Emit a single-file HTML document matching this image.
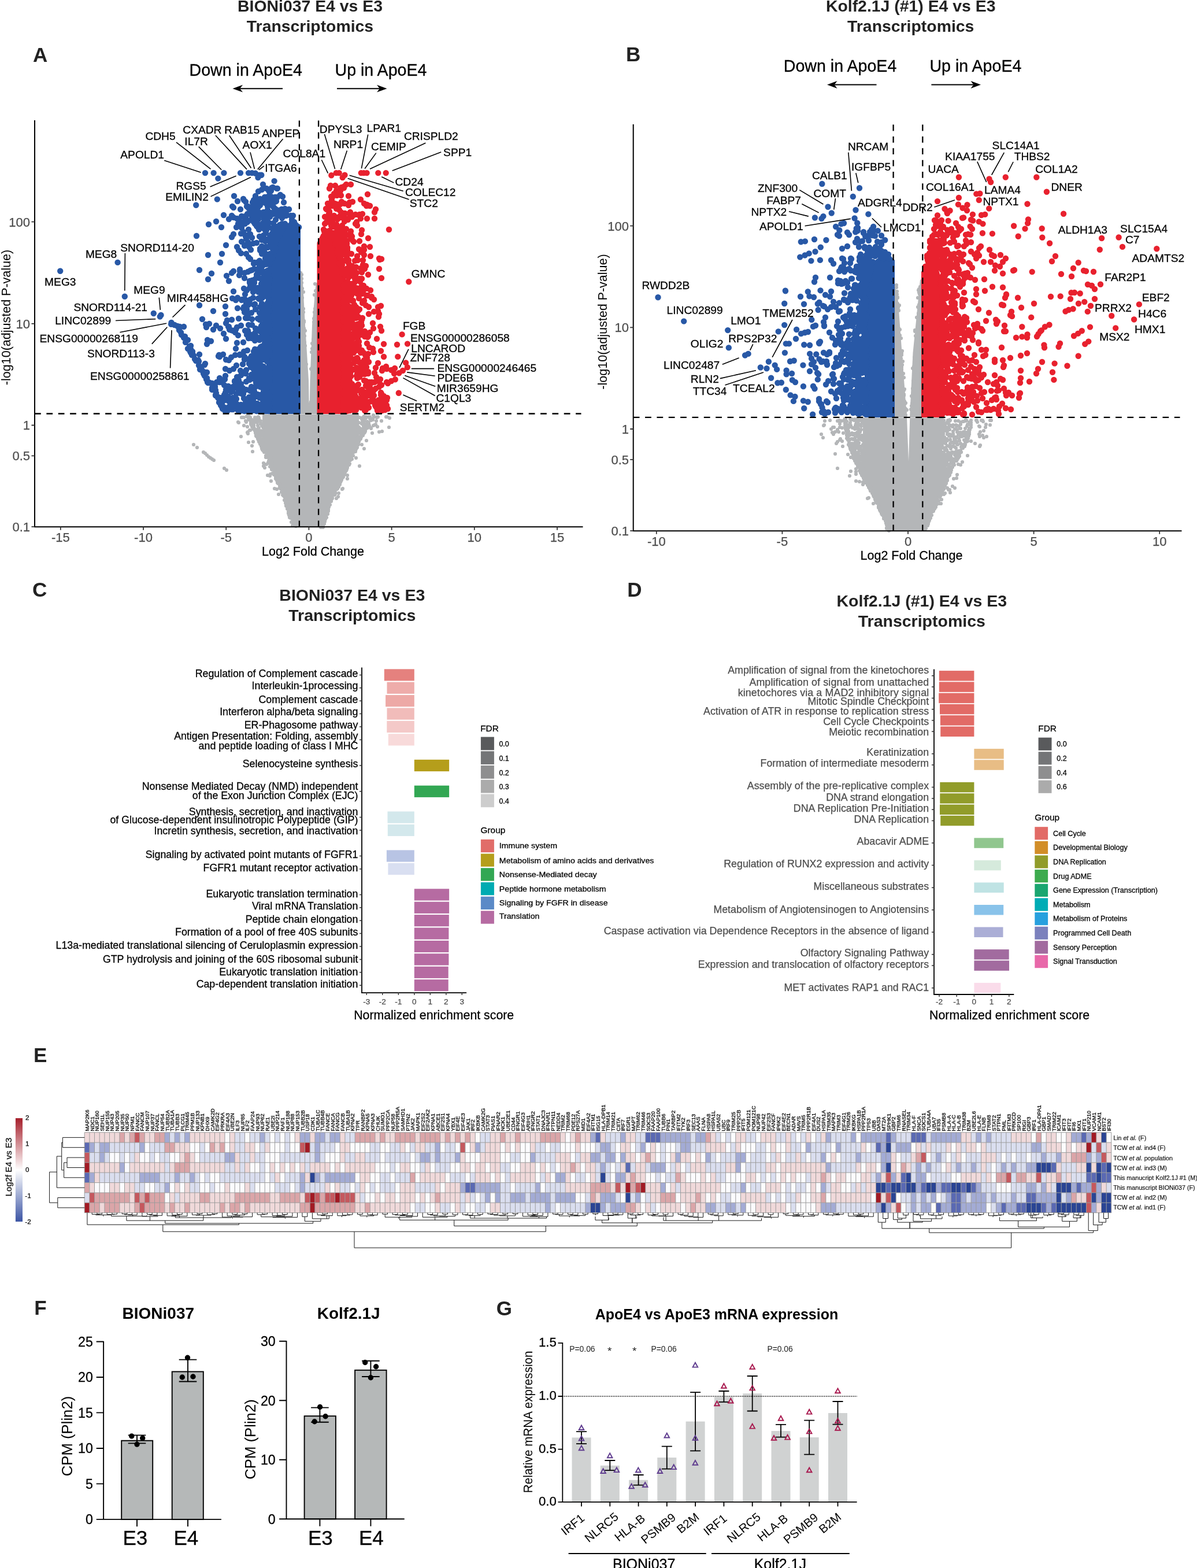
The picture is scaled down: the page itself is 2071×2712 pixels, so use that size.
<!DOCTYPE html>
<html lang="en"><head><meta charset="utf-8"><title>Figure</title>
<style>
html,body{margin:0;padding:0;background:#fff}
svg{display:block;font-family:"Liberation Sans",Arial,Helvetica,sans-serif}
.s{stroke:#000;stroke-width:.28px}
.g{fill:#4d4d4d;stroke:#4d4d4d;stroke-width:.25px}
</style></head><body>
<svg width="2071" height="2712" viewBox="0 0 2071 2712">
<rect width="2071" height="2712" fill="#fff"/>
<g id="pA">
<text x="536.5" y="19.6" font-size="28.4" text-anchor="middle" font-weight="bold" fill="#222">BIONi037 E4 vs E3</text>
<text x="536.5" y="54.5" font-size="28.4" text-anchor="middle" font-weight="bold" fill="#222">Transcriptomics</text>
<text x="57.1" y="106.7" font-size="35" font-weight="bold" fill="#222">A</text>
<text x="327.5" y="130.6" font-size="28.6" class="s">Down in ApoE4</text>
<text x="579.5" y="130.6" font-size="28.6" class="s">Up in ApoE4</text>
<path d="M489 153.2L415.1 153.2" stroke="#000" stroke-width="2"/><path d="M402.5 153.2L420 146.8L415.1 153.2L420 159.6Z" fill="#000"/>
<path d="M583 153.2L656.9 153.2" stroke="#000" stroke-width="2"/><path d="M669.5 153.2L652 159.6L656.9 153.2L652 146.8Z" fill="#000"/>
<path d="M454 716.5L454 724.6L454 732.7L454 740.8L454 748.9L454 757L454 765.1L454 773.2L457 781.3L460.6 789.4L464.2 797.5L467.8 805.6L471.5 813.8L475.1 821.9L478.8 830L482.5 838.1L486.1 846.2L489.8 854.3L492.6 862.4L495.1 870.5L497.5 878.6L500 886.7L502.4 894.8L504.9 902.9L507.8 911L558.2 911L561 902.9L563.8 894.8L566.7 886.7L569.5 878.6L572.4 870.5L575.2 862.4L578.4 854.3L582.4 846.2L586.4 838.1L590.4 830L594.4 821.9L598.4 813.8L602.2 805.6L605.9 797.5L609.6 789.4L613.3 781.3L617 773.2L620.7 765.1L621 757L621 748.9L621 740.8L621 732.7L621 724.6L621 716.5Z" fill="#b4b6b8"/>
<path d="M519 716V468L523 470L528 563L534 658L535 716ZM550 716V488L546.5 490L540 563L536.5 658L535.5 716Z" fill="#b4b6b8"/>
<path d="M600 806h0M597 817h0M625 754h0M439 736h0M639 736h0M559 909h0M584 845h0M474 821h0M447 755h0M604 804h0M593 819h0M467 807h0M557 912h0M459 779h0M453 774h0M501 883h0M560 904h0M501 895h0M509 909h0M495 869h0M439 735h0M438 741h0M436 738h0M478 827h0M625 755h0M440 741h0M451 759h0M616 777h0M448 759h0M635 738h0M446 759h0M456 776h0M639 736h0M464 790h0M510 905h0M446 754h0M565 895h0M575 862h0M624 756h0M467 800h0M645 726h0M616 768h0M481 834h0M437 731h0M592 827h0M503 896h0M428 721h0M443 752h0M481 829h0M555 909h0M580 852h0M647 721h0M576 854h0M600 812h0M612 780h0M575 861h0M575 861h0M606 786h0M561 893h0M566 886h0M485 840h0M638 734h0M559 911h0M574 861h0M600 804h0M643 724h0M470 812h0M585 838h0M451 768h0M449 757h0M559 894h0M612 782h0M447 757h0M506 889h0M480 831h0M567 881h0M579 856h0M468 806h0M448 760h0M613 779h0M506 909h0M499 888h0M577 856h0M433 722h0M468 806h0M441 745h0M485 840h0M569 875h0M489 851h0M427 720h0M490 857h0M577 854h0M584 838h0M504 894h0M561 899h0M585 840h0M606 791h0M507 902h0M485 845h0M580 843h0M617 759h0M595 822h0M613 780h0M436 734h0M594 825h0M495 875h0M498 874h0M444 745h0M595 818h0M507 902h0M504 903h0M614 774h0M584 842h0M458 779h0M568 882h0M555 906h0M481 829h0M481 836h0M557 907h0M479 827h0M491 852h0M561 904h0M453 770h0M569 877h0M470 811h0M506 898h0M494 870h0M489 852h0M608 787h0M632 742h0M452 767h0M461 791h0M475 821h0M582 842h0M568 884h0M575 862h0M504 894h0M618 760h0M500 891h0M455 768h0M497 880h0M606 796h0M430 721h0M511 906h0M594 816h0M444 755h0M439 739h0M478 829h0M448 754h0M510 898h0M637 730h0M457 782h0M472 818h0M580 854h0M443 753h0M447 756h0M476 818h0M576 855h0M485 840h0M558 909h0M620 768h0M501 876h0M564 892h0M498 867h0M492 859h0M430 720h0M585 842h0M493 848h0M581 846h0M558 912h0M579 854h0M588 838h0M452 768h0M461 791h0M618 767h0M560 906h0M559 912h0M589 834h0M642 727h0M445 751h0M483 837h0M595 820h0M461 789h0M615 773h0M453 776h0M631 748h0M609 794h0M559 910h0M638 732h0M507 907h0M596 820h0M557 908h0M482 835h0M447 758h0M477 821h0M468 807h0M479 831h0M555 912h0M496 861h0M569 871h0M460 788h0M587 833h0M492 865h0M556 896h0M430 726h0M485 839h0M478 823h0M592 825h0M460 791h0M574 863h0M434 732h0M497 868h0M465 801h0M582 845h0M615 781h0M471 801h0M637 737h0M477 828h0M487 851h0M624 759h0M434 734h0M456 773h0M611 788h0M578 856h0M562 897h0M497 874h0M461 780h0M451 766h0M461 789h0M625 756h0M571 873h0M626 752h0M503 889h0M594 824h0M561 906h0M594 824h0M434 734h0M633 734h0M632 746h0M622 761h0M595 819h0M559 906h0M599 814h0M506 896h0M567 879h0M566 880h0M557 904h0M496 874h0M464 800h0M469 791h0M447 758h0M439 730h0M636 740h0M434 730h0M590 832h0M443 754h0M621 764h0M444 754h0M628 752h0M499 877h0M618 769h0M593 824h0M476 812h0M497 874h0M595 821h0M494 846h0M431 720h0M575 857h0M442 749h0M566 887h0M586 842h0M629 747h0M646 718h0M438 734h0M493 857h0M561 904h0M499 885h0M505 896h0M500 879h0M630 749h0M457 779h0M601 809h0M609 788h0M601 808h0M568 879h0M489 856h0M486 828h0M495 873h0M484 838h0M456 776h0M609 794h0M493 860h0M562 902h0M499 879h0M441 745h0M447 753h0M568 881h0M442 749h0M465 797h0M596 817h0M573 867h0M465 798h0M603 796h0M583 846h0M430 722h0M439 739h0M596 817h0M628 749h0M563 894h0M630 746h0M559 910h0M621 756h0M484 840h0M591 830h0M612 782h0M633 742h0M630 744h0M477 827h0M563 895h0M632 742h0M618 774h0M501 880h0M477 825h0M559 910h0M487 846h0M605 792h0M496 874h0M442 746h0M479 829h0M477 828h0M484 843h0M560 905h0M471 809h0M572 865h0M597 812h0M468 798h0M589 828h0M605 802h0M456 780h0M571 860h0M493 864h0M438 742h0M475 816h0M475 820h0M454 778h0M564 895h0M578 847h0M622 761h0M588 828h0M632 742h0M504 903h0M458 781h0M564 892h0M480 832h0M645 724h0M560 900h0M470 810h0M507 892h0M499 881h0M567 889h0M624 757h0M436 728h0M495 859h0M493 857h0M579 853h0M447 761h0M490 856h0M581 847h0M608 790h0M450 763h0M563 898h0M635 736h0M604 804h0M480 835h0M619 767h0M494 865h0M616 772h0M512 910h0M597 808h0M475 815h0M454 752h0M452 751h0M453 764h0M453 764h0M453 762h0M448 725h0M447 754h0M445 722h0M455 770h0M454 733h0M450 765h0M455 779h0M456 780h0M454 770h0M453 736h0M448 752h0M453 750h0M445 730h0M456 761h0M446 727h0M449 747h0M440 726h0M448 746h0M455 776h0M436 733h0M451 763h0M453 766h0M444 726h0M443 730h0M451 760h0M452 754h0M446 750h0M452 760h0M455 779h0M451 758h0M451 733h0M452 772h0M448 754h0M454 771h0M455 748h0M441 722h0M454 735h0M444 729h0M449 765h0M451 748h0M441 725h0M452 745h0M455 769h0M445 747h0M455 773h0M451 762h0M448 760h0M448 723h0M455 776h0M454 761h0M454 764h0M446 736h0M444 730h0M453 773h0M453 751h0M450 765h0M451 748h0M443 723h0M445 731h0M446 729h0M450 768h0M455 769h0M451 755h0M455 772h0M436 726h0M455 779h0M445 748h0M454 763h0M448 764h0M453 765h0M456 779h0M452 750h0M455 774h0M451 765h0M451 753h0M441 743h0M437 732h0M448 740h0M455 750h0M441 729h0M455 767h0M447 743h0M450 763h0M447 721h0M452 745h0M451 728h0M439 742h0M455 774h0M446 742h0M447 724h0M456 779h0M454 774h0M445 747h0M455 739h0M620 767h0M628 742h0M628 722h0M623 746h0M621 763h0M620 769h0M621 731h0M634 734h0M620 758h0M627 730h0M628 753h0M627 751h0M630 733h0M638 721h0M629 721h0M620 738h0M619 767h0M628 723h0M621 763h0M629 737h0M620 760h0M627 753h0M626 746h0M630 720h0M620 758h0M619 740h0M621 761h0M625 753h0M624 754h0M623 747h0M621 760h0M621 741h0M620 763h0M626 725h0M624 748h0M619 743h0M619 764h0M621 731h0M619 767h0M623 757h0M626 733h0M619 766h0M625 748h0M636 738h0M631 741h0M619 732h0M621 759h0M621 757h0M634 721h0M626 754h0M631 744h0M619 757h0M623 747h0M620 764h0M629 731h0M620 766h0M620 744h0M620 767h0M620 738h0M629 736h0M626 723h0M628 731h0M619 761h0M622 759h0M626 746h0M634 735h0M619 768h0M626 742h0M622 722h0M633 723h0M622 740h0M624 743h0M631 744h0M620 766h0M635 729h0M621 739h0M619 749h0M640 721h0M623 749h0M640 724h0M630 727h0M632 734h0M620 740h0M620 769h0M429 747h0M429 750h0M463 822h0M432 744h0M418 722h0M660 728h0M417 755h0M670 721h0M482 855h0M650 734h0M436 771h0M461 803h0M421 722h0M656 747h0M433 744h0M582 862h0M422 736h0M437 781h0M456 806h0M592 846h0M652 721h0M668 721h0M661 746h0M654 721h0M644 749h0M428 748h0M648 735h0M601 822h0M438 764h0M586 853h0M475 845h0M467 823h0M469 832h0M642 741h0M479 846h0M458 809h0M456 801h0M428 738h0M653 738h0M626 769h0M673 739h0M646 736h0M425 728h0M412 730h0M468 820h0M630 776h0M585 859h0M651 728h0M422 722h0M616 792h0M430 765h0M622 806h0M652 722h0M634 762h0M674 723h0M593 845h0M642 740h0M601 828h0M413 731h0M426 730h0M523 532h0M525 540h0M544 595h0M541 679h0M540 603h0M538 695h0M525 534h0M530 663h0M526 581h0M540 594h0M526 555h0M537 700h0M550 495h0M547 546h0M519 487h0M539 638h0M541 662h0M547 515h0M526 557h0M528 572h0M519 489h0M527 608h0M524 544h0M535 709h0M538 697h0M543 590h0M538 638h0M545 491h0M534 705h0M534 705h0M539 639h0M530 668h0M536 709h0M526 555h0M529 659h0M544 552h0M527 581h0M522 507h0M542 587h0M530 630h0M528 598h0M523 527h0M543 551h0M526 602h0M530 657h0M534 713h0M545 557h0M546 503h0M531 662h0M544 540h0M530 652h0M527 592h0M525 505h0M530 698h0M532 698h0M520 517h0M540 636h0M524 581h0M523 499h0M523 515h0M522 482h0M543 599h0M539 609h0M521 490h0M522 489h0M524 593h0M544 551h0M535 708h0M541 618h0M538 701h0M526 568h0M530 650h0M522 475h0M527 630h0M523 515h0M545 534h0M525 560h0M543 557h0M527 612h0M544 551h0M547 527h0M544 510h0M534 711h0M547 528h0M335 769h0M341 774h0M352 782h0M355 784h0M358 787h0M361 790h0M364 792h0M367 794h0M370 796h0M388 810h0M392 813h0" stroke="#b4b6b8" stroke-width="6.2" stroke-linecap="round" fill="none"/>
<path d="M461 716V470L474 428L484 400L497 386L513 383L520 390V716Z" fill="#2858a6"/>
<path d="M463 668h0M453 534h0M442 584h0M462 427h0M467 643h0M455 606h0M432 578h0M463 617h0M442 605h0M350 552h0M442 669h0M394 705h0M390 679h0M459 486h0M458 437h0M435 628h0M468 416h0M454 610h0M446 466h0M458 653h0M388 683h0M360 483h0M450 430h0M432 486h0M423 481h0M392 691h0M455 663h0M477 429h0M451 600h0M440 489h0M413 433h0M465 551h0M463 542h0M448 397h0M458 661h0M422 531h0M472 396h0M409 699h0M422 499h0M449 451h0M459 417h0M449 607h0M466 650h0M396 694h0M421 681h0M433 496h0M453 599h0M458 671h0M429 550h0M473 417h0M423 425h0M356 561h0M455 497h0M435 669h0M466 609h0M448 456h0M415 613h0M457 676h0M457 576h0M464 657h0M447 708h0M358 595h0M449 553h0M456 634h0M345 613h0M441 700h0M421 534h0M430 585h0M429 419h0M433 676h0M484 389h0M403 688h0M460 708h0M456 586h0M427 520h0M406 659h0M427 550h0M445 619h0M438 702h0M436 411h0M464 708h0M416 671h0M462 625h0M433 629h0M452 510h0M429 549h0M465 562h0M463 524h0M438 708h0M464 711h0M442 639h0M449 461h0M454 573h0M489 396h0M456 663h0M450 455h0M447 633h0M465 444h0M432 489h0M449 621h0M443 625h0M426 660h0M453 633h0M450 497h0M386 613h0M449 619h0M384 439h0M452 491h0M423 540h0M413 665h0M460 414h0M449 541h0M459 548h0M445 498h0M481 398h0M466 524h0M409 632h0M426 674h0M445 682h0M492 391h0M475 432h0M407 575h0M451 468h0M424 572h0M427 502h0M457 576h0M441 526h0M399 698h0M413 658h0M476 413h0M440 581h0M460 606h0M391 559h0M456 544h0M452 482h0M425 696h0M438 618h0M478 393h0M474 412h0M465 503h0M417 664h0M411 533h0M454 642h0M435 648h0M445 710h0M462 546h0M380 661h0M474 422h0M461 691h0M395 705h0M458 512h0M422 608h0M389 710h0M461 457h0M430 527h0M380 654h0M439 683h0M443 660h0M444 479h0M318 565h0M456 682h0M461 561h0M477 406h0M445 624h0M401 472h0M461 538h0M417 649h0M373 683h0M463 451h0M456 647h0M466 521h0M465 530h0M444 466h0M463 575h0M447 709h0M473 396h0M466 456h0M466 703h0M461 530h0M420 671h0M455 530h0M454 615h0M451 583h0M455 648h0M454 666h0M450 711h0M456 571h0M382 701h0M440 615h0M375 661h0M438 505h0M429 545h0M447 604h0M439 639h0M438 615h0M410 593h0M467 442h0M451 710h0M394 710h0M456 561h0M377 688h0M433 468h0M424 532h0M447 619h0M391 586h0M445 392h0M461 469h0M441 589h0M384 661h0M460 711h0M426 640h0M430 701h0M468 419h0M441 502h0M460 575h0M378 616h0M459 539h0M437 622h0M431 654h0M466 556h0M420 682h0M464 684h0M455 502h0M467 410h0M421 703h0M395 673h0M424 518h0M465 708h0M463 486h0M466 686h0M438 693h0M476 409h0M391 674h0M422 689h0M374 563h0M429 709h0M397 641h0M413 675h0M437 689h0M481 404h0M465 539h0M455 689h0M388 666h0M345 528h0M435 541h0M416 641h0M465 607h0M449 607h0M465 594h0M451 645h0M427 696h0M472 431h0M441 604h0M443 500h0M458 678h0M465 518h0M467 455h0M439 688h0M440 465h0M424 509h0M465 519h0M463 473h0M465 693h0M463 642h0M381 568h0M462 709h0M458 667h0M457 701h0M461 553h0M433 692h0M460 644h0M442 580h0M441 640h0M423 709h0M449 688h0M450 573h0M365 590h0M445 698h0M453 525h0M452 709h0M408 666h0M433 492h0M474 426h0M390 638h0M464 500h0M461 398h0M457 454h0M357 566h0M453 439h0M436 467h0M482 408h0M434 635h0M399 698h0M422 707h0M450 669h0M460 566h0M391 622h0M487 395h0M419 646h0M383 688h0M431 687h0M467 654h0M467 711h0M454 657h0M475 392h0M410 707h0M438 680h0M408 519h0M468 421h0M446 659h0M410 661h0M423 617h0M399 695h0M481 405h0M461 562h0M442 709h0M409 690h0M427 579h0M485 404h0M465 703h0M400 618h0M442 535h0M455 459h0M421 701h0M455 710h0M459 710h0M432 707h0M425 699h0M456 474h0M417 700h0M402 516h0M436 585h0M439 456h0M481 401h0M438 496h0M467 615h0M455 612h0M442 568h0M465 601h0M425 698h0M457 488h0M440 619h0M453 483h0M463 428h0M441 637h0M444 709h0M415 705h0M460 695h0M431 629h0M450 501h0M448 665h0M467 444h0M462 610h0M465 508h0M459 539h0M431 622h0M461 655h0M464 494h0M419 709h0M379 614h0M460 489h0M425 709h0M453 614h0M472 430h0M464 552h0M410 427h0M454 561h0M466 487h0M461 603h0M359 588h0M461 455h0M453 586h0M406 692h0M455 503h0M420 630h0M448 517h0M462 700h0M389 692h0M428 606h0M448 647h0M462 566h0M439 527h0M417 563h0M395 565h0M476 404h0M452 550h0M449 633h0M453 550h0M390 650h0M436 485h0M452 465h0M457 552h0M463 660h0M396 486h0M447 663h0M460 701h0M393 554h0M454 705h0M460 503h0M460 449h0M458 613h0M444 666h0M411 669h0M420 710h0M456 484h0M461 688h0M395 706h0M466 567h0M432 620h0M466 659h0M450 630h0M478 402h0M431 427h0M462 578h0M464 481h0M463 584h0M443 704h0M387 577h0M453 410h0M446 551h0M435 495h0M433 694h0M438 632h0M431 523h0M412 580h0M464 473h0M465 696h0M443 662h0M435 616h0M403 669h0M389 656h0M467 483h0M463 588h0M470 446h0M404 672h0M429 572h0M438 633h0M440 686h0M419 674h0M460 702h0M433 687h0M467 575h0M456 395h0M460 642h0M366 473h0M404 691h0M392 477h0M461 685h0M455 693h0M417 438h0M462 613h0M456 650h0M425 550h0M451 496h0M443 619h0M442 645h0M427 535h0M432 657h0M465 696h0M449 640h0M463 710h0M355 629h0M463 468h0M448 660h0M461 661h0M403 572h0M459 642h0M466 702h0M459 500h0M419 518h0M457 705h0M406 660h0M456 513h0M450 620h0M407 614h0M396 673h0M457 428h0M425 409h0M395 686h0M451 700h0M396 623h0M460 536h0M426 439h0M465 601h0M452 667h0M354 631h0M408 570h0M454 706h0M454 515h0M464 681h0M443 708h0M449 588h0M455 581h0M415 711h0M439 655h0M454 643h0M451 708h0M462 664h0M437 710h0M443 648h0M466 596h0M397 703h0M443 585h0M410 652h0M408 603h0M404 469h0M433 518h0M438 617h0M441 576h0M414 476h0M403 708h0M436 562h0M475 434h0M449 613h0M479 414h0M461 582h0M447 505h0M456 513h0M471 446h0M409 681h0M433 448h0M463 670h0M426 525h0M466 595h0M451 611h0M477 421h0M455 622h0M463 540h0M445 655h0M445 614h0M369 570h0M426 423h0M460 472h0M440 677h0M436 552h0M466 661h0M456 704h0M411 515h0M455 709h0M400 678h0M467 439h0M460 403h0M415 614h0M446 500h0M435 671h0M454 544h0M462 553h0M482 403h0M426 413h0M415 466h0M444 475h0M407 706h0M415 469h0M464 709h0M447 516h0M360 441h0M423 622h0M429 543h0M425 646h0M418 519h0M458 617h0M423 621h0M463 588h0M444 711h0M456 677h0M444 682h0M390 530h0M466 538h0M445 454h0M438 515h0M450 650h0M417 706h0M415 708h0M450 433h0M410 566h0M449 409h0M482 393h0M423 711h0M401 553h0M452 564h0M400 571h0M380 617h0M467 637h0M449 657h0M486 392h0M417 670h0M450 703h0M462 638h0M448 569h0M455 484h0M484 400h0M458 594h0M450 711h0M465 440h0M439 608h0M434 672h0M447 707h0M395 668h0M432 498h0M397 570h0M465 511h0M405 699h0M345 467h0M462 496h0M432 581h0M462 567h0M471 404h0M464 641h0M457 541h0M451 683h0M454 566h0M390 543h0M450 393h0M471 428h0M464 474h0M464 575h0M410 699h0M467 595h0M465 488h0M430 445h0M445 606h0M412 710h0M433 709h0M453 426h0M409 701h0M455 528h0M442 498h0M437 632h0M453 670h0M462 443h0M454 498h0M467 688h0M456 407h0M472 397h0M459 707h0M424 708h0M362 560h0M456 665h0M460 682h0M436 710h0M449 630h0M475 413h0M447 473h0M466 703h0M396 565h0M412 708h0M416 680h0M429 470h0M460 677h0M433 405h0M460 427h0M446 708h0M474 433h0M465 665h0M460 448h0M447 705h0M442 686h0M430 562h0M432 703h0M440 708h0M459 481h0M459 475h0M404 638h0M430 711h0M421 592h0M457 414h0M457 682h0M454 611h0M464 586h0M450 531h0M461 708h0M438 421h0M459 447h0M488 396h0M467 685h0M463 699h0M441 483h0M462 612h0M462 552h0M426 698h0M413 551h0M463 473h0M460 663h0M466 607h0M440 454h0M449 481h0M434 432h0M423 472h0M448 683h0M401 708h0M443 667h0M381 454h0M404 504h0M471 427h0M465 562h0M369 538h0M461 602h0M428 370h0M433 364h0M493 361h0M505 380h0M463 363h0M479 326h0M459 371h0M466 338h0M453 328h0M465 330h0M485 337h0M503 373h0M437 370h0M491 350h0M482 371h0M424 374h0M464 343h0M445 372h0M470 325h0M450 344h0M455 319h0M509 384h0M442 339h0M444 371h0M507 373h0M445 381h0M448 373h0M442 382h0M488 387h0M450 389h0M478 392h0M478 348h0M441 353h0M472 324h0M443 347h0M430 382h0M444 381h0M505 385h0M480 393h0M482 391h0M452 371h0M473 358h0M477 347h0M493 387h0M439 346h0M463 357h0M473 386h0M477 367h0M484 369h0M473 370h0M444 346h0M500 362h0M444 391h0M470 371h0M441 363h0M423 383h0M454 346h0M450 344h0M469 330h0M476 341h0M480 372h0M478 365h0M466 351h0M439 378h0M477 380h0M482 393h0M492 369h0M459 351h0M487 362h0M435 379h0M457 374h0M447 331h0M489 372h0M495 373h0M488 362h0M481 373h0M483 369h0M430 370h0M488 377h0M440 365h0M456 367h0M489 340h0M480 341h0M469 340h0M418 394h0M412 387h0M517 393h0M479 363h0M440 363h0M464 356h0M424 387h0M465 369h0M495 369h0M451 372h0M480 392h0M471 349h0M417 387h0M467 375h0M445 351h0M464 346h0M476 361h0M476 349h0M493 364h0M439 384h0M474 393h0M450 355h0M461 379h0M443 377h0M441 387h0M461 387h0M474 359h0M472 368h0M425 381h0M409 393h0M480 326h0M437 350h0M468 341h0M414 386h0M442 340h0M461 326h0M383 393h0M361 388h0M458 396h0M441 369h0M460 378h0M396 379h0M430 360h0M458 343h0M438 352h0M458 397h0M430 397h0M438 376h0M466 351h0M465 393h0M466 338h0M460 384h0M404 359h0M463 375h0M444 391h0M415 383h0M401 410h0M402 357h0M464 344h0M461 381h0M455 386h0M444 420h0M340 408h0M404 376h0M447 379h0M422 346h0M418 418h0M436 364h0M448 367h0M470 405h0M438 378h0M411 348h0M447 358h0M429 357h0M418 374h0M401 373h0M465 385h0M457 379h0M410 378h0M425 349h0M459 346h0M469 346h0M469 368h0M421 401h0M405 339h0M458 341h0M404 405h0M438 356h0M428 407h0M461 382h0M461 341h0M429 382h0M425 376h0M423 386h0M387 372h0M374 383h0M391 424h0M417 404h0M457 385h0M421 344h0M427 357h0M428 384h0M458 374h0M416 362h0M453 415h0M333 608h0M357 656h0M367 674h0M372 670h0M389 707h0M359 659h0M330 608h0M353 645h0M346 639h0M325 603h0M344 632h0M379 696h0M385 707h0M307 564h0M380 693h0M383 702h0M363 662h0M325 588h0M348 637h0M346 635h0M373 684h0M320 582h0M329 599h0M354 649h0M372 668h0M369 669h0M352 646h0M328 605h0M358 644h0M367 663h0M310 568h0M321 592h0M373 675h0M355 644h0M328 599h0M332 614h0M353 648h0M314 579h0M311 565h0M337 621h0M384 696h0M330 604h0M384 696h0M330 598h0M384 704h0M367 671h0M318 584h0M333 611h0M335 615h0M313 575h0M374 680h0M344 625h0M390 707h0M378 687h0M384 698h0M354 650h0M310 571h0M358 654h0M302 562h0M339 624h0M346 634h0M320 583h0M359 661h0M343 623h0M387 704h0M329 608h0M385 705h0M350 641h0M360 662h0M330 610h0" stroke="#2858a6" stroke-width="10.4" stroke-linecap="round" fill="none"/>
<path d="M104.2 468.8h0M203.6 453.9h0M215.8 512.8h0M265.8 542h0M276.8 547.5h0M278.5 545h0M296.1 560.7h0M296.5 558h0M355 299.1h0M369.6 299.1h0M387.4 299.1h0M377.3 308.6h0M416 299.1h0M430 299.1h0M436 299.1h0M441.9 299.7h0M449.3 302.7h0M446.4 307.1h0M452.3 302.7h0M474.6 313.1h0M375.8 344.6h0M339.2 354.8h0" stroke="#2858a6" stroke-width="10.4" stroke-linecap="round" fill="none"/>
<path d="M548.5 716V420L556 404L580 408Q595 430 598 480V716Z" fill="#e8212e"/>
<path d="M610 505h0M621 516h0M595 695h0M604 675h0M603 674h0M594 690h0M631 573h0M596 680h0M595 503h0M613 685h0M637 643h0M613 579h0M594 621h0M602 470h0M592 467h0M614 603h0M595 681h0M640 427h0M590 402h0M615 501h0M598 588h0M608 533h0M594 521h0M596 644h0M609 491h0M637 646h0M602 574h0M593 615h0M594 702h0M622 417h0M623 568h0M610 693h0M606 544h0M604 530h0M599 529h0M608 584h0M595 573h0M630 658h0M612 678h0M594 404h0M629 501h0M587 414h0M632 614h0M613 708h0M617 650h0M641 502h0M624 579h0M626 698h0M601 429h0M612 584h0M598 609h0M640 670h0M594 576h0M638 543h0M598 530h0M582 420h0M609 578h0M602 678h0M598 673h0M625 705h0M600 525h0M590 421h0M664 595h0M609 531h0M625 496h0M595 640h0M626 502h0M596 548h0M598 497h0M615 478h0M595 535h0M630 623h0M594 691h0M646 609h0M600 538h0M648 697h0M616 462h0M634 668h0M599 710h0M683 637h0M598 706h0M628 501h0M595 651h0M601 437h0M634 697h0M638 531h0M610 492h0M589 411h0M621 598h0M614 482h0M586 425h0M630 441h0M594 629h0M618 547h0M595 417h0M628 505h0M626 678h0M600 601h0M606 650h0M612 501h0M595 636h0M626 482h0M624 464h0M603 701h0M603 593h0M595 468h0M612 709h0M594 704h0M617 546h0M595 567h0M612 561h0M600 641h0M613 681h0M618 623h0M601 522h0M601 545h0M598 497h0M627 550h0M610 477h0M603 480h0M622 652h0M599 687h0M625 695h0M664 617h0M609 475h0M604 631h0M597 703h0M594 451h0M635 619h0M687 596h0M613 698h0M594 532h0M590 434h0M595 521h0M596 698h0M660 481h0M598 434h0M639 695h0M634 579h0M614 536h0M598 677h0M610 698h0M682 646h0M637 704h0M596 689h0M586 432h0M616 550h0M605 613h0M629 684h0M619 621h0M592 470h0M605 605h0M601 428h0M611 670h0M615 709h0M598 700h0M614 578h0M619 666h0M628 639h0M650 703h0M598 597h0M622 645h0M667 695h0M609 664h0M612 699h0M582 417h0M617 675h0M597 534h0M620 665h0M594 659h0M643 515h0M637 475h0M604 666h0M618 548h0M613 539h0M601 661h0M595 697h0M595 554h0M657 449h0M593 540h0M606 618h0M595 640h0M594 658h0M611 598h0M669 661h0M600 445h0M602 477h0M629 494h0M631 627h0M598 627h0M596 607h0M600 507h0M637 582h0M655 548h0M622 504h0M621 499h0M601 433h0M613 527h0M599 642h0M603 581h0M618 508h0M600 711h0M606 541h0M609 520h0M629 691h0M578 412h0M617 542h0M611 544h0M599 451h0M617 472h0M600 700h0M643 661h0M586 431h0M652 586h0M615 505h0M641 443h0M621 645h0M601 494h0M661 641h0M623 695h0M601 504h0M599 693h0M618 654h0M598 636h0M628 696h0M594 472h0M615 625h0M592 473h0M619 450h0M603 500h0M596 702h0M599 682h0M635 594h0M621 560h0M600 703h0M626 553h0M596 695h0M608 638h0M598 633h0M625 699h0M600 420h0M584 433h0M605 542h0M609 460h0M656 543h0M581 419h0M595 601h0M600 561h0M604 514h0M661 710h0M602 688h0M595 575h0M623 487h0M622 690h0M616 687h0M603 695h0M614 597h0M659 529h0M605 632h0M633 667h0M600 623h0M609 672h0M602 464h0M606 472h0M601 554h0M629 610h0M611 697h0M603 656h0M599 631h0M594 556h0M602 660h0M647 675h0M647 518h0M599 686h0M613 639h0M631 465h0M587 455h0M606 708h0M593 604h0M597 628h0M591 450h0M598 637h0M591 459h0M600 600h0M626 508h0M598 415h0M594 663h0M611 566h0M597 471h0M595 408h0M600 706h0M612 418h0M619 499h0M636 643h0M611 568h0M660 572h0M601 464h0M592 458h0M604 628h0M609 704h0M606 471h0M602 702h0M601 487h0M610 695h0M597 555h0M616 620h0M606 497h0M581 405h0M595 495h0M599 434h0M643 676h0M588 446h0M656 447h0M637 626h0M613 506h0M603 617h0M626 471h0M580 423h0M625 558h0M594 665h0M618 443h0M603 509h0M639 601h0M632 695h0M608 511h0M600 420h0M589 446h0M603 610h0M631 582h0M625 405h0M625 501h0M609 696h0M596 585h0M593 440h0M596 658h0M604 569h0M600 422h0M598 603h0M629 704h0M610 544h0M607 579h0M584 438h0M639 661h0M605 638h0M603 603h0M595 492h0M626 563h0M630 630h0M621 626h0M605 693h0M618 561h0M594 593h0M646 568h0M600 650h0M600 541h0M595 693h0M647 539h0M614 488h0M628 450h0M607 651h0M637 412h0M618 534h0M596 630h0M600 634h0M620 537h0M654 538h0M600 711h0M607 694h0M596 435h0M597 477h0M638 626h0M631 644h0M620 548h0M607 707h0M585 408h0M624 551h0M619 586h0M602 616h0M600 645h0M595 515h0M614 690h0M607 406h0M627 524h0M614 668h0M616 709h0M597 707h0M606 689h0M600 589h0M597 698h0M585 435h0M656 669h0M598 709h0M621 431h0M631 637h0M630 426h0M607 413h0M622 482h0M616 606h0M599 429h0M611 708h0M614 451h0M599 493h0M643 513h0M645 603h0M605 710h0M600 641h0M633 528h0M654 531h0M603 691h0M637 612h0M603 450h0M634 499h0M623 574h0M628 458h0M594 680h0M634 511h0M650 672h0M597 493h0M625 681h0M597 540h0M588 437h0M656 465h0M630 689h0M658 565h0M608 599h0M648 661h0M662 637h0M661 706h0M633 709h0M587 421h0M607 551h0M649 701h0M636 583h0M598 706h0M643 662h0M594 708h0M607 619h0M633 460h0M633 659h0M634 626h0M595 527h0M608 591h0M615 594h0M606 516h0M640 575h0M598 520h0M603 685h0M589 421h0M660 448h0M604 514h0M610 497h0M593 420h0M622 535h0M598 538h0M608 559h0M630 520h0M607 668h0M609 584h0M610 416h0M603 455h0M607 688h0M609 697h0M611 597h0M592 410h0M599 678h0M611 520h0M612 610h0M624 610h0M594 550h0M601 582h0M609 554h0M616 498h0M596 579h0M598 502h0M618 619h0M651 652h0M612 708h0M617 636h0M616 531h0M592 425h0M632 622h0M601 563h0M587 432h0M617 699h0M625 436h0M613 471h0M602 577h0M611 679h0M608 465h0M609 409h0M617 567h0M659 607h0M594 465h0M608 439h0M632 625h0M626 606h0M620 580h0M630 432h0M606 587h0M620 508h0M615 695h0M623 648h0M604 678h0M603 656h0M645 559h0M619 534h0M605 491h0M622 604h0M634 668h0M628 432h0M669 701h0M597 663h0M604 542h0M621 675h0M613 569h0M619 577h0M623 485h0M636 511h0M621 591h0M596 691h0M597 369h0M585 355h0M575 341h0M575 383h0M568 360h0M576 403h0M570 379h0M562 404h0M562 387h0M574 375h0M576 405h0M560 397h0M565 362h0M578 352h0M576 375h0M584 356h0M569 370h0M588 374h0M602 378h0M570 369h0M562 404h0M580 356h0M570 366h0M570 399h0M590 376h0M583 338h0M590 338h0M618 390h0M562 404h0M596 369h0M650 362h0M623 372h0M582 330h0M615 387h0M621 372h0M576 392h0M582 388h0M636 336h0M626 398h0M610 349h0M589 325h0M585 356h0M587 363h0M606 367h0M571 385h0M574 346h0M581 358h0M606 373h0M567 407h0M586 355h0M599 319h0M595 325h0M576 379h0M569 407h0M572 321h0M605 350h0M573 390h0M564 400h0M591 349h0M609 375h0M634 356h0M596 383h0M569 378h0M648 378h0M580 321h0M573 356h0M591 393h0M603 339h0M561 400h0M596 322h0M583 400h0M578 373h0M635 378h0M602 380h0M627 370h0M581 393h0M575 356h0M589 407h0M589 330h0M590 367h0M635 354h0M615 371h0M630 352h0M585 376h0M648 367h0M585 378h0M582 361h0M582 353h0M567 352h0M564 361h0M564 385h0M570 402h0M589 353h0M603 355h0M640 356h0M570 326h0M594 400h0M596 352h0M585 361h0M588 353h0M617 384h0M590 351h0M624 378h0M622 371h0M574 403h0M584 379h0M588 393h0M594 374h0M579 352h0M607 319h0M599 396h0M600 406h0M578 335h0M562 403h0M607 400h0M573 340h0M592 390h0M591 324h0M624 345h0M562 375h0M606 690h0M669 638h0M605 659h0M624 634h0M660 666h0M613 675h0M658 701h0M632 707h0M634 635h0M652 706h0M662 693h0M665 692h0M618 647h0M637 677h0M671 707h0M649 694h0M654 628h0M653 707h0M639 684h0M616 702h0M648 645h0M658 656h0M645 689h0M652 697h0M661 687h0M632 698h0M608 709h0M606 703h0M632 688h0M608 641h0M612 628h0M631 647h0M649 701h0M606 693h0M654 707h0M677 659h0M660 700h0M642 694h0M635 699h0M623 637h0M670 688h0M664 685h0M630 678h0M652 659h0M666 709h0M656 659h0M659 683h0M653 710h0M634 643h0M655 657h0M660 681h0M614 682h0M659 679h0M638 705h0M606 646h0M630 643h0M655 692h0M626 674h0M635 706h0M677 640h0M655 659h0M671 663h0M615 706h0M606 645h0M634 679h0M650 636h0M610 702h0M645 683h0M647 684h0M631 710h0M626 647h0M618 704h0M668 634h0M629 689h0M669 692h0" stroke="#e8212e" stroke-width="10.4" stroke-linecap="round" fill="none"/>
<path d="M573.3 303.3h0M581.7 299.1h0M586.7 299.1h0M596.5 302.7h0M592.7 307.1h0M624.8 299.1h0M629.3 299.1h0M634.6 299.1h0M654.3 299.1h0M667.7 299.1h0M707.3 487.2h0M673 397h0M695.6 578.4h0M705 594.6h0M688.3 616.9h0M702.1 627.4h0M704.8 635.2h0M696.9 641h0M690.4 645.2h0M683.8 656.2h0M689.8 679.8h0" stroke="#e8212e" stroke-width="10.4" stroke-linecap="round" fill="none"/>
<path d="M60 208V911.2H1008.5" stroke="#000" stroke-width="2" fill="none"/>
<text x="52" y="391.5" font-size="22" text-anchor="end" class="g">100</text>
<text x="52" y="567.7" font-size="22" text-anchor="end" class="g">10</text>
<text x="52" y="743.4" font-size="22" text-anchor="end" class="g">1</text>
<text x="52" y="796.3" font-size="22" text-anchor="end" class="g">0.5</text>
<text x="52" y="919.1" font-size="22" text-anchor="end" class="g">0.1</text>
<text x="104.8" y="937" font-size="22" text-anchor="middle" class="g">-15</text>
<text x="248" y="937" font-size="22" text-anchor="middle" class="g">-10</text>
<text x="391.2" y="937" font-size="22" text-anchor="middle" class="g">-5</text>
<text x="534.4" y="937" font-size="22" text-anchor="middle" class="g">0</text>
<text x="677.6" y="937" font-size="22" text-anchor="middle" class="g">5</text>
<text x="820.8" y="937" font-size="22" text-anchor="middle" class="g">10</text>
<text x="964" y="937" font-size="22" text-anchor="middle" class="g">15</text>
<path d="M60 383.6h-5.5M60 559.8h-5.5M60 735.5h-5.5M60 788.4h-5.5M60 911.2h-5.5M104.8 911.2v5.5M248 911.2v5.5M391.2 911.2v5.5M534.4 911.2v5.5M677.6 911.2v5.5M820.8 911.2v5.5M964 911.2v5.5" stroke="#333" stroke-width="1.8" fill="none"/>
<path d="M60 715.5H1005.5" stroke="#000" stroke-width="2.3" stroke-dasharray="10.8 9.55" fill="none"/>
<path d="M517.9 911.2V208" stroke="#000" stroke-width="2.3" stroke-dasharray="10.8 9.55" fill="none"/>
<path d="M551.1 911.2V208" stroke="#000" stroke-width="2.3" stroke-dasharray="10.8 9.55" fill="none"/>
<text x="541.5" y="960.6" font-size="21.5" text-anchor="middle" class="s">Log2 Fold Change</text>
<text transform="translate(17.5 549) rotate(-90)" font-size="21.5" text-anchor="middle">-log10(adjusted P-value)</text>
<text x="251.4" y="241.7" font-size="19.2" class="s">CDH5</text>
<text x="316.3" y="230.7" font-size="19.2" class="s">CXADR</text>
<text x="388.3" y="230.7" font-size="19.2" class="s">RAB15</text>
<text x="453.2" y="237.2" font-size="19.2" class="s">ANPEP</text>
<text x="319.3" y="251.2" font-size="19.2" class="s">IL7R</text>
<text x="419.6" y="257.4" font-size="19.2" class="s">AOX1</text>
<text x="208.3" y="274.4" font-size="19.2" class="s">APOLD1</text>
<text x="489.5" y="272.3" font-size="19.2" class="s">COL8A1</text>
<text x="458.3" y="296.7" font-size="19.2" class="s">ITGA6</text>
<text x="304.4" y="328" font-size="19.2" class="s">RGS5</text>
<text x="286.2" y="346.7" font-size="19.2" class="s">EMILIN2</text>
<text x="552.8" y="229.5" font-size="19.2" class="s">DPYSL3</text>
<text x="634.6" y="228.3" font-size="19.2" class="s">LPAR1</text>
<text x="698.9" y="242.3" font-size="19.2" class="s">CRISPLD2</text>
<text x="576.9" y="256.2" font-size="19.2" class="s">NRP1</text>
<text x="642.1" y="260.4" font-size="19.2" class="s">CEMIP</text>
<text x="767.1" y="270.2" font-size="19.2" class="s">SPP1</text>
<text x="683.5" y="321.1" font-size="19.2" class="s">CD24</text>
<text x="701" y="339.3" font-size="19.2" class="s">COLEC12</text>
<text x="708.8" y="357.7" font-size="19.2" class="s">STC2</text>
<text x="711.7" y="480.4" font-size="19.2" class="s">GMNC</text>
<text x="208.3" y="434.8" font-size="19.2" class="s">SNORD114-20</text>
<text x="147.9" y="445.5" font-size="19.2" class="s">MEG8</text>
<text x="77.1" y="493.8" font-size="19.2" class="s">MEG3</text>
<text x="231.3" y="507.7" font-size="19.2" class="s">MEG9</text>
<text x="288.7" y="522" font-size="19.2" class="s">MIR4458HG</text>
<text x="127.4" y="538.4" font-size="19.2" class="s">SNORD114-21</text>
<text x="95.2" y="561" font-size="19.2" class="s">LINC02899</text>
<text x="68.5" y="592" font-size="19.2" class="s">ENSG00000268119</text>
<text x="150.9" y="617.9" font-size="19.2" class="s">SNORD113-3</text>
<text x="156" y="656.8" font-size="19.2" class="s">ENSG00000258861</text>
<text x="696.9" y="570.3" font-size="19.2" class="s">FGB</text>
<text x="710" y="591.2" font-size="19.2" class="s">ENSG00000286058</text>
<text x="711.3" y="608.5" font-size="19.2" class="s">LNCAROD</text>
<text x="709.5" y="625.3" font-size="19.2" class="s">ZNF728</text>
<text x="756.4" y="642.6" font-size="19.2" class="s">ENSG00000246465</text>
<text x="756.4" y="660.1" font-size="19.2" class="s">PDE6B</text>
<text x="755.8" y="677.7" font-size="19.2" class="s">MIR3659HG</text>
<text x="754.5" y="694.7" font-size="19.2" class="s">C1QL3</text>
<text x="691.7" y="711.2" font-size="19.2" class="s">SERTM2</text>
<path d="M305 246.1L364.5 292.3M343.7 253.6L383.3 293.8M372.9 234.2L427 292.9M396.7 234.2L434.5 290.8M433 263.4L440.4 292.3M489.5 240.2L445.8 292.9M456.8 287.2L447.9 293.8M284.2 277.4L347.6 298.2M363.6 322.9L408.6 304.2M364.5 339.9L433.9 306.5M556.4 276.5L567.4 299.7M561.4 232.1L579.6 292.3M600.4 260.4L589.7 292.9M636.7 232.7L625.4 291.4M650.7 264.6L631.1 291.7M736.4 247.3L640 292.3M763.2 263.1L678.7 295.2M681.4 316.1L660.2 305.7M697.7 330.4L604.6 303.3M707.6 344.9L601.6 308.6M216.4 438.1L215.8 502.7M275.3 514.6L277.4 536M320.5 527.4L298.5 548.8M200 554.5L269.3 551.8M207.4 574.7L288.1 559.2M262.8 594.9L289.3 565.8M294.6 636.6L297 571.1M706.9 603.8L691.1 635.8M711.8 637.6L751.1 637.6M704.2 643.9L752.7 650.2M700.3 649.4L753.2 668.2M697.4 653.6L752.7 684.5M697.4 682.9L721 693.4" stroke="#000" stroke-width="1.6" fill="none"/>
</g>
<g id="pB">
<text x="1575.7" y="19.6" font-size="28.4" text-anchor="middle" font-weight="bold" fill="#222">Kolf2.1J (#1) E4 vs E3</text>
<text x="1575.7" y="54.5" font-size="28.4" text-anchor="middle" font-weight="bold" fill="#222">Transcriptomics</text>
<text x="1083" y="106.4" font-size="35" font-weight="bold" fill="#222">B</text>
<text x="1355.8" y="124.2" font-size="28.6" class="s">Down in ApoE4</text>
<text x="1608.4" y="124.2" font-size="28.6" class="s">Up in ApoE4</text>
<path d="M1516.5 146.5L1443.6 146.5" stroke="#000" stroke-width="2"/><path d="M1431 146.5L1448.5 140.1L1443.6 146.5L1448.5 152.9Z" fill="#000"/>
<path d="M1611.4 146.5L1684.4 146.5" stroke="#000" stroke-width="2"/><path d="M1697 146.5L1679.5 152.9L1684.4 146.5L1679.5 140.1Z" fill="#000"/>
<path d="M1493 722.5L1493 730.6L1493 738.8L1493 746.9L1493 755L1493 763.1L1493 771.2L1493 779.4L1493 787.5L1493 795.6L1493 803.8L1493 811.9L1493 820L1495.9 828.1L1500.4 836.2L1504.9 844.4L1509.4 852.5L1513.6 860.6L1517.2 868.8L1520.9 876.9L1524.6 885L1528.3 893.1L1532 901.2L1534.3 909.4L1535.8 917.5L1600.7 917.5L1603.5 909.4L1606.6 901.2L1610.3 893.1L1614 885L1617.7 876.9L1621.4 868.8L1625 860.6L1628.6 852.5L1630 844.4L1630 836.2L1630 828.1L1630 820L1630 811.9L1630 803.8L1630 795.6L1630 787.5L1630 779.4L1630 771.2L1630 763.1L1630 755L1630 746.9L1630 738.8L1630 730.6L1630 722.5Z" fill="#b4b6b8"/>
<path d="M1547 722V498L1550 500L1553.5 515L1560.5 610L1569 722ZM1596 722V482L1592 484L1589 515L1579.5 610L1574 722Z" fill="#b4b6b8"/>
<path d="M1569 721L1572 798L1574.3 721Z" fill="#fff"/>
<path d="M1606 904h0M1501 839h0M1495 827h0M1470 767h0M1462 729h0M1639 824h0M1479 794h0M1626 852h0M1534 913h0M1634 836h0M1479 785h0M1501 839h0M1507 849h0M1525 883h0M1465 746h0M1636 836h0M1476 789h0M1617 876h0M1471 774h0M1528 886h0M1633 830h0M1672 757h0M1467 735h0M1627 858h0M1608 881h0M1519 870h0M1535 914h0M1488 815h0M1606 906h0M1495 827h0M1639 830h0M1533 900h0M1656 791h0M1517 858h0M1626 859h0M1474 782h0M1615 874h0M1677 745h0M1658 789h0M1535 910h0M1637 834h0M1491 816h0M1518 864h0M1673 752h0M1672 764h0M1486 806h0M1513 860h0M1635 832h0M1658 782h0M1530 892h0M1618 876h0M1476 786h0M1661 783h0M1648 806h0M1645 817h0M1465 741h0M1666 775h0M1487 814h0M1499 834h0M1527 890h0M1597 916h0M1472 778h0M1673 753h0M1650 801h0M1476 781h0M1673 757h0M1535 902h0M1677 751h0M1641 815h0M1614 884h0M1501 839h0M1527 891h0M1486 807h0M1529 892h0M1656 795h0M1655 785h0M1601 915h0M1618 875h0M1462 732h0M1499 828h0M1483 803h0M1613 884h0M1484 805h0M1489 811h0M1612 884h0M1505 845h0M1630 843h0M1484 808h0M1525 888h0M1462 731h0M1602 914h0M1475 777h0M1505 841h0M1497 830h0M1465 737h0M1659 784h0M1620 870h0M1658 792h0M1474 776h0M1520 878h0M1535 912h0M1534 900h0M1627 858h0M1606 904h0M1677 746h0M1617 879h0M1602 911h0M1637 836h0M1629 850h0M1520 867h0M1523 884h0M1509 853h0M1536 914h0M1632 835h0M1614 880h0M1653 793h0M1637 824h0M1465 740h0M1628 855h0M1615 881h0M1471 752h0M1507 844h0M1639 823h0M1635 840h0M1617 880h0M1612 885h0M1602 910h0M1480 794h0M1643 822h0M1470 772h0M1531 897h0M1472 772h0M1634 840h0M1672 754h0M1631 848h0M1533 905h0M1516 868h0M1465 742h0M1641 818h0M1652 797h0M1675 758h0M1612 891h0M1512 859h0M1627 846h0M1603 909h0M1663 782h0M1638 826h0M1630 845h0M1650 802h0M1478 790h0M1461 726h0M1490 819h0M1603 905h0M1476 778h0M1506 843h0M1529 897h0M1678 742h0M1604 905h0M1626 858h0M1624 866h0M1519 867h0M1526 890h0M1479 797h0M1463 736h0M1465 747h0M1677 744h0M1660 789h0M1620 867h0M1609 890h0M1662 779h0M1619 875h0M1610 885h0M1511 849h0M1607 902h0M1488 810h0M1467 761h0M1604 895h0M1630 839h0M1523 881h0M1503 843h0M1521 878h0M1463 724h0M1601 912h0M1472 768h0M1506 848h0M1465 758h0M1533 902h0M1514 864h0M1652 796h0M1476 788h0M1506 847h0M1520 875h0M1464 742h0M1465 751h0M1609 890h0M1522 882h0M1678 733h0M1633 846h0M1462 724h0M1678 730h0M1601 911h0M1609 889h0M1491 819h0M1518 861h0M1601 914h0M1472 768h0M1532 901h0M1635 836h0M1533 900h0M1469 768h0M1464 745h0M1471 776h0M1678 743h0M1522 881h0M1515 866h0M1477 775h0M1658 790h0M1607 900h0M1602 911h0M1465 729h0M1495 829h0M1643 814h0M1636 837h0M1615 881h0M1523 883h0M1646 813h0M1602 909h0M1608 891h0M1511 857h0M1498 835h0M1610 896h0M1680 731h0M1520 877h0M1671 762h0M1477 791h0M1658 789h0M1534 908h0M1476 785h0M1523 884h0M1634 836h0M1504 842h0M1617 877h0M1651 804h0M1677 748h0M1677 742h0M1505 845h0M1648 808h0M1605 901h0M1525 882h0M1618 872h0M1465 753h0M1676 747h0M1468 752h0M1505 846h0M1605 909h0M1518 861h0M1475 777h0M1501 839h0M1517 870h0M1669 770h0M1641 820h0M1653 794h0M1466 740h0M1654 793h0M1621 872h0M1626 852h0M1641 824h0M1501 837h0M1506 844h0M1618 878h0M1655 797h0M1645 810h0M1494 823h0M1496 826h0M1610 893h0M1484 802h0M1512 856h0M1463 734h0M1480 794h0M1468 769h0M1477 781h0M1462 736h0M1645 811h0M1601 914h0M1613 885h0M1521 878h0M1534 900h0M1649 804h0M1497 828h0M1468 753h0M1463 741h0M1488 815h0M1461 728h0M1497 830h0M1679 735h0M1629 853h0M1669 772h0M1488 812h0M1670 769h0M1538 918h0M1528 890h0M1529 894h0M1482 801h0M1469 750h0M1465 758h0M1474 783h0M1608 900h0M1477 787h0M1469 769h0M1674 734h0M1667 769h0M1515 865h0M1670 752h0M1615 884h0M1529 893h0M1502 838h0M1527 891h0M1680 735h0M1482 794h0M1676 754h0M1644 818h0M1603 908h0M1639 831h0M1521 877h0M1469 753h0M1608 900h0M1506 848h0M1653 794h0M1491 822h0M1473 779h0M1469 765h0M1629 851h0M1464 734h0M1645 813h0M1680 727h0M1609 889h0M1500 836h0M1626 856h0M1531 895h0M1670 764h0M1638 823h0M1478 781h0M1467 756h0M1464 728h0M1614 882h0M1613 882h0M1632 845h0M1472 774h0M1641 824h0M1462 729h0M1675 754h0M1510 850h0M1680 739h0M1660 785h0M1515 862h0M1637 830h0M1465 753h0M1674 758h0M1505 846h0M1506 849h0M1645 810h0M1477 793h0M1633 845h0M1481 801h0M1505 841h0M1534 914h0M1471 775h0M1668 771h0M1495 827h0M1662 782h0M1644 813h0M1468 759h0M1626 860h0M1674 763h0M1677 730h0M1522 881h0M1523 883h0M1609 890h0M1619 877h0M1675 757h0M1494 825h0M1489 817h0M1495 821h0M1493 817h0M1491 753h0M1481 789h0M1494 825h0M1491 725h0M1494 804h0M1479 771h0M1493 816h0M1467 744h0M1489 727h0M1495 816h0M1492 815h0M1472 775h0M1469 739h0M1494 770h0M1485 782h0M1493 823h0M1495 828h0M1483 738h0M1467 746h0M1493 823h0M1494 802h0M1485 795h0M1495 818h0M1493 817h0M1494 793h0M1479 778h0M1494 820h0M1490 725h0M1474 749h0M1474 767h0M1483 753h0M1492 815h0M1491 821h0M1480 782h0M1478 750h0M1492 807h0M1491 789h0M1494 805h0M1494 822h0M1489 801h0M1488 795h0M1494 824h0M1478 787h0M1471 737h0M1479 742h0M1494 803h0M1463 740h0M1490 791h0M1494 827h0M1490 743h0M1479 725h0M1491 813h0M1493 818h0M1481 767h0M1489 818h0M1484 737h0M1472 736h0M1494 814h0M1491 809h0M1487 727h0M1489 802h0M1477 770h0M1492 788h0M1482 728h0M1483 785h0M1494 725h0M1494 804h0M1488 775h0M1467 759h0M1493 730h0M1493 769h0M1491 784h0M1491 791h0M1476 760h0M1495 777h0M1495 800h0M1486 752h0M1480 766h0M1481 784h0M1480 767h0M1476 752h0M1495 780h0M1466 746h0M1485 773h0M1485 785h0M1493 772h0M1490 795h0M1492 795h0M1492 822h0M1475 740h0M1484 804h0M1494 763h0M1481 750h0M1482 739h0M1495 792h0M1495 823h0M1494 815h0M1471 731h0M1495 825h0M1477 774h0M1493 781h0M1494 823h0M1492 791h0M1494 824h0M1492 816h0M1486 766h0M1483 774h0M1486 797h0M1483 741h0M1486 793h0M1486 746h0M1491 795h0M1483 748h0M1492 811h0M1490 737h0M1494 827h0M1491 757h0M1485 727h0M1484 784h0M1473 751h0M1478 727h0M1466 739h0M1486 757h0M1473 759h0M1492 823h0M1484 747h0M1494 823h0M1486 760h0M1488 754h0M1463 742h0M1486 790h0M1494 825h0M1491 728h0M1483 784h0M1489 779h0M1495 827h0M1486 775h0M1495 828h0M1483 750h0M1480 756h0M1486 772h0M1485 776h0M1481 765h0M1486 795h0M1492 760h0M1481 733h0M1486 802h0M1495 796h0M1489 772h0M1481 750h0M1471 760h0M1493 798h0M1483 764h0M1480 761h0M1474 726h0M1480 794h0M1492 812h0M1495 824h0M1480 772h0M1480 771h0M1494 814h0M1492 819h0M1482 731h0M1488 793h0M1492 804h0M1483 725h0M1489 806h0M1491 761h0M1476 759h0M1494 788h0M1491 818h0M1479 766h0M1474 725h0M1485 741h0M1493 814h0M1492 804h0M1494 805h0M1488 789h0M1484 768h0M1476 740h0M1486 759h0M1485 808h0M1492 807h0M1481 737h0M1492 778h0M1489 789h0M1487 734h0M1494 788h0M1484 725h0M1480 736h0M1477 777h0M1495 829h0M1493 824h0M1479 773h0M1494 761h0M1487 793h0M1491 804h0M1471 725h0M1490 809h0M1484 774h0M1493 810h0M1468 746h0M1485 729h0M1492 732h0M1480 773h0M1488 790h0M1495 788h0M1487 774h0M1482 799h0M1491 793h0M1485 802h0M1483 734h0M1488 747h0M1633 791h0M1636 825h0M1630 767h0M1640 727h0M1644 813h0M1633 817h0M1667 729h0M1632 775h0M1634 801h0M1653 797h0M1628 855h0M1630 833h0M1635 832h0M1634 756h0M1637 790h0M1646 754h0M1629 852h0M1645 797h0M1646 785h0M1643 811h0M1629 850h0M1628 853h0M1639 812h0M1662 767h0M1629 848h0M1635 809h0M1640 732h0M1645 808h0M1640 825h0M1650 772h0M1643 821h0M1634 804h0M1629 854h0M1671 753h0M1666 729h0M1630 786h0M1629 851h0M1628 854h0M1636 741h0M1630 737h0M1628 856h0M1629 849h0M1634 822h0M1634 743h0M1659 758h0M1635 789h0M1641 804h0M1632 839h0M1635 760h0M1632 813h0M1629 730h0M1644 760h0M1654 758h0M1628 826h0M1632 747h0M1630 788h0M1636 778h0M1639 789h0M1628 847h0M1655 788h0M1635 779h0M1641 791h0M1629 852h0M1637 803h0M1654 735h0M1628 855h0M1636 810h0M1645 775h0M1671 726h0M1643 792h0M1649 752h0M1660 748h0M1637 794h0M1647 765h0M1629 842h0M1653 757h0M1676 733h0M1639 802h0M1628 844h0M1629 747h0M1639 751h0M1669 748h0M1629 853h0M1628 854h0M1628 854h0M1632 844h0M1635 795h0M1642 743h0M1629 771h0M1673 748h0M1632 845h0M1632 810h0M1636 738h0M1633 840h0M1634 826h0M1629 835h0M1638 822h0M1637 786h0M1669 761h0M1655 756h0M1630 845h0M1639 818h0M1641 805h0M1658 752h0M1664 749h0M1638 825h0M1638 759h0M1636 760h0M1658 728h0M1645 753h0M1631 819h0M1630 809h0M1644 736h0M1656 736h0M1664 770h0M1644 727h0M1642 754h0M1631 748h0M1662 748h0M1632 801h0M1632 761h0M1632 844h0M1635 829h0M1629 836h0M1669 747h0M1646 736h0M1636 777h0M1640 819h0M1671 727h0M1643 726h0M1629 782h0M1660 762h0M1660 781h0M1641 728h0M1631 758h0M1646 793h0M1639 771h0M1642 738h0M1654 788h0M1629 852h0M1629 741h0M1649 735h0M1645 801h0M1673 737h0M1638 787h0M1630 834h0M1631 837h0M1649 746h0M1628 788h0M1634 821h0M1629 855h0M1664 755h0M1675 734h0M1632 804h0M1654 775h0M1633 741h0M1649 736h0M1634 811h0M1632 843h0M1656 764h0M1662 734h0M1631 839h0M1644 794h0M1636 823h0M1635 794h0M1630 768h0M1628 855h0M1635 818h0M1628 851h0M1641 810h0M1652 742h0M1628 845h0M1656 784h0M1630 831h0M1645 789h0M1667 747h0M1631 836h0M1630 825h0M1662 741h0M1629 754h0M1631 821h0M1633 784h0M1628 802h0M1629 791h0M1633 835h0M1630 847h0M1656 747h0M1638 800h0M1629 829h0M1629 851h0M1630 819h0M1630 848h0M1633 798h0M1629 852h0M1662 753h0M1639 730h0M1636 836h0M1647 793h0M1643 743h0M1636 774h0M1647 782h0M1643 728h0M1641 786h0M1657 769h0M1639 815h0M1628 851h0M1633 821h0M1634 815h0M1663 754h0M1642 772h0M1662 767h0M1645 776h0M1630 772h0M1630 782h0M1628 853h0M1644 815h0M1668 754h0M1671 749h0M1644 772h0M1629 854h0M1632 805h0M1639 745h0M1677 741h0M1631 829h0M1654 781h0M1633 835h0M1651 759h0M1648 798h0M1633 818h0M1653 782h0M1662 730h0M1628 820h0M1652 773h0M1632 764h0M1631 726h0M1640 783h0M1639 746h0M1629 745h0M1634 805h0M1630 845h0M1630 828h0M1629 786h0M1628 845h0M1647 754h0M1636 824h0M1632 833h0M1645 795h0M1634 825h0M1663 773h0M1632 813h0M1632 750h0M1667 751h0M1635 734h0M1668 761h0M1649 771h0M1633 836h0M1634 807h0M1628 854h0M1653 783h0M1630 813h0M1635 817h0M1642 805h0M1628 853h0M1630 771h0M1636 765h0M1630 810h0M1631 844h0M1637 762h0M1629 848h0M1632 751h0M1629 840h0M1629 821h0M1633 821h0M1653 728h0M1676 748h0M1639 826h0M1629 744h0M1652 766h0M1633 731h0M1642 817h0M1656 743h0M1628 853h0M1657 784h0M1645 773h0M1635 806h0M1638 778h0M1628 856h0M1629 806h0M1629 818h0M1631 817h0M1656 768h0M1631 830h0M1630 823h0M1645 808h0M1647 797h0M1637 777h0M1629 814h0M1639 797h0M1639 762h0M1662 731h0M1629 820h0M1643 751h0M1658 780h0M1634 810h0M1644 792h0M1638 740h0M1648 782h0M1644 767h0M1631 739h0M1634 828h0M1662 755h0M1629 852h0M1638 795h0M1633 766h0M1632 844h0M1650 794h0M1634 821h0M1629 765h0M1636 798h0M1630 850h0M1632 825h0M1645 783h0M1629 851h0M1651 763h0M1670 741h0M1659 737h0M1652 756h0M1637 820h0M1630 838h0M1652 787h0M1645 809h0M1638 746h0M1629 809h0M1637 740h0M1628 847h0M1641 806h0M1672 727h0M1648 802h0M1649 750h0M1629 774h0M1644 761h0M1634 826h0M1655 737h0M1629 806h0M1634 797h0M1629 741h0M1676 744h0M1633 734h0M1631 785h0M1632 845h0M1630 756h0M1637 831h0M1661 741h0M1636 763h0M1648 765h0M1634 742h0M1656 791h0M1631 822h0M1632 788h0M1631 816h0M1640 782h0M1632 846h0M1629 841h0M1635 805h0M1629 744h0M1642 734h0M1631 812h0M1671 728h0M1632 818h0M1639 817h0M1636 767h0M1655 787h0M1628 856h0M1638 817h0M1633 823h0M1629 853h0M1653 759h0M1630 733h0M1631 842h0M1633 727h0M1631 794h0M1629 821h0M1648 738h0M1632 786h0M1644 753h0M1690 727h0M1427 728h0M1458 772h0M1695 772h0M1714 727h0M1690 727h0M1700 727h0M1449 728h0M1470 823h0M1705 739h0M1452 728h0M1691 730h0M1459 749h0M1694 751h0M1695 755h0M1702 757h0M1441 739h0M1628 871h0M1457 740h0M1472 815h0M1626 871h0M1698 727h0M1629 864h0M1487 833h0M1449 764h0M1652 844h0M1451 747h0M1453 739h0M1443 739h0M1501 862h0M1655 827h0M1656 821h0M1715 727h0M1445 785h0M1696 747h0M1650 828h0M1707 755h0M1453 761h0M1511 871h0M1449 810h0M1662 804h0M1694 737h0M1700 753h0M1438 742h0M1713 727h0M1445 747h0M1702 745h0M1457 763h0M1493 834h0M1493 838h0M1481 811h0M1449 743h0M1696 770h0M1674 788h0M1440 748h0M1481 820h0M1687 767h0M1635 853h0M1436 727h0M1472 791h0M1426 735h0M1447 767h0M1454 759h0M1648 841h0M1633 855h0M1639 844h0M1451 728h0M1425 736h0M1503 861h0M1421 751h0M1456 728h0M1701 729h0M1481 816h0M1442 751h0M1706 734h0M1643 847h0M1452 727h0M1690 728h0M1467 786h0M1680 763h0M1641 847h0M1481 832h0M1424 757h0M1644 852h0M1453 733h0M1689 727h0M1695 738h0M1658 803h0M1665 799h0M1713 735h0M1556 528h0M1555 568h0M1590 527h0M1583 573h0M1585 600h0M1589 544h0M1589 553h0M1577 702h0M1562 697h0M1554 532h0M1565 673h0M1577 685h0M1582 618h0M1551 512h0M1584 581h0M1560 611h0M1551 493h0M1561 607h0M1590 506h0M1562 670h0M1551 497h0M1559 620h0M1552 509h0M1578 703h0M1589 502h0M1556 586h0M1564 675h0M1555 537h0M1562 625h0M1555 587h0M1581 634h0M1560 635h0M1567 707h0M1564 684h0M1560 639h0M1557 570h0M1591 501h0M1561 653h0M1582 625h0M1553 525h0M1563 674h0M1553 514h0M1579 637h0M1559 585h0M1567 718h0M1562 652h0M1567 697h0M1552 504h0M1590 534h0M1582 642h0M1558 606h0M1566 713h0M1566 698h0M1565 715h0M1588 515h0M1582 651h0M1569 709h0M1581 659h0M1590 500h0M1565 705h0M1583 571h0M1589 542h0M1584 638h0M1588 531h0M1591 509h0M1578 698h0M1564 653h0M1561 654h0M1586 549h0M1564 682h0M1583 628h0M1592 496h0M1590 504h0M1580 659h0M1560 614h0M1583 616h0M1557 580h0M1582 631h0M1576 708h0M1553 525h0M1553 515h0M1579 672h0M1561 631h0M1556 579h0M1581 647h0M1578 702h0M1586 578h0M1583 610h0M1563 646h0M1565 694h0" stroke="#b4b6b8" stroke-width="6.2" stroke-linecap="round" fill="none"/>
<path d="M1496 722V500L1508 455L1522 444L1541 443L1548 450V722Z" fill="#2858a6"/>
<path d="M1493 537h0M1469 652h0M1469 621h0M1500 485h0M1490 634h0M1491 594h0M1498 493h0M1455 592h0M1486 565h0M1482 638h0M1454 585h0M1448 564h0M1481 498h0M1493 606h0M1497 467h0M1484 710h0M1401 642h0M1489 512h0M1488 461h0M1421 626h0M1494 557h0M1496 714h0M1429 665h0M1442 456h0M1440 584h0M1411 480h0M1481 682h0M1449 676h0M1445 714h0M1475 711h0M1458 701h0M1477 606h0M1498 709h0M1488 694h0M1488 663h0M1377 586h0M1478 588h0M1455 613h0M1451 539h0M1448 633h0M1490 714h0M1488 564h0M1449 709h0M1491 474h0M1471 514h0M1431 631h0M1460 647h0M1459 448h0M1491 511h0M1441 647h0M1497 615h0M1469 629h0M1490 690h0M1472 563h0M1496 517h0M1494 591h0M1471 455h0M1499 607h0M1428 714h0M1467 564h0M1473 552h0M1472 548h0M1496 673h0M1479 614h0M1433 713h0M1495 484h0M1471 702h0M1456 713h0M1480 591h0M1487 710h0M1452 663h0M1498 691h0M1463 547h0M1445 706h0M1503 451h0M1464 624h0M1485 707h0M1477 649h0M1428 549h0M1479 505h0M1482 702h0M1497 614h0M1478 700h0M1492 552h0M1500 442h0M1473 448h0M1446 705h0M1497 606h0M1461 626h0M1431 630h0M1490 531h0M1404 620h0M1495 568h0M1494 628h0M1472 668h0M1376 661h0M1477 586h0M1496 560h0M1478 545h0M1497 574h0M1458 598h0M1483 651h0M1503 478h0M1469 619h0M1479 698h0M1492 455h0M1490 642h0M1480 646h0M1477 644h0M1462 565h0M1493 504h0M1476 714h0M1494 619h0M1482 604h0M1488 572h0M1499 634h0M1475 694h0M1484 506h0M1480 614h0M1491 645h0M1485 639h0M1472 508h0M1474 660h0M1495 638h0M1498 504h0M1433 659h0M1498 453h0M1481 466h0M1487 480h0M1461 519h0M1479 677h0M1499 694h0M1458 607h0M1484 472h0M1453 570h0M1497 516h0M1486 689h0M1486 533h0M1497 554h0M1493 622h0M1493 540h0M1491 448h0M1493 489h0M1461 455h0M1482 461h0M1486 501h0M1494 554h0M1491 680h0M1460 464h0M1432 696h0M1485 589h0M1497 637h0M1442 522h0M1490 614h0M1496 682h0M1460 518h0M1498 547h0M1479 493h0M1461 507h0M1471 678h0M1455 596h0M1487 564h0M1506 460h0M1489 444h0M1494 694h0M1495 524h0M1491 663h0M1466 489h0M1491 661h0M1469 465h0M1499 694h0M1496 535h0M1479 554h0M1496 452h0M1450 490h0M1493 690h0M1398 574h0M1488 470h0M1494 570h0M1484 671h0M1498 529h0M1469 578h0M1483 665h0M1456 462h0M1486 676h0M1468 617h0M1496 497h0M1485 549h0M1464 680h0M1494 713h0M1476 689h0M1497 455h0M1492 658h0M1505 451h0M1482 576h0M1463 612h0M1493 517h0M1424 625h0M1463 467h0M1489 587h0M1472 692h0M1426 530h0M1470 679h0M1485 689h0M1460 656h0M1417 690h0M1484 620h0M1477 608h0M1495 658h0M1446 589h0M1461 707h0M1488 497h0M1477 635h0M1483 660h0M1489 711h0M1443 655h0M1453 673h0M1495 637h0M1491 660h0M1489 480h0M1490 687h0M1498 489h0M1492 484h0M1514 443h0M1495 574h0M1506 456h0M1487 534h0M1462 552h0M1499 617h0M1436 513h0M1496 470h0M1498 459h0M1440 648h0M1401 597h0M1470 612h0M1486 587h0M1494 657h0M1367 625h0M1490 494h0M1497 712h0M1499 521h0M1414 645h0M1407 668h0M1494 546h0M1438 677h0M1499 477h0M1480 634h0M1495 704h0M1472 703h0M1502 481h0M1492 463h0M1430 625h0M1459 490h0M1419 591h0M1497 573h0M1489 645h0M1475 564h0M1477 615h0M1482 618h0M1491 623h0M1481 471h0M1506 470h0M1479 618h0M1426 564h0M1485 566h0M1477 704h0M1494 575h0M1498 680h0M1484 659h0M1486 662h0M1477 512h0M1443 635h0M1470 542h0M1474 482h0M1487 451h0M1503 474h0M1411 563h0M1370 646h0M1467 523h0M1479 470h0M1496 461h0M1466 713h0M1485 545h0M1497 713h0M1489 533h0M1445 633h0M1404 630h0M1495 644h0M1408 626h0M1497 716h0M1485 697h0M1442 655h0M1417 593h0M1456 624h0M1471 535h0M1485 609h0M1447 689h0M1501 478h0M1452 524h0M1482 550h0M1500 460h0M1483 632h0M1488 645h0M1460 703h0M1459 549h0M1456 567h0M1497 482h0M1466 668h0M1464 645h0M1490 524h0M1478 558h0M1496 524h0M1492 673h0M1459 707h0M1446 628h0M1507 463h0M1482 601h0M1483 584h0M1455 663h0M1489 473h0M1467 497h0M1494 666h0M1465 557h0M1477 499h0M1453 581h0M1479 547h0M1479 622h0M1484 591h0M1500 467h0M1497 644h0M1491 713h0M1438 531h0M1450 556h0M1498 675h0M1507 453h0M1464 640h0M1499 676h0M1391 526h0M1502 465h0M1494 668h0M1425 557h0M1487 561h0M1456 491h0M1498 604h0M1489 511h0M1486 706h0M1497 582h0M1450 707h0M1484 652h0M1432 535h0M1500 502h0M1487 473h0M1496 579h0M1490 501h0M1482 676h0M1504 453h0M1465 593h0M1507 461h0M1435 575h0M1474 710h0M1480 665h0M1489 493h0M1472 468h0M1453 678h0M1486 631h0M1478 513h0M1484 707h0M1484 715h0M1494 554h0M1498 598h0M1494 562h0M1466 673h0M1480 628h0M1499 587h0M1482 707h0M1495 609h0M1478 577h0M1497 662h0M1463 486h0M1490 676h0M1502 476h0M1494 540h0M1452 570h0M1467 519h0M1472 603h0M1446 594h0M1457 577h0M1488 620h0M1469 639h0M1473 696h0M1491 498h0M1430 694h0M1496 548h0M1420 699h0M1491 633h0M1492 602h0M1510 453h0M1411 636h0M1465 685h0M1497 487h0M1445 596h0M1487 664h0M1483 576h0M1426 563h0M1496 644h0M1495 513h0M1454 486h0M1487 445h0M1431 613h0M1447 619h0M1464 684h0M1497 533h0M1484 623h0M1486 716h0M1438 450h0M1490 661h0M1468 588h0M1478 592h0M1424 529h0M1453 538h0M1484 554h0M1436 480h0M1486 481h0M1480 572h0M1479 694h0M1494 499h0M1495 615h0M1480 493h0M1473 662h0M1487 709h0M1493 631h0M1498 629h0M1465 684h0M1491 559h0M1491 544h0M1492 601h0M1463 674h0M1499 545h0M1494 507h0M1494 705h0M1484 550h0M1498 641h0M1446 531h0M1464 708h0M1467 691h0M1473 482h0M1459 625h0M1465 708h0M1487 668h0M1487 695h0M1500 626h0M1498 550h0M1480 516h0M1491 587h0M1466 602h0M1504 464h0M1488 682h0M1498 446h0M1485 574h0M1435 609h0M1485 640h0M1480 621h0M1480 661h0M1500 589h0M1500 580h0M1486 606h0M1467 657h0M1470 595h0M1492 707h0M1474 664h0M1476 597h0M1499 459h0M1421 699h0M1452 581h0M1470 645h0M1461 645h0M1490 571h0M1496 503h0M1495 571h0M1470 673h0M1459 688h0M1450 485h0M1475 688h0M1492 463h0M1477 618h0M1492 628h0M1442 664h0M1494 483h0M1499 597h0M1476 682h0M1482 511h0M1500 584h0M1492 485h0M1477 629h0M1494 627h0M1494 584h0M1446 633h0M1428 510h0M1481 580h0M1422 713h0M1408 514h0M1482 624h0M1497 475h0M1487 700h0M1456 668h0M1507 464h0M1504 483h0M1455 464h0M1484 664h0M1451 579h0M1491 491h0M1452 631h0M1499 598h0M1497 552h0M1486 597h0M1497 626h0M1498 712h0M1489 458h0M1488 539h0M1438 504h0M1417 694h0M1481 679h0M1461 470h0M1476 682h0M1478 700h0M1458 652h0M1487 467h0M1385 513h0M1496 690h0M1486 654h0M1452 469h0M1427 716h0M1435 611h0M1482 520h0M1488 679h0M1456 616h0M1472 554h0M1495 624h0M1481 640h0M1469 673h0M1472 562h0M1498 706h0M1484 495h0M1488 449h0M1498 529h0M1460 693h0M1456 680h0M1498 687h0M1483 664h0M1496 640h0M1444 708h0M1445 681h0M1425 610h0M1475 519h0M1481 684h0M1497 575h0M1494 713h0M1522 430h0M1484 399h0M1507 442h0M1501 434h0M1489 440h0M1510 404h0M1494 403h0M1496 427h0M1492 417h0M1528 446h0M1525 419h0M1510 396h0M1537 440h0M1505 401h0M1522 436h0M1514 408h0M1483 413h0M1525 434h0M1504 434h0M1510 436h0M1449 406h0M1486 427h0M1515 427h0M1466 402h0M1519 430h0M1503 407h0M1531 436h0M1460 386h0M1472 447h0M1484 394h0M1508 397h0M1514 442h0M1514 431h0M1525 423h0M1469 406h0M1531 439h0M1524 438h0M1521 440h0M1409 414h0M1509 432h0M1538 447h0M1499 441h0M1466 426h0M1457 447h0M1518 432h0M1509 407h0M1480 419h0M1504 428h0M1529 447h0M1452 408h0M1496 429h0M1503 416h0M1522 442h0M1523 434h0M1512 438h0M1518 418h0M1511 399h0M1457 430h0M1530 439h0M1527 446h0" stroke="#2858a6" stroke-width="10.4" stroke-linecap="round" fill="none"/>
<path d="M1422.3 318h0M1487 325.2h0M1475.8 340h0M1432.5 357.7h0M1438.7 368.5h0M1424.4 374.1h0M1421.4 378.1h0M1409.9 376.5h0M1480.5 363.2h0M1502.4 370.4h0M1478.6 377.5h0M1483.2 385.8h0M1455.4 387.4h0M1446.1 392h0M1452.3 398.2h0M1481.7 395.1h0M1480.2 401.3h0M1494.1 401.3h0M1511.1 392h0M1509.6 398.2h0M1518.8 399.1h0M1497.2 409h0M1525 407.5h0M1531.2 415.2h0M1487.9 417.7h0M1385.8 418.3h0M1392.9 417.4h0M1429.4 415.2h0M1384.2 444.6h0M1392.6 441.5h0M1399.7 438.4h0M1410.5 435.3h0M1419.8 427.6h0M1403.4 451.1h0M1418.9 449.9h0M1358.8 502.8h0M1138.5 514.2h0M1183.2 555.6h0M1259.2 571.1h0M1260.8 601.4h0M1289.1 614.5h0M1294.6 611.9h0M1329.9 625.5h0M1315.8 635.5h0M1326.5 637.3h0M1359 503.2h0M1357.2 525h0M1357.2 562.1h0M1346.7 573.4h0M1359.8 594.4h0M1365 594.4h0M1357.9 610.1h0M1373.7 623.7h0M1340.7 631.6h0M1344.1 638.9h0M1360.6 640.7h0M1360.6 647.3h0M1334.1 653.8h0M1345.4 662.2h0M1351.9 661.7h0M1370.8 657.2h0M1359.8 674h0M1367.6 683.4h0M1375.5 686h0M1372.9 693.9h0M1389.9 668.2h0M1389.4 631.6h0M1391.2 596.2h0M1378.1 570h0M1386 577.1h0M1392.5 575.2h0M1404.3 553h0M1406.9 564.8h0M1397.8 504.5h0M1400.4 512.4h0M1409 487.5h0M1419.5 502.4h0M1414.8 525.5h0M1417.4 522.9h0M1415.6 536h0M1417.4 594.1h0M1401.1 611.9h0M1412.2 612.7h0M1417.4 621.1h0M1416.1 647.3h0M1414.8 656.4h0M1409.5 672.2h0M1389.9 693.1h0M1397.8 695h0M1391.2 706.2h0M1406.1 716.7h0M1422.6 704.9h0M1425.3 711.4h0" stroke="#2858a6" stroke-width="10.4" stroke-linecap="round" fill="none"/>
<path d="M1594 722V470L1602 458L1622 462Q1630 480 1633 520V722Z" fill="#e8212e"/>
<path d="M1729 703h0M1705 614h0M1690 685h0M1642 666h0M1661 630h0M1637 460h0M1658 548h0M1721 622h0M1630 642h0M1641 596h0M1640 514h0M1639 637h0M1700 689h0M1646 523h0M1667 700h0M1637 672h0M1651 663h0M1640 641h0M1751 547h0M1632 644h0M1630 680h0M1649 716h0M1706 555h0M1656 659h0M1658 483h0M1700 572h0M1634 597h0M1676 571h0M1668 562h0M1643 566h0M1656 697h0M1658 555h0M1665 526h0M1677 580h0M1650 595h0M1666 529h0M1656 465h0M1700 572h0M1663 693h0M1640 680h0M1658 608h0M1657 633h0M1635 619h0M1635 699h0M1655 638h0M1645 653h0M1639 515h0M1647 687h0M1630 516h0M1715 676h0M1662 615h0M1647 688h0M1693 657h0M1650 514h0M1686 654h0M1677 624h0M1633 602h0M1636 513h0M1632 693h0M1638 614h0M1635 710h0M1654 713h0M1698 653h0M1637 496h0M1693 712h0M1644 713h0M1652 705h0M1649 622h0M1670 519h0M1641 630h0M1706 605h0M1643 667h0M1630 656h0M1656 602h0M1679 480h0M1698 569h0M1632 618h0M1636 516h0M1636 622h0M1636 531h0M1735 497h0M1648 709h0M1629 479h0M1643 471h0M1630 717h0M1777 584h0M1676 602h0M1631 545h0M1656 556h0M1649 623h0M1687 484h0M1673 676h0M1686 638h0M1675 689h0M1634 559h0M1633 709h0M1632 651h0M1758 584h0M1659 572h0M1638 629h0M1687 568h0M1653 535h0M1710 707h0M1657 678h0M1628 569h0M1671 557h0M1636 649h0M1647 627h0M1637 501h0M1736 528h0M1631 510h0M1704 503h0M1638 703h0M1644 691h0M1648 603h0M1640 605h0M1683 576h0M1657 690h0M1707 708h0M1640 608h0M1646 683h0M1637 685h0M1638 693h0M1647 656h0M1634 565h0M1635 486h0M1632 615h0M1651 641h0M1666 643h0M1668 586h0M1656 713h0M1667 680h0M1691 642h0M1702 648h0M1674 670h0M1658 713h0M1736 635h0M1634 534h0M1666 552h0M1628 611h0M1695 635h0M1647 669h0M1652 694h0M1664 576h0M1635 477h0M1630 708h0M1653 651h0M1672 550h0M1796 638h0M1662 568h0M1634 504h0M1698 713h0M1658 547h0M1641 677h0M1719 664h0M1632 704h0M1634 487h0M1703 678h0M1628 698h0M1650 710h0M1633 534h0M1643 711h0M1669 481h0M1647 705h0M1650 461h0M1628 487h0M1635 624h0M1630 467h0M1642 699h0M1665 523h0M1657 694h0M1632 500h0M1682 623h0M1737 672h0M1645 551h0M1635 582h0M1692 566h0M1633 468h0M1751 684h0M1668 565h0M1645 713h0M1643 628h0M1628 717h0M1735 623h0M1721 468h0M1630 559h0M1651 593h0M1649 566h0M1659 467h0M1647 582h0M1698 605h0M1693 641h0M1793 646h0M1665 530h0M1649 572h0M1645 581h0M1725 676h0M1636 700h0M1668 575h0M1721 649h0M1651 620h0M1681 670h0M1634 660h0M1631 539h0M1630 665h0M1664 490h0M1669 631h0M1634 566h0M1639 714h0M1676 695h0M1639 706h0M1632 700h0M1655 544h0M1660 562h0M1636 573h0M1701 616h0M1660 624h0M1632 690h0M1634 628h0M1693 592h0M1668 680h0M1645 625h0M1645 459h0M1638 575h0M1643 609h0M1689 626h0M1682 669h0M1652 527h0M1643 712h0M1666 553h0M1629 583h0M1667 659h0M1643 585h0M1667 474h0M1637 692h0M1721 688h0M1641 600h0M1679 679h0M1632 613h0M1640 693h0M1630 533h0M1666 475h0M1673 652h0M1642 628h0M1649 686h0M1645 601h0M1652 553h0M1636 621h0M1631 670h0M1641 608h0M1646 561h0M1634 695h0M1635 606h0M1638 473h0M1648 490h0M1660 644h0M1642 553h0M1630 716h0M1676 691h0M1633 629h0M1659 654h0M1665 518h0M1642 567h0M1641 701h0M1637 653h0M1640 696h0M1636 469h0M1695 671h0M1645 617h0M1640 641h0M1657 709h0M1635 632h0M1633 577h0M1666 717h0M1655 563h0M1685 562h0M1750 539h0M1637 507h0M1693 594h0M1632 519h0M1645 537h0M1709 661h0M1652 503h0M1649 507h0M1638 497h0M1665 644h0M1631 714h0M1651 477h0M1675 700h0M1629 644h0M1637 678h0M1766 641h0M1691 693h0M1632 624h0M1689 500h0M1656 606h0M1628 494h0M1633 526h0M1631 653h0M1635 621h0M1631 701h0M1659 594h0M1647 489h0M1631 657h0M1637 711h0M1681 582h0M1629 481h0M1661 553h0M1649 540h0M1635 505h0M1659 473h0M1669 680h0M1741 509h0M1764 681h0M1667 681h0M1648 662h0M1681 655h0M1653 581h0M1630 711h0M1721 626h0M1658 465h0M1675 681h0M1646 534h0M1703 483h0M1661 496h0M1633 540h0M1709 661h0M1656 465h0M1656 697h0M1633 597h0M1637 462h0M1636 559h0M1632 610h0M1633 502h0M1644 532h0M1637 620h0M1628 637h0M1629 607h0M1640 683h0M1676 654h0M1664 692h0M1682 651h0M1642 683h0M1645 534h0M1671 580h0M1656 671h0M1648 572h0M1650 551h0M1682 686h0M1635 545h0M1639 707h0M1637 541h0M1737 632h0M1666 491h0M1645 513h0M1641 614h0M1630 673h0M1658 594h0M1738 563h0M1687 523h0M1693 535h0M1647 655h0M1724 560h0M1664 557h0M1685 647h0M1651 663h0M1636 581h0M1688 668h0M1717 496h0M1706 709h0M1636 585h0M1666 487h0M1645 714h0M1638 539h0M1636 560h0M1663 571h0M1640 486h0M1634 501h0M1666 623h0M1668 715h0M1691 658h0M1630 553h0M1665 616h0M1642 699h0M1686 614h0M1632 590h0M1639 466h0M1672 680h0M1631 526h0M1631 513h0M1675 695h0M1707 697h0M1655 560h0M1628 653h0M1658 688h0M1659 566h0M1635 661h0M1632 579h0M1632 475h0M1658 486h0M1662 628h0M1668 506h0M1676 479h0M1669 589h0M1632 602h0M1632 690h0M1673 474h0M1635 464h0M1653 674h0M1663 644h0M1637 497h0M1649 688h0M1628 578h0M1708 709h0M1644 605h0M1632 466h0M1663 606h0M1636 708h0M1629 576h0M1646 499h0M1649 630h0M1638 540h0M1661 588h0M1631 535h0M1642 642h0M1652 524h0M1728 675h0M1634 499h0M1661 567h0M1629 607h0M1674 680h0M1684 678h0M1683 678h0M1745 679h0M1682 717h0M1658 450h0M1749 708h0M1733 527h0M1720 443h0M1667 698h0M1753 468h0M1685 695h0M1737 573h0M1670 473h0M1765 680h0M1781 660h0M1656 565h0M1724 691h0M1740 573h0M1857 464h0M1672 678h0M1688 658h0M1655 588h0M1658 491h0M1658 656h0M1755 467h0M1689 704h0M1691 560h0M1669 548h0M1800 573h0M1858 581h0M1892 470h0M1682 463h0M1668 703h0M1693 442h0M1724 661h0M1666 567h0M1777 611h0M1689 509h0M1748 619h0M1882 492h0M1765 662h0M1656 490h0M1723 687h0M1673 557h0M1682 647h0M1859 506h0M1761 515h0M1675 640h0M1684 521h0M1726 556h0M1875 468h0M1716 692h0M1763 688h0M1748 545h0M1698 680h0M1740 679h0M1820 452h0M1669 583h0M1719 707h0M1803 626h0M1852 517h0M1723 553h0M1668 716h0M1734 698h0M1726 667h0M1655 448h0M1726 709h0M1836 474h0M1894 517h0M1735 473h0M1818 513h0M1728 716h0M1683 588h0M1887 529h0M1834 594h0M1730 461h0M1694 647h0M1655 452h0M1714 709h0M1656 511h0M1655 581h0M1739 515h0M1740 706h0M1682 577h0M1672 620h0M1849 536h0M1664 678h0M1674 472h0M1889 494h0M1794 582h0M1733 601h0M1680 634h0M1766 615h0M1727 710h0M1767 532h0M1866 525h0M1657 577h0M1711 541h0M1659 489h0M1662 576h0M1656 567h0M1735 453h0M1741 684h0M1879 469h0M1789 525h0M1741 510h0M1665 706h0M1661 639h0M1735 657h0M1854 478h0M1656 692h0M1894 500h0M1766 654h0M1731 655h0M1656 484h0M1826 443h0M1674 681h0M1635 451h0M1622 438h0M1621 438h0M1619 435h0M1609 460h0M1712 432h0M1632 418h0M1621 384h0M1611 452h0M1680 380h0M1613 409h0M1608 438h0M1634 420h0M1620 382h0M1643 399h0M1625 416h0M1630 463h0M1638 432h0M1647 458h0M1606 448h0M1646 457h0M1605 450h0M1617 381h0M1629 405h0M1639 435h0M1652 403h0M1644 440h0M1691 437h0M1678 457h0M1609 428h0M1673 364h0M1627 459h0M1622 457h0M1689 447h0M1650 443h0M1740 447h0M1617 443h0M1609 416h0M1616 456h0M1660 438h0M1611 437h0M1665 377h0M1604 446h0M1631 451h0M1624 438h0M1644 449h0M1629 381h0M1619 461h0M1655 462h0M1636 438h0M1613 414h0M1615 418h0M1644 453h0M1601 461h0M1615 463h0M1619 436h0M1650 442h0M1659 437h0M1607 461h0M1613 443h0M1630 444h0M1619 389h0M1694 442h0M1623 406h0M1648 442h0M1644 453h0M1627 392h0M1638 407h0M1615 442h0M1627 422h0M1625 426h0M1620 443h0M1731 441h0M1654 386h0M1702 453h0M1613 442h0M1647 462h0M1613 426h0M1632 421h0M1608 440h0M1618 418h0M1632 411h0M1620 441h0M1644 420h0M1672 422h0M1651 439h0M1656 426h0M1614 460h0M1621 462h0M1714 453h0M1613 430h0M1609 419h0M1663 396h0M1608 453h0M1612 454h0M1634 459h0M1649 411h0M1614 446h0M1680 435h0M1622 391h0M1623 429h0M1620 405h0M1634 443h0M1610 442h0M1619 417h0M1613 454h0M1656 406h0M1609 429h0M1625 428h0M1616 443h0M1620 445h0M1612 424h0M1698 372h0M1621 436h0M1633 413h0M1624 463h0M1618 444h0M1671 416h0M1667 440h0M1616 406h0M1621 451h0M1651 418h0M1616 396h0M1626 385h0M1625 461h0M1676 455h0M1686 440h0M1642 455h0M1634 444h0M1632 392h0M1633 418h0M1622 463h0M1643 440h0M1620 424h0M1605 461h0M1694 429h0M1608 460h0M1627 401h0M1646 396h0M1668 426h0M1617 451h0M1697 426h0M1627 430h0M1645 449h0M1625 462h0M1627 436h0M1617 462h0M1620 429h0M1638 437h0M1623 420h0M1675 405h0M1624 427h0M1633 450h0M1639 369h0M1642 452h0M1621 442h0M1617 462h0M1658 425h0M1632 393h0M1627 451h0M1618 434h0M1643 453h0M1637 406h0M1605 449h0M1636 433h0M1656 458h0M1607 444h0M1722 459h0M1606 449h0M1634 433h0M1682 396h0M1606 453h0M1680 419h0M1663 444h0M1613 447h0M1605 462h0M1716 441h0M1666 452h0M1630 405h0M1604 442h0" stroke="#e8212e" stroke-width="10.4" stroke-linecap="round" fill="none"/>
<path d="M1657.9 353.6h0M1665.5 359.7h0M1673.5 354.2h0M1634.5 361.2h0M1643.6 364.2h0M1638.5 367.3h0M1622 372.5h0M1682.9 370.9h0M1704.2 370.9h0M1667.1 376.4h0M1640.6 381.9h0M1626.9 386.5h0M1683.2 381.6h0M1693.8 383.4h0M1700.5 387.1h0M1657.9 392.2h0M1678.6 391.6h0M1639.1 397.7h0M1645.2 402.3h0M1659.5 399.2h0M1671 405.9h0M1679.2 405.9h0M1699.9 403.2h0M1716.9 404.1h0M1754.1 390.7h0M1773.5 395.6h0M1802.7 395.3h0M1761.7 408.7h0M1803.3 410.8h0M1816.1 420.8h0M1658.9 306.5h0M1711.5 309.5h0M1714.2 315h0M1739.8 306.5h0M1793.3 306.5h0M1810.9 331.7h0M1658.9 342h0M1689.3 335.4h0M1695.4 334.7h0M1693.8 346h0M1711.2 360.6h0M1622 348.1h0M1777.5 352.7h0M1840.1 369.7h0M1779 379.5h0M1778.1 386.1h0M1754.1 390.7h0M1773.5 395.6h0M1802.7 395.3h0M1761.7 408.7h0M1803.3 410.8h0M1816.1 420.8h0M1906.1 412h0M1935.6 410.5h0M1902.8 431.8h0M1942 426.9h0M2001.3 430.2h0M1865.7 454.3h0M1785.7 470.1h0M1904 491.7h0M1970.9 526.4h0M1923.2 546.2h0M1962.1 552.5h0M1930.2 567.4h0M1834.7 512.4h0M1853.5 506.3h0M1868.7 507.5h0M1876.3 522.1h0M1843.5 538.5h0M1856.6 534.3h0M1881.8 538.9h0M1886 565.6h0M1871.8 572.3h0M1865.1 576.9h0M1883.3 590.6h0M1877.2 595.1h0M1865.7 615.8h0M1846.5 632.8h0M1824.6 628.6h0M1821 643.8h0M1823.4 656.9h0M1831.6 599.7h0M1806.4 596.6h0M1807 601.2h0M1815.5 561.7h0M1807.9 565.3h0M1801.8 571.4h0M1796.6 577.8h0M1784.2 548.9h0M1777.5 578.4h0M1768.3 565.3h0M1768.3 582.4h0" stroke="#e8212e" stroke-width="10.4" stroke-linecap="round" fill="none"/>
<path d="M1095.7 215V918.3H2044.5" stroke="#000" stroke-width="2" fill="none"/>
<text x="1088" y="398.5" font-size="22" text-anchor="end" class="g">100</text>
<text x="1088" y="574.2" font-size="22" text-anchor="end" class="g">10</text>
<text x="1088" y="749.9" font-size="22" text-anchor="end" class="g">1</text>
<text x="1088" y="802.8" font-size="22" text-anchor="end" class="g">0.5</text>
<text x="1088" y="926.1" font-size="22" text-anchor="end" class="g">0.1</text>
<text x="1135.8" y="944.3" font-size="22" text-anchor="middle" class="g">-10</text>
<text x="1353.4" y="944.3" font-size="22" text-anchor="middle" class="g">-5</text>
<text x="1571" y="944.3" font-size="22" text-anchor="middle" class="g">0</text>
<text x="1788.6" y="944.3" font-size="22" text-anchor="middle" class="g">5</text>
<text x="2006.2" y="944.3" font-size="22" text-anchor="middle" class="g">10</text>
<path d="M1095.7 390.6h-5.5M1095.7 566.3h-5.5M1095.7 742h-5.5M1095.7 794.9h-5.5M1095.7 918.2h-5.5M1135.8 918.3v5.5M1353.4 918.3v5.5M1571 918.3v5.5M1788.6 918.3v5.5M2006.2 918.3v5.5" stroke="#333" stroke-width="1.8" fill="none"/>
<path d="M1095.7 721.9H2041.5" stroke="#000" stroke-width="2.3" stroke-dasharray="10.8 9.55" fill="none"/>
<path d="M1545.6 918.3V215" stroke="#000" stroke-width="2.3" stroke-dasharray="10.8 9.55" fill="none"/>
<path d="M1596.3 918.3V215" stroke="#000" stroke-width="2.3" stroke-dasharray="10.8 9.55" fill="none"/>
<text x="1577" y="968" font-size="21.5" text-anchor="middle" class="s">Log2 Fold Change</text>
<text transform="translate(1049.8 556.5) rotate(-90)" font-size="21.5" text-anchor="middle">-log10(adjusted P-value)</text>
<text x="1466.9" y="259.5" font-size="19.2" class="s">NRCAM</text>
<text x="1473" y="295.1" font-size="19.2" class="s">IGFBP5</text>
<text x="1405" y="310" font-size="19.2" class="s">CALB1</text>
<text x="1310.9" y="332.3" font-size="19.2" class="s">ZNF300</text>
<text x="1407.4" y="341" font-size="19.2" class="s">COMT</text>
<text x="1326.3" y="353.3" font-size="19.2" class="s">FABP7</text>
<text x="1483.9" y="357.4" font-size="19.2" class="s">ADGRL4</text>
<text x="1299.4" y="372.5" font-size="19.2" class="s">NPTX2</text>
<text x="1314" y="398.2" font-size="19.2" class="s">APOLD1</text>
<text x="1528.1" y="400.4" font-size="19.2" class="s">LMCD1</text>
<text x="1110.4" y="500.1" font-size="19.2" class="s">RWDD2B</text>
<text x="1153.6" y="543.3" font-size="19.2" class="s">LINC02899</text>
<text x="1264.2" y="561.4" font-size="19.2" class="s">LMO1</text>
<text x="1319.2" y="547.7" font-size="19.2" class="s">TMEM252</text>
<text x="1194.8" y="600.6" font-size="19.2" class="s">OLIG2</text>
<text x="1260.2" y="592.3" font-size="19.2" class="s">RPS2P32</text>
<text x="1148.1" y="638.1" font-size="19.2" class="s">LINC02487</text>
<text x="1194.8" y="661.7" font-size="19.2" class="s">RLN2</text>
<text x="1198.7" y="683.4" font-size="19.2" class="s">TTC34</text>
<text x="1268.1" y="677.9" font-size="19.2" class="s">TCEAL2</text>
<text x="1716.6" y="257.8" font-size="19.2" class="s">SLC14A1</text>
<text x="1635.1" y="276.6" font-size="19.2" class="s">KIAA1755</text>
<text x="1754.7" y="276.6" font-size="19.2" class="s">THBS2</text>
<text x="1605.6" y="298.9" font-size="19.2" class="s">UACA</text>
<text x="1791.2" y="298.9" font-size="19.2" class="s">COL1A2</text>
<text x="1602" y="330.2" font-size="19.2" class="s">COL16A1</text>
<text x="1703" y="335.4" font-size="19.2" class="s">LAMA4</text>
<text x="1818.5" y="329.9" font-size="19.2" class="s">DNER</text>
<text x="1700.5" y="354.5" font-size="19.2" class="s">NPTX1</text>
<text x="1561.5" y="364.9" font-size="19.2" class="s">DDR2</text>
<text x="1830.7" y="403.8" font-size="19.2" class="s">ALDH1A3</text>
<text x="1938.1" y="402.3" font-size="19.2" class="s">SLC15A4</text>
<text x="1946.9" y="421.1" font-size="19.2" class="s">C7</text>
<text x="1958.5" y="452.5" font-size="19.2" class="s">ADAMTS2</text>
<text x="1911.3" y="486.2" font-size="19.2" class="s">FAR2P1</text>
<text x="1975.8" y="520.6" font-size="19.2" class="s">EBF2</text>
<text x="1894" y="538.9" font-size="19.2" class="s">PRRX2</text>
<text x="1969.1" y="548.9" font-size="19.2" class="s">H4C6</text>
<text x="1963" y="576" font-size="19.2" class="s">HMX1</text>
<text x="1902.2" y="589" font-size="19.2" class="s">MSX2</text>
<path d="M1467.8 263.6L1473.4 330.1M1480.8 299.2L1484.8 316.2M1383.3 328.6L1424.4 353.3M1445.5 343.1L1442.7 362.6M1387.3 352.7L1416.7 367.9M1365 365.7L1398.8 374.1M1392.6 390.8L1471.8 378.4M1508.9 377.5L1525 393M1302.7 595.4L1297.7 605.9M1371 553L1336.2 617.9M1249.8 630.2L1278.6 619M1245.8 654.6L1307.9 640.7M1254.5 666.1L1321 643.9M1737.3 263.9L1715.7 302.5M1690.8 279.7L1706.6 315M1753.1 280L1744.3 297.3M1616.3 358.2L1651.9 346" stroke="#000" stroke-width="1.6" fill="none"/>
</g>
<g id="pC">
<text x="56" y="1032.4" font-size="35" font-weight="bold" fill="#222">C</text>
<text x="609.3" y="1039.4" font-size="28.5" text-anchor="middle" font-weight="bold" fill="#222">BIONi037 E4 vs E3</text>
<text x="609.3" y="1074" font-size="28.5" text-anchor="middle" font-weight="bold" fill="#222">Transcriptomics</text>
<rect x="664.8" y="1157.3" width="52" height="20.2" fill="#e5817e"/>
<rect x="669.5" y="1179.7" width="47.3" height="20.2" fill="#eeacaa"/>
<rect x="667.1" y="1202.1" width="49.7" height="20.2" fill="#eda9a6"/>
<rect x="669.5" y="1224.5" width="47.3" height="20.2" fill="#f1bcba"/>
<rect x="669.3" y="1246.9" width="47.5" height="20.2" fill="#f4c9c8"/>
<rect x="671.8" y="1269.3" width="45" height="20.2" fill="#f8dada"/>
<rect x="716.8" y="1313.9" width="60.3" height="20.2" fill="#b59e1b"/>
<rect x="716.8" y="1358.7" width="60.3" height="20.2" fill="#32a753"/>
<rect x="670.5" y="1403.5" width="46.3" height="20.2" fill="#d3e8ec"/>
<rect x="670.8" y="1425.9" width="46" height="20.2" fill="#d3e8ec"/>
<rect x="668.9" y="1470.4" width="47.9" height="20.2" fill="#b8c4e4"/>
<rect x="671.4" y="1492.8" width="45.4" height="20.2" fill="#d9dff1"/>
<rect x="716.8" y="1537.3" width="60.3" height="20.2" fill="#b66ba2"/>
<rect x="716.8" y="1559.7" width="60.3" height="20.2" fill="#b66ba2"/>
<rect x="716.8" y="1582.1" width="60" height="20.2" fill="#b66ba2"/>
<rect x="716.8" y="1604.5" width="59.6" height="20.2" fill="#b66ba2"/>
<rect x="716.8" y="1626.9" width="59.6" height="20.2" fill="#b66ba2"/>
<rect x="716.8" y="1649.3" width="59.6" height="20.2" fill="#b66ba2"/>
<rect x="716.8" y="1671.7" width="58.9" height="20.2" fill="#b66ba2"/>
<rect x="716.8" y="1694.1" width="58.9" height="20.2" fill="#b66ba2"/>
<text x="634.3" y="1737.1" font-size="13.6" text-anchor="middle" class="g">-3</text>
<text x="661.8" y="1737.1" font-size="13.6" text-anchor="middle" class="g">-2</text>
<text x="689.3" y="1737.1" font-size="13.6" text-anchor="middle" class="g">-1</text>
<text x="716.8" y="1737.1" font-size="13.6" text-anchor="middle" class="g">0</text>
<text x="744.3" y="1737.1" font-size="13.6" text-anchor="middle" class="g">1</text>
<text x="771.8" y="1737.1" font-size="13.6" text-anchor="middle" class="g">2</text>
<text x="799.3" y="1737.1" font-size="13.6" text-anchor="middle" class="g">3</text>
<path d="M626 1154.4V1717.1H807.1" stroke="#000" stroke-width="1.8" fill="none"/>
<path d="M626 1167.4h-4M626 1189.8h-4M626 1212.2h-4M626 1234.6h-4M626 1257h-4M626 1279.4h-4M626 1324h-4M626 1368.8h-4M626 1413.6h-4M626 1436h-4M626 1480.5h-4M626 1502.9h-4M626 1547.4h-4M626 1569.8h-4M626 1592.2h-4M626 1614.6h-4M626 1637h-4M626 1659.4h-4M626 1681.8h-4M626 1704.2h-4M634.3 1717v4M661.8 1717v4M689.3 1717v4M716.8 1717v4M744.3 1717v4M771.8 1717v4M799.3 1717v4" stroke="#333" stroke-width="1.5" fill="none"/>
<text x="750.7" y="1762.5" font-size="21.3" text-anchor="middle" class="s">Normalized enrichment score</text>
<text x="619.4" y="1171" font-size="17.8" text-anchor="end" class="s">Regulation of Complement cascade</text>
<text x="619.4" y="1192.3" font-size="17.8" text-anchor="end" class="s">Interleukin-1processing</text>
<text x="619.4" y="1215.7" font-size="17.8" text-anchor="end" class="s">Complement cascade</text>
<text x="619.4" y="1237.3" font-size="17.8" text-anchor="end" class="s">Interferon alpha/beta signaling</text>
<text x="619.4" y="1260" font-size="17.8" text-anchor="end" class="s">ER-Phagosome pathway</text>
<text x="619.4" y="1279.3" font-size="17.8" text-anchor="end" class="s">Antigen Presentation: Folding, assembly</text>
<text x="619.4" y="1296.3" font-size="17.8" text-anchor="end" class="s">and peptide loading of class I MHC</text>
<text x="619.4" y="1327.3" font-size="17.8" text-anchor="end" class="s">Selenocysteine synthesis</text>
<text x="619.4" y="1365.7" font-size="17.8" text-anchor="end" class="s">Nonsense Mediated Decay (NMD) independent</text>
<text x="619.4" y="1382.3" font-size="17.8" text-anchor="end" class="s">of the Exon Junction Complex (EJC)</text>
<text x="619.4" y="1410.3" font-size="17.8" text-anchor="end" class="s">Synthesis, secretion, and inactivation</text>
<text x="619.4" y="1424" font-size="17.8" text-anchor="end" class="s">of Glucose-dependent insulinotropic Polypeptide (GIP)</text>
<text x="619.4" y="1442.7" font-size="17.8" text-anchor="end" class="s">Incretin synthesis, secretion, and inactivation</text>
<text x="619.4" y="1484" font-size="17.8" text-anchor="end" class="s">Signaling by activated point mutants of FGFR1</text>
<text x="619.4" y="1506.7" font-size="17.8" text-anchor="end" class="s">FGFR1 mutant receptor activation</text>
<text x="619.4" y="1552.3" font-size="17.8" text-anchor="end" class="s">Eukaryotic translation termination</text>
<text x="619.4" y="1573.3" font-size="17.8" text-anchor="end" class="s">Viral mRNA Translation</text>
<text x="619.4" y="1595.7" font-size="17.8" text-anchor="end" class="s">Peptide chain elongation</text>
<text x="619.4" y="1617.7" font-size="17.8" text-anchor="end" class="s">Formation of a pool of free 40S subunits</text>
<text x="619.4" y="1640.7" font-size="17.8" text-anchor="end" class="s">L13a-mediated translational silencing of Ceruloplasmin expression</text>
<text x="619.4" y="1665" font-size="17.8" text-anchor="end" class="s">GTP hydrolysis and joining of the 60S ribosomal subunit</text>
<text x="619.4" y="1686.7" font-size="17.8" text-anchor="end" class="s">Eukaryotic translation initiation</text>
<text x="619.4" y="1707.7" font-size="17.8" text-anchor="end" class="s">Cap-dependent translation initiation</text>
<text x="831.2" y="1264.5" font-size="15.4" class="s">FDR</text>
<rect x="831.9" y="1274.6" width="23" height="22.8" fill="#595a5c"/>
<rect x="831.9" y="1299.3" width="23" height="22.8" fill="#747577"/>
<rect x="831.9" y="1324" width="23" height="22.8" fill="#8e8e8f"/>
<rect x="831.9" y="1348.7" width="23" height="22.8" fill="#ababab"/>
<rect x="831.9" y="1373.4" width="23" height="22.8" fill="#cdcdcd"/>
<text x="863.4" y="1291.1" font-size="12.5" class="s">0.0</text>
<text x="863.4" y="1315.8" font-size="12.5" class="s">0.1</text>
<text x="863.4" y="1340.5" font-size="12.5" class="s">0.2</text>
<text x="863.4" y="1365.2" font-size="12.5" class="s">0.3</text>
<text x="863.4" y="1389.9" font-size="12.5" class="s">0.4</text>
<text x="831.5" y="1440.6" font-size="15.4" class="s">Group</text>
<rect x="831.9" y="1451.9" width="23" height="22.3" fill="#e16d69"/>
<rect x="831.9" y="1476.6" width="23" height="22.3" fill="#b59e1b"/>
<rect x="831.9" y="1501.3" width="23" height="22.3" fill="#32a753"/>
<rect x="831.9" y="1526" width="23" height="22.3" fill="#00abb2"/>
<rect x="831.9" y="1550.7" width="23" height="22.3" fill="#5b8ac7"/>
<rect x="831.9" y="1575.4" width="23" height="22.3" fill="#b66ba2"/>
<text x="863.8" y="1467.1" font-size="13.6" class="s" textLength="100.2" lengthAdjust="spacingAndGlyphs">Immune system</text>
<text x="863.8" y="1492.5" font-size="13.6" class="s" textLength="267.6" lengthAdjust="spacingAndGlyphs">Metabolism of amino acids and derivatives</text>
<text x="863.8" y="1517" font-size="13.6" class="s" textLength="168.9" lengthAdjust="spacingAndGlyphs">Nonsense-Mediated decay</text>
<text x="863.8" y="1541.8" font-size="13.6" class="s" textLength="184.7" lengthAdjust="spacingAndGlyphs">Peptide hormone metabolism</text>
<text x="863.8" y="1566.4" font-size="13.6" class="s" textLength="187.8" lengthAdjust="spacingAndGlyphs">Signaling by FGFR in disease</text>
<text x="863.8" y="1589.2" font-size="13.6" class="s" textLength="69.7" lengthAdjust="spacingAndGlyphs">Translation</text>
</g>
<g id="pD">
<text x="1085.3" y="1032.4" font-size="35" font-weight="bold" fill="#222">D</text>
<text x="1594.8" y="1048.6" font-size="28.5" text-anchor="middle" font-weight="bold" fill="#222">Kolf2.1J (#1) E4 vs E3</text>
<text x="1594.8" y="1083.6" font-size="28.5" text-anchor="middle" font-weight="bold" fill="#222">Transcriptomics</text>
<rect x="1624.8" y="1160.1" width="60.6" height="17.5" fill="#e26b66"/>
<rect x="1624.8" y="1179.4" width="60.6" height="17.5" fill="#e26b66"/>
<rect x="1624.2" y="1198.7" width="61.2" height="17.5" fill="#e26b66"/>
<rect x="1626" y="1217.9" width="59.4" height="17.5" fill="#e26b66"/>
<rect x="1626.9" y="1237.2" width="58.5" height="17.5" fill="#e26b66"/>
<rect x="1627.2" y="1256.5" width="58.2" height="17.5" fill="#e26b66"/>
<rect x="1685.4" y="1295.1" width="51.3" height="17.5" fill="#e8bd85"/>
<rect x="1685.4" y="1314.3" width="51.3" height="17.5" fill="#e8bd85"/>
<rect x="1626.3" y="1352.9" width="59.1" height="17.5" fill="#919c2a"/>
<rect x="1626.3" y="1372.2" width="59.1" height="17.5" fill="#919c2a"/>
<rect x="1626" y="1391.5" width="59.4" height="17.5" fill="#919c2a"/>
<rect x="1627.2" y="1410.7" width="58.2" height="17.5" fill="#919c2a"/>
<rect x="1685.4" y="1449.3" width="50.8" height="17.5" fill="#90c68e"/>
<rect x="1685.4" y="1487.9" width="46.4" height="17.5" fill="#d5eadc"/>
<rect x="1685.4" y="1526.4" width="51.3" height="17.5" fill="#bfe3e4"/>
<rect x="1685.4" y="1565" width="50.8" height="17.5" fill="#89c3ea"/>
<rect x="1685.4" y="1603.5" width="50.1" height="17.5" fill="#abaed6"/>
<rect x="1685.4" y="1642.1" width="60.3" height="17.5" fill="#a26b9f"/>
<rect x="1685.4" y="1661.4" width="60.6" height="17.5" fill="#a26b9f"/>
<rect x="1685.4" y="1699.9" width="45.9" height="17.5" fill="#fadcea"/>
<text x="1625" y="1736.5" font-size="13.6" text-anchor="middle" class="g">-2</text>
<text x="1655.2" y="1736.5" font-size="13.6" text-anchor="middle" class="g">-1</text>
<text x="1685.4" y="1736.5" font-size="13.6" text-anchor="middle" class="g">0</text>
<text x="1715.6" y="1736.5" font-size="13.6" text-anchor="middle" class="g">1</text>
<text x="1745.8" y="1736.5" font-size="13.6" text-anchor="middle" class="g">2</text>
<path d="M1616 1157.5V1720H1754.3" stroke="#000" stroke-width="1.8" fill="none"/>
<path d="M1616 1168.8h-4M1616 1188.1h-4M1616 1207.4h-4M1616 1226.7h-4M1616 1246h-4M1616 1265.2h-4M1616 1303.8h-4M1616 1323.1h-4M1616 1361.6h-4M1616 1380.9h-4M1616 1400.2h-4M1616 1419.5h-4M1616 1458h-4M1616 1496.6h-4M1616 1535.2h-4M1616 1573.7h-4M1616 1612.3h-4M1616 1650.8h-4M1616 1670.1h-4M1616 1708.7h-4M1625 1720v4M1655.2 1720v4M1685.4 1720v4M1715.6 1720v4M1745.8 1720v4" stroke="#333" stroke-width="1.5" fill="none"/>
<text x="1746.6" y="1762.6" font-size="21.3" text-anchor="middle" class="s">Normalized enrichment score</text>
<text x="1607.1" y="1165" font-size="17.8" text-anchor="end" class="g">Amplification of signal from the kinetochores</text>
<text x="1296.4" y="1186.4" font-size="17.8" class="g" textLength="310.7">Amplification of signal from unattached</text>
<text x="1276.7" y="1204.3" font-size="17.8" class="g" textLength="330.4">kinetochores via a MAD2 inhibitory signal</text>
<text x="1607.1" y="1218.6" font-size="17.8" text-anchor="end" class="g">Mitotic Spindle Checkpoint</text>
<text x="1607.1" y="1236.4" font-size="17.8" text-anchor="end" class="g">Activation of ATR in response to replication stress</text>
<text x="1607.1" y="1254.3" font-size="17.8" text-anchor="end" class="g">Cell Cycle Checkpoints</text>
<text x="1607.1" y="1272.1" font-size="17.8" text-anchor="end" class="g">Meiotic recombination</text>
<text x="1607.1" y="1307.1" font-size="17.8" text-anchor="end" class="g">Keratinization</text>
<text x="1607.1" y="1326.4" font-size="17.8" text-anchor="end" class="g">Formation of intermediate mesoderm</text>
<text x="1607.1" y="1365" font-size="17.8" text-anchor="end" class="g">Assembly of the pre-replicative complex</text>
<text x="1607.1" y="1385.4" font-size="17.8" text-anchor="end" class="g">DNA strand elongation</text>
<text x="1607.1" y="1403.6" font-size="17.8" text-anchor="end" class="g">DNA Replication Pre-Initiation</text>
<text x="1607.1" y="1422.9" font-size="17.8" text-anchor="end" class="g">DNA Replication</text>
<text x="1607.1" y="1461.4" font-size="17.8" text-anchor="end" class="g">Abacavir ADME</text>
<text x="1607.1" y="1500" font-size="17.8" text-anchor="end" class="g">Regulation of RUNX2 expression and activity</text>
<text x="1607.1" y="1538.6" font-size="17.8" text-anchor="end" class="g">Miscellaneous substrates</text>
<text x="1607.1" y="1579.3" font-size="17.8" text-anchor="end" class="g">Metabolism of Angiotensinogen to Angiotensins</text>
<text x="1607.1" y="1615.7" font-size="17.8" text-anchor="end" class="g">Caspase activation via Dependence Receptors in the absence of ligand</text>
<text x="1607.1" y="1654.3" font-size="17.8" text-anchor="end" class="g">Olfactory Signaling Pathway</text>
<text x="1607.1" y="1673.6" font-size="17.8" text-anchor="end" class="g">Expression and translocation of olfactory receptors</text>
<text x="1607.1" y="1714.3" font-size="17.8" text-anchor="end" class="g">MET activates RAP1 and RAC1</text>
<text x="1796.3" y="1264.7" font-size="15.4" class="s">FDR</text>
<rect x="1796.6" y="1275.7" width="22.9" height="22.2" fill="#595a5c"/>
<rect x="1796.6" y="1300.3" width="22.9" height="22.2" fill="#747577"/>
<rect x="1796.6" y="1325" width="22.9" height="22.2" fill="#8e8e8f"/>
<rect x="1796.6" y="1349.6" width="22.9" height="22.2" fill="#ababab"/>
<text x="1828.3" y="1291.2" font-size="12.5" class="s">0.0</text>
<text x="1828.3" y="1315.8" font-size="12.5" class="s">0.2</text>
<text x="1828.3" y="1340.5" font-size="12.5" class="s">0.4</text>
<text x="1828.3" y="1365.1" font-size="12.5" class="s">0.6</text>
<text x="1790.3" y="1419.2" font-size="15.4" class="s">Group</text>
<rect x="1790.3" y="1430.2" width="22.8" height="22.2" fill="#e26b66"/>
<rect x="1790.3" y="1454.8" width="22.8" height="22.2" fill="#d28e28"/>
<rect x="1790.3" y="1479.5" width="22.8" height="22.2" fill="#919c2a"/>
<rect x="1790.3" y="1504.1" width="22.8" height="22.2" fill="#3dab4e"/>
<rect x="1790.3" y="1528.8" width="22.8" height="22.2" fill="#1aa670"/>
<rect x="1790.3" y="1553.4" width="22.8" height="22.2" fill="#00acb5"/>
<rect x="1790.3" y="1578" width="22.8" height="22.2" fill="#27a0de"/>
<rect x="1790.3" y="1602.7" width="22.8" height="22.2" fill="#7b81bd"/>
<rect x="1790.3" y="1627.3" width="22.8" height="22.2" fill="#a26b9f"/>
<rect x="1790.3" y="1652" width="22.8" height="22.2" fill="#e868a9"/>
<text x="1822.1" y="1445.6" font-size="12.6" class="s">Cell Cycle</text>
<text x="1822.1" y="1470.2" font-size="12.6" class="s">Developmental Biology</text>
<text x="1822.1" y="1494.9" font-size="12.6" class="s">DNA Replication</text>
<text x="1822.1" y="1519.5" font-size="12.6" class="s">Drug ADME</text>
<text x="1822.1" y="1544.2" font-size="12.6" class="s">Gene Expression (Transcription)</text>
<text x="1822.1" y="1568.8" font-size="12.6" class="s">Metabolism</text>
<text x="1822.1" y="1593.4" font-size="12.6" class="s">Metabolism of Proteins</text>
<text x="1822.1" y="1618.1" font-size="12.6" class="s">Programmed Cell Death</text>
<text x="1822.1" y="1642.7" font-size="12.6" class="s">Sensory Perception</text>
<text x="1822.1" y="1667.4" font-size="12.6" class="s">Signal Transduction</text>
</g>
<g id="pE">
<text x="58" y="1837.3" font-size="35" font-weight="bold" fill="#222">E</text>
<defs><linearGradient id="cb" x1="0" y1="0" x2="0" y2="1"><stop offset="0" stop-color="#a61f2b"/><stop offset="0.5" stop-color="#fff"/><stop offset="1" stop-color="#3b54a4"/></linearGradient></defs>
<rect x="26.9" y="1934" width="12.1" height="178.9" fill="url(#cb)"/>
<text x="43.9" y="1937.4" font-size="11.6" fill="#000" stroke="#000" stroke-width="0.25">2</text>
<text x="43.9" y="1982.2" font-size="11.6" fill="#000" stroke="#000" stroke-width="0.25">1</text>
<text x="43.9" y="2027.1" font-size="11.6" fill="#000" stroke="#000" stroke-width="0.25">0</text>
<text x="43.3" y="2071.9" font-size="11.6" fill="#000" stroke="#000" stroke-width="0.25">-1</text>
<text x="43.3" y="2116.7" font-size="11.6" fill="#000" stroke="#000" stroke-width="0.25">-2</text>
<text transform="translate(19.8 2018.5) rotate(-90)" font-size="15.5" text-anchor="middle" textLength="101.5" lengthAdjust="spacingAndGlyphs" fill="#111" stroke="#111" stroke-width="0.3">Log2f E4 vs E3</text>
<path d="M1905.5 1958.7h8.7v17.4h-8.7zM1532.8 1976.1h8.7v17.4h-8.7zM1532.8 2010.8h8.7v17.4h-8.7zM1792.8 2010.8h26v17.4h-26zM1879.5 2010.8h8.7v17.4h-8.7zM1896.8 2010.8h8.7v17.4h-8.7zM1914.2 2010.8h8.7v17.4h-8.7zM536.2 2028.1h8.7v17.4h-8.7zM1038.8 2028.1h8.7v17.4h-8.7zM1567.5 2028.1h8.7v17.4h-8.7zM1896.8 2028.1h8.7v17.4h-8.7zM1515.5 2045.5h17.3v17.4h-17.3zM1541.5 2045.5h17.3v17.4h-17.3zM1567.5 2045.5h17.3v17.4h-17.3zM1602.2 2045.5h17.3v17.4h-17.3zM1645.5 2045.5h17.3v17.4h-17.3zM1671.5 2045.5h8.7v17.4h-8.7zM1827.5 2045.5h26v17.4h-26zM1082.2 2062.9h8.7v17.4h-8.7zM1541.5 2062.9h8.7v17.4h-8.7zM1827.5 2062.9h8.7v17.4h-8.7zM1888.2 2062.9h8.7v17.4h-8.7zM1905.5 2062.9h17.3v17.4h-17.3zM1021.5 2080.2h17.3v17.4h-17.3zM1524.2 2080.2h8.7v17.4h-8.7zM1775.5 2080.2h26v17.4h-26zM1827.5 2080.2h52v17.4h-52zM1905.5 2080.2h17.3v17.4h-17.3z" fill="#2a4494"/>
<path d="M1030.2 1958.7h8.7v17.4h-8.7zM1116.8 1958.7h26v17.4h-26zM1532.8 1958.7h8.7v17.4h-8.7zM1576.2 1958.7h26v17.4h-26zM1870.8 1958.7h8.7v17.4h-8.7zM146.2 1976.1h8.7v17.4h-8.7zM1515.5 1976.1h8.7v17.4h-8.7zM1082.2 2010.8h8.7v17.4h-8.7zM1818.8 2010.8h8.7v17.4h-8.7zM1905.5 2010.8h8.7v17.4h-8.7zM146.2 2028.1h8.7v17.4h-8.7zM1558.8 2028.1h8.7v17.4h-8.7zM1879.5 2028.1h17.3v17.4h-17.3zM1905.5 2028.1h17.3v17.4h-17.3zM804.9 2045.5h17.3v17.4h-17.3zM1532.8 2045.5h8.7v17.4h-8.7zM1558.8 2045.5h8.7v17.4h-8.7zM1593.5 2045.5h8.7v17.4h-8.7zM1628.2 2045.5h17.3v17.4h-17.3zM1662.8 2045.5h8.7v17.4h-8.7zM1680.2 2045.5h8.7v17.4h-8.7zM1862.2 2045.5h8.7v17.4h-8.7zM1645.5 2062.9h17.3v17.4h-17.3zM1775.5 2062.9h17.3v17.4h-17.3zM1619.5 2080.2h8.7v17.4h-8.7zM1645.5 2080.2h17.3v17.4h-17.3zM1732.2 2080.2h8.7v17.4h-8.7zM1758.2 2080.2h17.3v17.4h-17.3zM1801.5 2080.2h8.7v17.4h-8.7zM1818.8 2080.2h8.7v17.4h-8.7z" fill="#5a69b3"/>
<path d="M284.9 1958.7h8.7v17.4h-8.7zM302.2 1958.7h8.7v17.4h-8.7zM319.5 1958.7h8.7v17.4h-8.7zM449.5 1958.7h8.7v17.4h-8.7zM518.9 1958.7h17.3v17.4h-17.3zM544.9 1958.7h17.3v17.4h-17.3zM570.9 1958.7h17.3v17.4h-17.3zM1021.5 1958.7h8.7v17.4h-8.7zM1073.5 1958.7h8.7v17.4h-8.7zM1142.8 1958.7h52v17.4h-52zM1203.5 1958.7h17.3v17.4h-17.3zM1428.8 1958.7h8.7v17.4h-8.7zM1472.2 1958.7h8.7v17.4h-8.7zM1489.5 1958.7h43.3v17.4h-43.3zM1541.5 1958.7h8.7v17.4h-8.7zM1610.8 1958.7h52v17.4h-52zM1688.8 1958.7h8.7v17.4h-8.7zM1706.2 1958.7h8.7v17.4h-8.7zM1853.5 1958.7h17.3v17.4h-17.3zM1879.5 1958.7h8.7v17.4h-8.7zM154.9 1976.1h8.7v17.4h-8.7zM172.2 1976.1h17.3v17.4h-17.3zM241.5 1976.1h8.7v17.4h-8.7zM544.9 1976.1h8.7v17.4h-8.7zM752.9 1976.1h8.7v17.4h-8.7zM822.2 1976.1h8.7v17.4h-8.7zM1038.8 1976.1h17.3v17.4h-17.3zM1108.2 1976.1h8.7v17.4h-8.7zM1177.5 1976.1h17.3v17.4h-17.3zM1394.2 1976.1h8.7v17.4h-8.7zM1446.2 1976.1h8.7v17.4h-8.7zM1524.2 1976.1h8.7v17.4h-8.7zM1550.2 1976.1h26v17.4h-26zM1784.2 1976.1h17.3v17.4h-17.3zM172.2 1993.4h8.7v17.4h-8.7zM388.9 1993.4h17.3v17.4h-17.3zM544.9 1993.4h8.7v17.4h-8.7zM726.9 1993.4h17.3v17.4h-17.3zM752.9 1993.4h8.7v17.4h-8.7zM787.5 1993.4h8.7v17.4h-8.7zM917.5 1993.4h8.7v17.4h-8.7zM1021.5 1993.4h17.3v17.4h-17.3zM1047.5 1993.4h17.3v17.4h-17.3zM1073.5 1993.4h8.7v17.4h-8.7zM1168.8 1993.4h8.7v17.4h-8.7zM1220.8 1993.4h8.7v17.4h-8.7zM1272.8 1993.4h17.3v17.4h-17.3zM1420.2 1993.4h8.7v17.4h-8.7zM1480.8 1993.4h8.7v17.4h-8.7zM1524.2 1993.4h17.3v17.4h-17.3zM1619.5 1993.4h8.7v17.4h-8.7zM1801.5 1993.4h8.7v17.4h-8.7zM1827.5 1993.4h8.7v17.4h-8.7zM1879.5 1993.4h8.7v17.4h-8.7zM1896.8 1993.4h8.7v17.4h-8.7zM206.9 2010.8h8.7v17.4h-8.7zM1038.8 2010.8h8.7v17.4h-8.7zM1125.5 2010.8h26v17.4h-26zM1272.8 2010.8h8.7v17.4h-8.7zM1428.8 2010.8h8.7v17.4h-8.7zM1524.2 2010.8h8.7v17.4h-8.7zM1584.8 2010.8h8.7v17.4h-8.7zM1602.2 2010.8h8.7v17.4h-8.7zM1654.2 2010.8h8.7v17.4h-8.7zM1680.2 2010.8h8.7v17.4h-8.7zM1732.2 2010.8h8.7v17.4h-8.7zM1749.5 2010.8h8.7v17.4h-8.7zM1775.5 2010.8h17.3v17.4h-17.3zM154.9 2028.1h8.7v17.4h-8.7zM241.5 2028.1h34.7v17.4h-34.7zM302.2 2028.1h8.7v17.4h-8.7zM328.2 2028.1h8.7v17.4h-8.7zM518.9 2028.1h8.7v17.4h-8.7zM544.9 2028.1h8.7v17.4h-8.7zM562.2 2028.1h52v17.4h-52zM960.9 2028.1h17.3v17.4h-17.3zM1064.8 2028.1h17.3v17.4h-17.3zM1515.5 2028.1h8.7v17.4h-8.7zM1541.5 2028.1h8.7v17.4h-8.7zM1584.8 2028.1h17.3v17.4h-17.3zM284.9 2045.5h8.7v17.4h-8.7zM518.9 2045.5h8.7v17.4h-8.7zM796.2 2045.5h8.7v17.4h-8.7zM822.2 2045.5h43.3v17.4h-43.3zM926.2 2045.5h8.7v17.4h-8.7zM1142.8 2045.5h8.7v17.4h-8.7zM1281.5 2045.5h8.7v17.4h-8.7zM1420.2 2045.5h8.7v17.4h-8.7zM1584.8 2045.5h8.7v17.4h-8.7zM1619.5 2045.5h8.7v17.4h-8.7zM1688.8 2045.5h8.7v17.4h-8.7zM1775.5 2045.5h17.3v17.4h-17.3zM1801.5 2045.5h8.7v17.4h-8.7zM1853.5 2045.5h8.7v17.4h-8.7zM1870.8 2045.5h17.3v17.4h-17.3zM1896.8 2045.5h8.7v17.4h-8.7zM839.5 2062.9h8.7v17.4h-8.7zM856.9 2062.9h8.7v17.4h-8.7zM882.9 2062.9h26v17.4h-26zM917.5 2062.9h34.7v17.4h-34.7zM960.9 2062.9h34.7v17.4h-34.7zM1038.8 2062.9h26v17.4h-26zM1099.5 2062.9h8.7v17.4h-8.7zM1576.2 2062.9h8.7v17.4h-8.7zM1593.5 2062.9h8.7v17.4h-8.7zM1610.8 2062.9h8.7v17.4h-8.7zM1636.8 2062.9h8.7v17.4h-8.7zM1662.8 2062.9h8.7v17.4h-8.7zM1680.2 2062.9h26v17.4h-26zM1714.8 2062.9h8.7v17.4h-8.7zM1749.5 2062.9h8.7v17.4h-8.7zM1792.8 2062.9h34.7v17.4h-34.7zM1844.8 2062.9h8.7v17.4h-8.7zM1896.8 2062.9h8.7v17.4h-8.7zM943.5 2080.2h8.7v17.4h-8.7zM1012.8 2080.2h8.7v17.4h-8.7zM1038.8 2080.2h8.7v17.4h-8.7zM1056.2 2080.2h26v17.4h-26zM1220.8 2080.2h17.3v17.4h-17.3zM1255.5 2080.2h17.3v17.4h-17.3zM1281.5 2080.2h8.7v17.4h-8.7zM1420.2 2080.2h26v17.4h-26zM1515.5 2080.2h8.7v17.4h-8.7zM1532.8 2080.2h8.7v17.4h-8.7zM1576.2 2080.2h8.7v17.4h-8.7zM1593.5 2080.2h17.3v17.4h-17.3zM1628.2 2080.2h17.3v17.4h-17.3zM1662.8 2080.2h43.3v17.4h-43.3zM1723.5 2080.2h8.7v17.4h-8.7zM1740.8 2080.2h17.3v17.4h-17.3zM1810.2 2080.2h8.7v17.4h-8.7zM1888.2 2080.2h8.7v17.4h-8.7z" fill="#a3abd5"/>
<path d="M293.5 1958.7h8.7v17.4h-8.7zM310.9 1958.7h8.7v17.4h-8.7zM406.2 1958.7h17.3v17.4h-17.3zM432.2 1958.7h17.3v17.4h-17.3zM458.2 1958.7h8.7v17.4h-8.7zM475.5 1958.7h8.7v17.4h-8.7zM492.9 1958.7h8.7v17.4h-8.7zM562.2 1958.7h8.7v17.4h-8.7zM596.9 1958.7h17.3v17.4h-17.3zM830.9 1958.7h17.3v17.4h-17.3zM1047.5 1958.7h26v17.4h-26zM1099.5 1958.7h17.3v17.4h-17.3zM1194.8 1958.7h8.7v17.4h-8.7zM1238.2 1958.7h8.7v17.4h-8.7zM1255.5 1958.7h8.7v17.4h-8.7zM1290.2 1958.7h17.3v17.4h-17.3zM1342.2 1958.7h17.3v17.4h-17.3zM1368.2 1958.7h8.7v17.4h-8.7zM1385.5 1958.7h8.7v17.4h-8.7zM1411.5 1958.7h8.7v17.4h-8.7zM1437.5 1958.7h34.7v17.4h-34.7zM1550.2 1958.7h26v17.4h-26zM1602.2 1958.7h8.7v17.4h-8.7zM1680.2 1958.7h8.7v17.4h-8.7zM1697.5 1958.7h8.7v17.4h-8.7zM1714.8 1958.7h34.7v17.4h-34.7zM163.5 1976.1h8.7v17.4h-8.7zM189.5 1976.1h52v17.4h-52zM258.9 1976.1h26v17.4h-26zM345.5 1976.1h8.7v17.4h-8.7zM406.2 1976.1h17.3v17.4h-17.3zM449.5 1976.1h8.7v17.4h-8.7zM492.9 1976.1h8.7v17.4h-8.7zM536.2 1976.1h8.7v17.4h-8.7zM553.5 1976.1h26v17.4h-26zM640.2 1976.1h17.3v17.4h-17.3zM674.9 1976.1h17.3v17.4h-17.3zM709.5 1976.1h8.7v17.4h-8.7zM735.5 1976.1h17.3v17.4h-17.3zM770.2 1976.1h17.3v17.4h-17.3zM830.9 1976.1h8.7v17.4h-8.7zM926.2 1976.1h17.3v17.4h-17.3zM952.2 1976.1h17.3v17.4h-17.3zM1030.2 1976.1h8.7v17.4h-8.7zM1056.2 1976.1h8.7v17.4h-8.7zM1099.5 1976.1h8.7v17.4h-8.7zM1142.8 1976.1h8.7v17.4h-8.7zM1168.8 1976.1h8.7v17.4h-8.7zM1194.8 1976.1h26v17.4h-26zM1264.2 1976.1h8.7v17.4h-8.7zM1307.5 1976.1h17.3v17.4h-17.3zM1368.2 1976.1h17.3v17.4h-17.3zM1402.8 1976.1h34.7v17.4h-34.7zM1454.8 1976.1h34.7v17.4h-34.7zM1506.8 1976.1h8.7v17.4h-8.7zM1541.5 1976.1h8.7v17.4h-8.7zM1593.5 1976.1h8.7v17.4h-8.7zM1610.8 1976.1h26v17.4h-26zM1662.8 1976.1h8.7v17.4h-8.7zM1706.2 1976.1h78v17.4h-78zM1801.5 1976.1h8.7v17.4h-8.7zM1888.2 1976.1h8.7v17.4h-8.7zM1905.5 1976.1h8.7v17.4h-8.7zM154.9 1993.4h17.3v17.4h-17.3zM180.9 1993.4h8.7v17.4h-8.7zM206.9 1993.4h8.7v17.4h-8.7zM224.2 1993.4h8.7v17.4h-8.7zM258.9 1993.4h8.7v17.4h-8.7zM276.2 1993.4h17.3v17.4h-17.3zM345.5 1993.4h43.3v17.4h-43.3zM414.9 1993.4h17.3v17.4h-17.3zM440.9 1993.4h17.3v17.4h-17.3zM484.2 1993.4h60.7v17.4h-60.7zM553.5 1993.4h8.7v17.4h-8.7zM596.9 1993.4h17.3v17.4h-17.3zM631.5 1993.4h26v17.4h-26zM666.2 1993.4h43.3v17.4h-43.3zM718.2 1993.4h8.7v17.4h-8.7zM744.2 1993.4h8.7v17.4h-8.7zM761.5 1993.4h26v17.4h-26zM882.9 1993.4h17.3v17.4h-17.3zM926.2 1993.4h34.7v17.4h-34.7zM995.5 1993.4h8.7v17.4h-8.7zM1038.8 1993.4h8.7v17.4h-8.7zM1142.8 1993.4h8.7v17.4h-8.7zM1229.5 1993.4h8.7v17.4h-8.7zM1246.8 1993.4h26v17.4h-26zM1298.8 1993.4h26v17.4h-26zM1333.5 1993.4h8.7v17.4h-8.7zM1359.5 1993.4h17.3v17.4h-17.3zM1385.5 1993.4h8.7v17.4h-8.7zM1402.8 1993.4h17.3v17.4h-17.3zM1454.8 1993.4h26v17.4h-26zM1489.5 1993.4h34.7v17.4h-34.7zM1558.8 1993.4h17.3v17.4h-17.3zM1610.8 1993.4h8.7v17.4h-8.7zM1628.2 1993.4h8.7v17.4h-8.7zM1645.5 1993.4h8.7v17.4h-8.7zM1671.5 1993.4h26v17.4h-26zM1723.5 1993.4h8.7v17.4h-8.7zM1740.8 1993.4h8.7v17.4h-8.7zM1758.2 1993.4h17.3v17.4h-17.3zM1784.2 1993.4h17.3v17.4h-17.3zM1810.2 1993.4h17.3v17.4h-17.3zM1888.2 1993.4h8.7v17.4h-8.7zM284.9 2010.8h8.7v17.4h-8.7zM388.9 2010.8h17.3v17.4h-17.3zM414.9 2010.8h8.7v17.4h-8.7zM449.5 2010.8h8.7v17.4h-8.7zM527.5 2010.8h8.7v17.4h-8.7zM674.9 2010.8h8.7v17.4h-8.7zM726.9 2010.8h8.7v17.4h-8.7zM752.9 2010.8h26v17.4h-26zM865.5 2010.8h17.3v17.4h-17.3zM952.2 2010.8h8.7v17.4h-8.7zM1030.2 2010.8h8.7v17.4h-8.7zM1047.5 2010.8h8.7v17.4h-8.7zM1064.8 2010.8h8.7v17.4h-8.7zM1090.8 2010.8h8.7v17.4h-8.7zM1116.8 2010.8h8.7v17.4h-8.7zM1160.2 2010.8h8.7v17.4h-8.7zM1186.2 2010.8h8.7v17.4h-8.7zM1220.8 2010.8h34.7v17.4h-34.7zM1290.2 2010.8h34.7v17.4h-34.7zM1437.5 2010.8h43.3v17.4h-43.3zM1576.2 2010.8h8.7v17.4h-8.7zM1593.5 2010.8h8.7v17.4h-8.7zM1610.8 2010.8h17.3v17.4h-17.3zM1645.5 2010.8h8.7v17.4h-8.7zM1662.8 2010.8h17.3v17.4h-17.3zM1688.8 2010.8h8.7v17.4h-8.7zM1706.2 2010.8h8.7v17.4h-8.7zM1723.5 2010.8h8.7v17.4h-8.7zM1740.8 2010.8h8.7v17.4h-8.7zM1758.2 2010.8h17.3v17.4h-17.3zM1836.2 2010.8h26v17.4h-26zM172.2 2028.1h69.3v17.4h-69.3zM276.2 2028.1h26v17.4h-26zM310.9 2028.1h17.3v17.4h-17.3zM336.9 2028.1h8.7v17.4h-8.7zM354.2 2028.1h8.7v17.4h-8.7zM380.2 2028.1h78v17.4h-78zM466.9 2028.1h8.7v17.4h-8.7zM492.9 2028.1h26v17.4h-26zM553.5 2028.1h8.7v17.4h-8.7zM657.5 2028.1h17.3v17.4h-17.3zM683.5 2028.1h26v17.4h-26zM778.9 2028.1h26v17.4h-26zM813.5 2028.1h8.7v17.4h-8.7zM874.2 2028.1h8.7v17.4h-8.7zM934.9 2028.1h8.7v17.4h-8.7zM995.5 2028.1h17.3v17.4h-17.3zM1030.2 2028.1h8.7v17.4h-8.7zM1047.5 2028.1h8.7v17.4h-8.7zM1134.2 2028.1h8.7v17.4h-8.7zM1151.5 2028.1h17.3v17.4h-17.3zM1238.2 2028.1h17.3v17.4h-17.3zM1316.2 2028.1h8.7v17.4h-8.7zM1333.5 2028.1h8.7v17.4h-8.7zM1394.2 2028.1h8.7v17.4h-8.7zM1506.8 2028.1h8.7v17.4h-8.7zM1576.2 2028.1h8.7v17.4h-8.7zM1610.8 2028.1h34.7v17.4h-34.7zM1697.5 2028.1h8.7v17.4h-8.7zM1749.5 2028.1h8.7v17.4h-8.7zM1801.5 2028.1h8.7v17.4h-8.7zM1836.2 2028.1h8.7v17.4h-8.7zM1853.5 2028.1h26v17.4h-26zM232.9 2045.5h17.3v17.4h-17.3zM267.5 2045.5h17.3v17.4h-17.3zM328.2 2045.5h17.3v17.4h-17.3zM362.9 2045.5h8.7v17.4h-8.7zM432.2 2045.5h8.7v17.4h-8.7zM475.5 2045.5h26v17.4h-26zM510.2 2045.5h8.7v17.4h-8.7zM527.5 2045.5h34.7v17.4h-34.7zM588.2 2045.5h17.3v17.4h-17.3zM614.2 2045.5h8.7v17.4h-8.7zM640.2 2045.5h8.7v17.4h-8.7zM657.5 2045.5h26v17.4h-26zM718.2 2045.5h34.7v17.4h-34.7zM865.5 2045.5h17.3v17.4h-17.3zM891.5 2045.5h34.7v17.4h-34.7zM943.5 2045.5h34.7v17.4h-34.7zM1168.8 2045.5h8.7v17.4h-8.7zM1264.2 2045.5h17.3v17.4h-17.3zM1298.8 2045.5h17.3v17.4h-17.3zM1359.5 2045.5h8.7v17.4h-8.7zM1376.8 2045.5h17.3v17.4h-17.3zM1428.8 2045.5h8.7v17.4h-8.7zM1472.2 2045.5h8.7v17.4h-8.7zM1489.5 2045.5h8.7v17.4h-8.7zM1697.5 2045.5h26v17.4h-26zM1749.5 2045.5h26v17.4h-26zM1792.8 2045.5h8.7v17.4h-8.7zM1818.8 2045.5h8.7v17.4h-8.7zM1914.2 2045.5h8.7v17.4h-8.7zM146.2 2062.9h8.7v17.4h-8.7zM302.2 2062.9h8.7v17.4h-8.7zM622.9 2062.9h8.7v17.4h-8.7zM796.2 2062.9h8.7v17.4h-8.7zM813.5 2062.9h8.7v17.4h-8.7zM830.9 2062.9h8.7v17.4h-8.7zM865.5 2062.9h17.3v17.4h-17.3zM908.9 2062.9h8.7v17.4h-8.7zM952.2 2062.9h8.7v17.4h-8.7zM1012.8 2062.9h8.7v17.4h-8.7zM1064.8 2062.9h8.7v17.4h-8.7zM1090.8 2062.9h8.7v17.4h-8.7zM1116.8 2062.9h8.7v17.4h-8.7zM1246.8 2062.9h17.3v17.4h-17.3zM1324.8 2062.9h8.7v17.4h-8.7zM1342.2 2062.9h8.7v17.4h-8.7zM1359.5 2062.9h17.3v17.4h-17.3zM1558.8 2062.9h17.3v17.4h-17.3zM1584.8 2062.9h8.7v17.4h-8.7zM1602.2 2062.9h8.7v17.4h-8.7zM1628.2 2062.9h8.7v17.4h-8.7zM1671.5 2062.9h8.7v17.4h-8.7zM1706.2 2062.9h8.7v17.4h-8.7zM1723.5 2062.9h26v17.4h-26zM1758.2 2062.9h17.3v17.4h-17.3zM1836.2 2062.9h8.7v17.4h-8.7zM718.2 2080.2h17.3v17.4h-17.3zM761.5 2080.2h17.3v17.4h-17.3zM796.2 2080.2h8.7v17.4h-8.7zM822.2 2080.2h17.3v17.4h-17.3zM865.5 2080.2h78v17.4h-78zM952.2 2080.2h8.7v17.4h-8.7zM969.5 2080.2h43.3v17.4h-43.3zM1047.5 2080.2h8.7v17.4h-8.7zM1125.5 2080.2h8.7v17.4h-8.7zM1238.2 2080.2h17.3v17.4h-17.3zM1272.8 2080.2h8.7v17.4h-8.7zM1368.2 2080.2h8.7v17.4h-8.7zM1446.2 2080.2h69.3v17.4h-69.3zM1567.5 2080.2h8.7v17.4h-8.7zM1584.8 2080.2h8.7v17.4h-8.7zM1714.8 2080.2h8.7v17.4h-8.7z" fill="#dadeef"/>
<path d="M388.9 1958.7h8.7v17.4h-8.7zM423.5 1958.7h8.7v17.4h-8.7zM466.9 1958.7h8.7v17.4h-8.7zM484.2 1958.7h8.7v17.4h-8.7zM501.5 1958.7h8.7v17.4h-8.7zM822.2 1958.7h8.7v17.4h-8.7zM978.2 1958.7h8.7v17.4h-8.7zM1246.8 1958.7h8.7v17.4h-8.7zM1264.2 1958.7h8.7v17.4h-8.7zM1307.5 1958.7h8.7v17.4h-8.7zM1376.8 1958.7h8.7v17.4h-8.7zM1402.8 1958.7h8.7v17.4h-8.7zM1480.8 1958.7h8.7v17.4h-8.7zM1784.2 1958.7h8.7v17.4h-8.7zM1801.5 1958.7h8.7v17.4h-8.7zM1827.5 1958.7h17.3v17.4h-17.3zM1914.2 1958.7h8.7v17.4h-8.7zM250.2 1976.1h8.7v17.4h-8.7zM328.2 1976.1h17.3v17.4h-17.3zM354.2 1976.1h8.7v17.4h-8.7zM388.9 1976.1h8.7v17.4h-8.7zM440.9 1976.1h8.7v17.4h-8.7zM466.9 1976.1h26v17.4h-26zM501.5 1976.1h17.3v17.4h-17.3zM579.5 1976.1h8.7v17.4h-8.7zM605.5 1976.1h34.7v17.4h-34.7zM657.5 1976.1h17.3v17.4h-17.3zM700.9 1976.1h8.7v17.4h-8.7zM761.5 1976.1h8.7v17.4h-8.7zM787.5 1976.1h8.7v17.4h-8.7zM804.9 1976.1h8.7v17.4h-8.7zM865.5 1976.1h8.7v17.4h-8.7zM882.9 1976.1h8.7v17.4h-8.7zM900.2 1976.1h17.3v17.4h-17.3zM943.5 1976.1h8.7v17.4h-8.7zM969.5 1976.1h26v17.4h-26zM1004.2 1976.1h26v17.4h-26zM1064.8 1976.1h8.7v17.4h-8.7zM1090.8 1976.1h8.7v17.4h-8.7zM1116.8 1976.1h8.7v17.4h-8.7zM1134.2 1976.1h8.7v17.4h-8.7zM1151.5 1976.1h17.3v17.4h-17.3zM1255.5 1976.1h8.7v17.4h-8.7zM1281.5 1976.1h26v17.4h-26zM1324.8 1976.1h8.7v17.4h-8.7zM1342.2 1976.1h17.3v17.4h-17.3zM1385.5 1976.1h8.7v17.4h-8.7zM1437.5 1976.1h8.7v17.4h-8.7zM1498.2 1976.1h8.7v17.4h-8.7zM1576.2 1976.1h8.7v17.4h-8.7zM1645.5 1976.1h8.7v17.4h-8.7zM1688.8 1976.1h8.7v17.4h-8.7zM1836.2 1976.1h8.7v17.4h-8.7zM1853.5 1976.1h8.7v17.4h-8.7zM189.5 1993.4h17.3v17.4h-17.3zM215.5 1993.4h8.7v17.4h-8.7zM241.5 1993.4h17.3v17.4h-17.3zM267.5 1993.4h8.7v17.4h-8.7zM293.5 1993.4h17.3v17.4h-17.3zM336.9 1993.4h8.7v17.4h-8.7zM458.2 1993.4h26v17.4h-26zM562.2 1993.4h26v17.4h-26zM657.5 1993.4h8.7v17.4h-8.7zM709.5 1993.4h8.7v17.4h-8.7zM804.9 1993.4h26v17.4h-26zM865.5 1993.4h17.3v17.4h-17.3zM900.2 1993.4h17.3v17.4h-17.3zM986.9 1993.4h8.7v17.4h-8.7zM1064.8 1993.4h8.7v17.4h-8.7zM1099.5 1993.4h8.7v17.4h-8.7zM1134.2 1993.4h8.7v17.4h-8.7zM1151.5 1993.4h8.7v17.4h-8.7zM1194.8 1993.4h8.7v17.4h-8.7zM1212.2 1993.4h8.7v17.4h-8.7zM1238.2 1993.4h8.7v17.4h-8.7zM1290.2 1993.4h8.7v17.4h-8.7zM1324.8 1993.4h8.7v17.4h-8.7zM1350.8 1993.4h8.7v17.4h-8.7zM1394.2 1993.4h8.7v17.4h-8.7zM1428.8 1993.4h8.7v17.4h-8.7zM1446.2 1993.4h8.7v17.4h-8.7zM1550.2 1993.4h8.7v17.4h-8.7zM1602.2 1993.4h8.7v17.4h-8.7zM1636.8 1993.4h8.7v17.4h-8.7zM1662.8 1993.4h8.7v17.4h-8.7zM1732.2 1993.4h8.7v17.4h-8.7zM1749.5 1993.4h8.7v17.4h-8.7zM1775.5 1993.4h8.7v17.4h-8.7zM215.5 2010.8h8.7v17.4h-8.7zM432.2 2010.8h17.3v17.4h-17.3zM458.2 2010.8h8.7v17.4h-8.7zM475.5 2010.8h8.7v17.4h-8.7zM492.9 2010.8h8.7v17.4h-8.7zM510.2 2010.8h8.7v17.4h-8.7zM570.9 2010.8h8.7v17.4h-8.7zM588.2 2010.8h8.7v17.4h-8.7zM648.9 2010.8h26v17.4h-26zM683.5 2010.8h8.7v17.4h-8.7zM709.5 2010.8h17.3v17.4h-17.3zM744.2 2010.8h8.7v17.4h-8.7zM778.9 2010.8h17.3v17.4h-17.3zM813.5 2010.8h8.7v17.4h-8.7zM839.5 2010.8h8.7v17.4h-8.7zM882.9 2010.8h17.3v17.4h-17.3zM926.2 2010.8h8.7v17.4h-8.7zM943.5 2010.8h8.7v17.4h-8.7zM960.9 2010.8h8.7v17.4h-8.7zM1004.2 2010.8h8.7v17.4h-8.7zM1056.2 2010.8h8.7v17.4h-8.7zM1151.5 2010.8h8.7v17.4h-8.7zM1177.5 2010.8h8.7v17.4h-8.7zM1281.5 2010.8h8.7v17.4h-8.7zM1342.2 2010.8h8.7v17.4h-8.7zM1489.5 2010.8h8.7v17.4h-8.7zM1515.5 2010.8h8.7v17.4h-8.7zM1550.2 2010.8h8.7v17.4h-8.7zM1628.2 2010.8h8.7v17.4h-8.7zM1714.8 2010.8h8.7v17.4h-8.7zM345.5 2028.1h8.7v17.4h-8.7zM362.9 2028.1h17.3v17.4h-17.3zM458.2 2028.1h8.7v17.4h-8.7zM484.2 2028.1h8.7v17.4h-8.7zM614.2 2028.1h8.7v17.4h-8.7zM640.2 2028.1h17.3v17.4h-17.3zM674.9 2028.1h8.7v17.4h-8.7zM718.2 2028.1h8.7v17.4h-8.7zM770.2 2028.1h8.7v17.4h-8.7zM804.9 2028.1h8.7v17.4h-8.7zM848.2 2028.1h8.7v17.4h-8.7zM865.5 2028.1h8.7v17.4h-8.7zM926.2 2028.1h8.7v17.4h-8.7zM952.2 2028.1h8.7v17.4h-8.7zM986.9 2028.1h8.7v17.4h-8.7zM1012.8 2028.1h8.7v17.4h-8.7zM1056.2 2028.1h8.7v17.4h-8.7zM1116.8 2028.1h17.3v17.4h-17.3zM1142.8 2028.1h8.7v17.4h-8.7zM1186.2 2028.1h26v17.4h-26zM1220.8 2028.1h8.7v17.4h-8.7zM1255.5 2028.1h34.7v17.4h-34.7zM1307.5 2028.1h8.7v17.4h-8.7zM1324.8 2028.1h8.7v17.4h-8.7zM1342.2 2028.1h8.7v17.4h-8.7zM1359.5 2028.1h8.7v17.4h-8.7zM1376.8 2028.1h17.3v17.4h-17.3zM1437.5 2028.1h8.7v17.4h-8.7zM1463.5 2028.1h26v17.4h-26zM1602.2 2028.1h8.7v17.4h-8.7zM1645.5 2028.1h17.3v17.4h-17.3zM1714.8 2028.1h8.7v17.4h-8.7zM163.5 2045.5h26v17.4h-26zM206.9 2045.5h8.7v17.4h-8.7zM250.2 2045.5h17.3v17.4h-17.3zM293.5 2045.5h8.7v17.4h-8.7zM310.9 2045.5h8.7v17.4h-8.7zM345.5 2045.5h17.3v17.4h-17.3zM371.5 2045.5h17.3v17.4h-17.3zM397.5 2045.5h26v17.4h-26zM440.9 2045.5h34.7v17.4h-34.7zM501.5 2045.5h8.7v17.4h-8.7zM570.9 2045.5h8.7v17.4h-8.7zM605.5 2045.5h8.7v17.4h-8.7zM631.5 2045.5h8.7v17.4h-8.7zM648.9 2045.5h8.7v17.4h-8.7zM683.5 2045.5h8.7v17.4h-8.7zM761.5 2045.5h8.7v17.4h-8.7zM882.9 2045.5h8.7v17.4h-8.7zM934.9 2045.5h8.7v17.4h-8.7zM1151.5 2045.5h8.7v17.4h-8.7zM1246.8 2045.5h17.3v17.4h-17.3zM1290.2 2045.5h8.7v17.4h-8.7zM1316.2 2045.5h8.7v17.4h-8.7zM1350.8 2045.5h8.7v17.4h-8.7zM1368.2 2045.5h8.7v17.4h-8.7zM1394.2 2045.5h8.7v17.4h-8.7zM1411.5 2045.5h8.7v17.4h-8.7zM1454.8 2045.5h17.3v17.4h-17.3zM1723.5 2045.5h26v17.4h-26zM284.9 2062.9h8.7v17.4h-8.7zM631.5 2062.9h17.3v17.4h-17.3zM657.5 2062.9h8.7v17.4h-8.7zM683.5 2062.9h8.7v17.4h-8.7zM718.2 2062.9h8.7v17.4h-8.7zM735.5 2062.9h8.7v17.4h-8.7zM822.2 2062.9h8.7v17.4h-8.7zM848.2 2062.9h8.7v17.4h-8.7zM995.5 2062.9h17.3v17.4h-17.3zM1073.5 2062.9h8.7v17.4h-8.7zM1108.2 2062.9h8.7v17.4h-8.7zM1168.8 2062.9h8.7v17.4h-8.7zM1220.8 2062.9h8.7v17.4h-8.7zM1238.2 2062.9h8.7v17.4h-8.7zM1264.2 2062.9h17.3v17.4h-17.3zM1333.5 2062.9h8.7v17.4h-8.7zM1350.8 2062.9h8.7v17.4h-8.7zM1385.5 2062.9h17.3v17.4h-17.3zM1428.8 2062.9h8.7v17.4h-8.7zM1506.8 2062.9h8.7v17.4h-8.7zM1550.2 2062.9h8.7v17.4h-8.7zM1619.5 2062.9h8.7v17.4h-8.7zM709.5 2080.2h8.7v17.4h-8.7zM735.5 2080.2h17.3v17.4h-17.3zM778.9 2080.2h8.7v17.4h-8.7zM804.9 2080.2h17.3v17.4h-17.3zM839.5 2080.2h8.7v17.4h-8.7zM960.9 2080.2h8.7v17.4h-8.7zM1108.2 2080.2h8.7v17.4h-8.7zM1134.2 2080.2h8.7v17.4h-8.7zM1177.5 2080.2h8.7v17.4h-8.7zM1290.2 2080.2h17.3v17.4h-17.3zM1359.5 2080.2h8.7v17.4h-8.7zM1376.8 2080.2h34.7v17.4h-34.7zM1558.8 2080.2h8.7v17.4h-8.7zM1610.8 2080.2h8.7v17.4h-8.7zM1706.2 2080.2h8.7v17.4h-8.7z" fill="#fbfbfd"/>
<path d="M146.2 1958.7h60.7v17.4h-60.7zM215.5 1958.7h8.7v17.4h-8.7zM250.2 1958.7h17.3v17.4h-17.3zM328.2 1958.7h60.7v17.4h-60.7zM397.5 1958.7h8.7v17.4h-8.7zM510.2 1958.7h8.7v17.4h-8.7zM536.2 1958.7h8.7v17.4h-8.7zM588.2 1958.7h8.7v17.4h-8.7zM648.9 1958.7h8.7v17.4h-8.7zM666.2 1958.7h17.3v17.4h-17.3zM718.2 1958.7h8.7v17.4h-8.7zM761.5 1958.7h8.7v17.4h-8.7zM778.9 1958.7h8.7v17.4h-8.7zM796.2 1958.7h8.7v17.4h-8.7zM813.5 1958.7h8.7v17.4h-8.7zM848.2 1958.7h17.3v17.4h-17.3zM874.2 1958.7h17.3v17.4h-17.3zM900.2 1958.7h34.7v17.4h-34.7zM969.5 1958.7h8.7v17.4h-8.7zM986.9 1958.7h8.7v17.4h-8.7zM1004.2 1958.7h17.3v17.4h-17.3zM1038.8 1958.7h8.7v17.4h-8.7zM1082.2 1958.7h17.3v17.4h-17.3zM1229.5 1958.7h8.7v17.4h-8.7zM1272.8 1958.7h17.3v17.4h-17.3zM1316.2 1958.7h26v17.4h-26zM1359.5 1958.7h8.7v17.4h-8.7zM1394.2 1958.7h8.7v17.4h-8.7zM1420.2 1958.7h8.7v17.4h-8.7zM1662.8 1958.7h17.3v17.4h-17.3zM1749.5 1958.7h34.7v17.4h-34.7zM1810.2 1958.7h17.3v17.4h-17.3zM1844.8 1958.7h8.7v17.4h-8.7zM1896.8 1958.7h8.7v17.4h-8.7zM302.2 1976.1h26v17.4h-26zM371.5 1976.1h8.7v17.4h-8.7zM397.5 1976.1h8.7v17.4h-8.7zM423.5 1976.1h17.3v17.4h-17.3zM458.2 1976.1h8.7v17.4h-8.7zM588.2 1976.1h17.3v17.4h-17.3zM692.2 1976.1h8.7v17.4h-8.7zM718.2 1976.1h17.3v17.4h-17.3zM813.5 1976.1h8.7v17.4h-8.7zM839.5 1976.1h26v17.4h-26zM874.2 1976.1h8.7v17.4h-8.7zM891.5 1976.1h8.7v17.4h-8.7zM917.5 1976.1h8.7v17.4h-8.7zM995.5 1976.1h8.7v17.4h-8.7zM1073.5 1976.1h17.3v17.4h-17.3zM1125.5 1976.1h8.7v17.4h-8.7zM1220.8 1976.1h34.7v17.4h-34.7zM1272.8 1976.1h8.7v17.4h-8.7zM1333.5 1976.1h8.7v17.4h-8.7zM1359.5 1976.1h8.7v17.4h-8.7zM1489.5 1976.1h8.7v17.4h-8.7zM1584.8 1976.1h8.7v17.4h-8.7zM1602.2 1976.1h8.7v17.4h-8.7zM1636.8 1976.1h8.7v17.4h-8.7zM1654.2 1976.1h8.7v17.4h-8.7zM1671.5 1976.1h17.3v17.4h-17.3zM1697.5 1976.1h8.7v17.4h-8.7zM1810.2 1976.1h26v17.4h-26zM1844.8 1976.1h8.7v17.4h-8.7zM1862.2 1976.1h17.3v17.4h-17.3zM1914.2 1976.1h8.7v17.4h-8.7zM232.9 1993.4h8.7v17.4h-8.7zM310.9 1993.4h8.7v17.4h-8.7zM328.2 1993.4h8.7v17.4h-8.7zM406.2 1993.4h8.7v17.4h-8.7zM432.2 1993.4h8.7v17.4h-8.7zM588.2 1993.4h8.7v17.4h-8.7zM614.2 1993.4h17.3v17.4h-17.3zM796.2 1993.4h8.7v17.4h-8.7zM830.9 1993.4h34.7v17.4h-34.7zM960.9 1993.4h26v17.4h-26zM1004.2 1993.4h17.3v17.4h-17.3zM1082.2 1993.4h17.3v17.4h-17.3zM1108.2 1993.4h8.7v17.4h-8.7zM1125.5 1993.4h8.7v17.4h-8.7zM1160.2 1993.4h8.7v17.4h-8.7zM1177.5 1993.4h17.3v17.4h-17.3zM1203.5 1993.4h8.7v17.4h-8.7zM1342.2 1993.4h8.7v17.4h-8.7zM1376.8 1993.4h8.7v17.4h-8.7zM1437.5 1993.4h8.7v17.4h-8.7zM1541.5 1993.4h8.7v17.4h-8.7zM1576.2 1993.4h8.7v17.4h-8.7zM1654.2 1993.4h8.7v17.4h-8.7zM1697.5 1993.4h26v17.4h-26zM1836.2 1993.4h17.3v17.4h-17.3zM1914.2 1993.4h8.7v17.4h-8.7zM154.9 2010.8h52v17.4h-52zM224.2 2010.8h60.7v17.4h-60.7zM293.5 2010.8h8.7v17.4h-8.7zM328.2 2010.8h60.7v17.4h-60.7zM406.2 2010.8h8.7v17.4h-8.7zM423.5 2010.8h8.7v17.4h-8.7zM466.9 2010.8h8.7v17.4h-8.7zM484.2 2010.8h8.7v17.4h-8.7zM501.5 2010.8h8.7v17.4h-8.7zM518.9 2010.8h8.7v17.4h-8.7zM536.2 2010.8h34.7v17.4h-34.7zM579.5 2010.8h8.7v17.4h-8.7zM596.9 2010.8h52v17.4h-52zM692.2 2010.8h17.3v17.4h-17.3zM735.5 2010.8h8.7v17.4h-8.7zM796.2 2010.8h17.3v17.4h-17.3zM822.2 2010.8h17.3v17.4h-17.3zM848.2 2010.8h17.3v17.4h-17.3zM900.2 2010.8h26v17.4h-26zM934.9 2010.8h8.7v17.4h-8.7zM969.5 2010.8h17.3v17.4h-17.3zM995.5 2010.8h8.7v17.4h-8.7zM1012.8 2010.8h17.3v17.4h-17.3zM1073.5 2010.8h8.7v17.4h-8.7zM1099.5 2010.8h17.3v17.4h-17.3zM1168.8 2010.8h8.7v17.4h-8.7zM1194.8 2010.8h26v17.4h-26zM1255.5 2010.8h17.3v17.4h-17.3zM1324.8 2010.8h17.3v17.4h-17.3zM1350.8 2010.8h78v17.4h-78zM1480.8 2010.8h8.7v17.4h-8.7zM1498.2 2010.8h17.3v17.4h-17.3zM1541.5 2010.8h8.7v17.4h-8.7zM1567.5 2010.8h8.7v17.4h-8.7zM1636.8 2010.8h8.7v17.4h-8.7zM1697.5 2010.8h8.7v17.4h-8.7zM1827.5 2010.8h8.7v17.4h-8.7zM1862.2 2010.8h17.3v17.4h-17.3zM1888.2 2010.8h8.7v17.4h-8.7zM163.5 2028.1h8.7v17.4h-8.7zM475.5 2028.1h8.7v17.4h-8.7zM527.5 2028.1h8.7v17.4h-8.7zM622.9 2028.1h17.3v17.4h-17.3zM726.9 2028.1h43.3v17.4h-43.3zM822.2 2028.1h26v17.4h-26zM856.9 2028.1h8.7v17.4h-8.7zM882.9 2028.1h43.3v17.4h-43.3zM943.5 2028.1h8.7v17.4h-8.7zM978.2 2028.1h8.7v17.4h-8.7zM1021.5 2028.1h8.7v17.4h-8.7zM1082.2 2028.1h8.7v17.4h-8.7zM1099.5 2028.1h17.3v17.4h-17.3zM1177.5 2028.1h8.7v17.4h-8.7zM1212.2 2028.1h8.7v17.4h-8.7zM1229.5 2028.1h8.7v17.4h-8.7zM1290.2 2028.1h17.3v17.4h-17.3zM1350.8 2028.1h8.7v17.4h-8.7zM1368.2 2028.1h8.7v17.4h-8.7zM1402.8 2028.1h17.3v17.4h-17.3zM1428.8 2028.1h8.7v17.4h-8.7zM1446.2 2028.1h17.3v17.4h-17.3zM1489.5 2028.1h17.3v17.4h-17.3zM1524.2 2028.1h8.7v17.4h-8.7zM1550.2 2028.1h8.7v17.4h-8.7zM1662.8 2028.1h34.7v17.4h-34.7zM1706.2 2028.1h8.7v17.4h-8.7zM1775.5 2028.1h17.3v17.4h-17.3zM1810.2 2028.1h17.3v17.4h-17.3zM1844.8 2028.1h8.7v17.4h-8.7zM154.9 2045.5h8.7v17.4h-8.7zM189.5 2045.5h17.3v17.4h-17.3zM215.5 2045.5h17.3v17.4h-17.3zM302.2 2045.5h8.7v17.4h-8.7zM319.5 2045.5h8.7v17.4h-8.7zM388.9 2045.5h8.7v17.4h-8.7zM423.5 2045.5h8.7v17.4h-8.7zM562.2 2045.5h8.7v17.4h-8.7zM579.5 2045.5h8.7v17.4h-8.7zM622.9 2045.5h8.7v17.4h-8.7zM692.2 2045.5h26v17.4h-26zM752.9 2045.5h8.7v17.4h-8.7zM770.2 2045.5h26v17.4h-26zM978.2 2045.5h43.3v17.4h-43.3zM1056.2 2045.5h8.7v17.4h-8.7zM1073.5 2045.5h8.7v17.4h-8.7zM1116.8 2045.5h26v17.4h-26zM1160.2 2045.5h8.7v17.4h-8.7zM1177.5 2045.5h69.3v17.4h-69.3zM1324.8 2045.5h26v17.4h-26zM1402.8 2045.5h8.7v17.4h-8.7zM1437.5 2045.5h17.3v17.4h-17.3zM1480.8 2045.5h8.7v17.4h-8.7zM1498.2 2045.5h17.3v17.4h-17.3zM1810.2 2045.5h8.7v17.4h-8.7zM1905.5 2045.5h8.7v17.4h-8.7zM224.2 2062.9h8.7v17.4h-8.7zM293.5 2062.9h8.7v17.4h-8.7zM310.9 2062.9h34.7v17.4h-34.7zM362.9 2062.9h43.3v17.4h-43.3zM466.9 2062.9h17.3v17.4h-17.3zM518.9 2062.9h8.7v17.4h-8.7zM614.2 2062.9h8.7v17.4h-8.7zM648.9 2062.9h8.7v17.4h-8.7zM666.2 2062.9h17.3v17.4h-17.3zM692.2 2062.9h26v17.4h-26zM726.9 2062.9h8.7v17.4h-8.7zM744.2 2062.9h8.7v17.4h-8.7zM761.5 2062.9h34.7v17.4h-34.7zM804.9 2062.9h8.7v17.4h-8.7zM1030.2 2062.9h8.7v17.4h-8.7zM1125.5 2062.9h17.3v17.4h-17.3zM1177.5 2062.9h26v17.4h-26zM1212.2 2062.9h8.7v17.4h-8.7zM1229.5 2062.9h8.7v17.4h-8.7zM1281.5 2062.9h43.3v17.4h-43.3zM1376.8 2062.9h8.7v17.4h-8.7zM1402.8 2062.9h17.3v17.4h-17.3zM1437.5 2062.9h69.3v17.4h-69.3zM1524.2 2062.9h8.7v17.4h-8.7zM1862.2 2062.9h17.3v17.4h-17.3zM172.2 2080.2h8.7v17.4h-8.7zM206.9 2080.2h26v17.4h-26zM284.9 2080.2h8.7v17.4h-8.7zM302.2 2080.2h17.3v17.4h-17.3zM328.2 2080.2h52v17.4h-52zM388.9 2080.2h8.7v17.4h-8.7zM414.9 2080.2h8.7v17.4h-8.7zM432.2 2080.2h86.7v17.4h-86.7zM614.2 2080.2h17.3v17.4h-17.3zM640.2 2080.2h69.3v17.4h-69.3zM752.9 2080.2h8.7v17.4h-8.7zM787.5 2080.2h8.7v17.4h-8.7zM848.2 2080.2h17.3v17.4h-17.3zM1099.5 2080.2h8.7v17.4h-8.7zM1116.8 2080.2h8.7v17.4h-8.7zM1142.8 2080.2h34.7v17.4h-34.7zM1186.2 2080.2h8.7v17.4h-8.7zM1203.5 2080.2h17.3v17.4h-17.3zM1307.5 2080.2h52v17.4h-52zM1411.5 2080.2h8.7v17.4h-8.7zM1541.5 2080.2h8.7v17.4h-8.7zM1896.8 2080.2h8.7v17.4h-8.7z" fill="#f0d9da"/>
<path d="M206.9 1958.7h8.7v17.4h-8.7zM224.2 1958.7h8.7v17.4h-8.7zM241.5 1958.7h8.7v17.4h-8.7zM267.5 1958.7h17.3v17.4h-17.3zM614.2 1958.7h34.7v17.4h-34.7zM657.5 1958.7h8.7v17.4h-8.7zM683.5 1958.7h34.7v17.4h-34.7zM726.9 1958.7h34.7v17.4h-34.7zM770.2 1958.7h8.7v17.4h-8.7zM787.5 1958.7h8.7v17.4h-8.7zM804.9 1958.7h8.7v17.4h-8.7zM865.5 1958.7h8.7v17.4h-8.7zM891.5 1958.7h8.7v17.4h-8.7zM934.9 1958.7h34.7v17.4h-34.7zM995.5 1958.7h8.7v17.4h-8.7zM1220.8 1958.7h8.7v17.4h-8.7zM1792.8 1958.7h8.7v17.4h-8.7zM284.9 1976.1h17.3v17.4h-17.3zM362.9 1976.1h8.7v17.4h-8.7zM380.2 1976.1h8.7v17.4h-8.7zM319.5 1993.4h8.7v17.4h-8.7zM1116.8 1993.4h8.7v17.4h-8.7zM1584.8 1993.4h8.7v17.4h-8.7zM1853.5 1993.4h26v17.4h-26zM302.2 2010.8h26v17.4h-26zM986.9 2010.8h8.7v17.4h-8.7zM1558.8 2010.8h8.7v17.4h-8.7zM709.5 2028.1h8.7v17.4h-8.7zM1090.8 2028.1h8.7v17.4h-8.7zM1168.8 2028.1h8.7v17.4h-8.7zM1420.2 2028.1h8.7v17.4h-8.7zM1723.5 2028.1h17.3v17.4h-17.3zM1758.2 2028.1h17.3v17.4h-17.3zM1827.5 2028.1h8.7v17.4h-8.7zM146.2 2045.5h8.7v17.4h-8.7zM1021.5 2045.5h34.7v17.4h-34.7zM1090.8 2045.5h8.7v17.4h-8.7zM163.5 2062.9h60.7v17.4h-60.7zM241.5 2062.9h8.7v17.4h-8.7zM258.9 2062.9h26v17.4h-26zM345.5 2062.9h17.3v17.4h-17.3zM406.2 2062.9h60.7v17.4h-60.7zM484.2 2062.9h34.7v17.4h-34.7zM553.5 2062.9h8.7v17.4h-8.7zM752.9 2062.9h8.7v17.4h-8.7zM1021.5 2062.9h8.7v17.4h-8.7zM1142.8 2062.9h26v17.4h-26zM1203.5 2062.9h8.7v17.4h-8.7zM1420.2 2062.9h8.7v17.4h-8.7zM1853.5 2062.9h8.7v17.4h-8.7zM154.9 2080.2h17.3v17.4h-17.3zM180.9 2080.2h26v17.4h-26zM232.9 2080.2h8.7v17.4h-8.7zM250.2 2080.2h34.7v17.4h-34.7zM293.5 2080.2h8.7v17.4h-8.7zM319.5 2080.2h8.7v17.4h-8.7zM380.2 2080.2h8.7v17.4h-8.7zM397.5 2080.2h17.3v17.4h-17.3zM423.5 2080.2h8.7v17.4h-8.7zM518.9 2080.2h17.3v17.4h-17.3zM544.9 2080.2h69.3v17.4h-69.3zM631.5 2080.2h8.7v17.4h-8.7zM1082.2 2080.2h17.3v17.4h-17.3zM1194.8 2080.2h8.7v17.4h-8.7z" fill="#dba5a8"/>
<path d="M232.9 1958.7h8.7v17.4h-8.7zM518.9 1976.1h8.7v17.4h-8.7zM796.2 1976.1h8.7v17.4h-8.7zM1896.8 1976.1h8.7v17.4h-8.7zM146.2 1993.4h8.7v17.4h-8.7zM1593.5 1993.4h8.7v17.4h-8.7zM1905.5 1993.4h8.7v17.4h-8.7zM1532.8 2028.1h8.7v17.4h-8.7zM1740.8 2028.1h8.7v17.4h-8.7zM1792.8 2028.1h8.7v17.4h-8.7zM1064.8 2045.5h8.7v17.4h-8.7zM1099.5 2045.5h8.7v17.4h-8.7zM1888.2 2045.5h8.7v17.4h-8.7zM154.9 2062.9h8.7v17.4h-8.7zM232.9 2062.9h8.7v17.4h-8.7zM250.2 2062.9h8.7v17.4h-8.7zM527.5 2062.9h8.7v17.4h-8.7zM544.9 2062.9h8.7v17.4h-8.7zM562.2 2062.9h17.3v17.4h-17.3zM588.2 2062.9h26v17.4h-26zM1532.8 2062.9h8.7v17.4h-8.7zM1879.5 2062.9h8.7v17.4h-8.7zM241.5 2080.2h8.7v17.4h-8.7zM1550.2 2080.2h8.7v17.4h-8.7zM1879.5 2080.2h8.7v17.4h-8.7z" fill="#c5585e"/>
<path d="M1888.2 1958.7h8.7v17.4h-8.7zM527.5 1976.1h8.7v17.4h-8.7zM1879.5 1976.1h8.7v17.4h-8.7zM146.2 2010.8h8.7v17.4h-8.7zM1082.2 2045.5h8.7v17.4h-8.7zM1108.2 2045.5h8.7v17.4h-8.7zM536.2 2062.9h8.7v17.4h-8.7zM579.5 2062.9h8.7v17.4h-8.7zM1515.5 2062.9h8.7v17.4h-8.7zM146.2 2080.2h8.7v17.4h-8.7zM536.2 2080.2h8.7v17.4h-8.7z" fill="#a21a24"/>
<path d="M146.2 1958.7v138.9M154.9 1958.7v138.9M163.5 1958.7v138.9M172.2 1958.7v138.9M180.9 1958.7v138.9M189.5 1958.7v138.9M198.2 1958.7v138.9M206.9 1958.7v138.9M215.5 1958.7v138.9M224.2 1958.7v138.9M232.9 1958.7v138.9M241.5 1958.7v138.9M250.2 1958.7v138.9M258.9 1958.7v138.9M267.5 1958.7v138.9M276.2 1958.7v138.9M284.9 1958.7v138.9M293.5 1958.7v138.9M302.2 1958.7v138.9M310.9 1958.7v138.9M319.5 1958.7v138.9M328.2 1958.7v138.9M336.9 1958.7v138.9M345.5 1958.7v138.9M354.2 1958.7v138.9M362.9 1958.7v138.9M371.5 1958.7v138.9M380.2 1958.7v138.9M388.9 1958.7v138.9M397.5 1958.7v138.9M406.2 1958.7v138.9M414.9 1958.7v138.9M423.5 1958.7v138.9M432.2 1958.7v138.9M440.9 1958.7v138.9M449.5 1958.7v138.9M458.2 1958.7v138.9M466.9 1958.7v138.9M475.5 1958.7v138.9M484.2 1958.7v138.9M492.9 1958.7v138.9M501.5 1958.7v138.9M510.2 1958.7v138.9M518.9 1958.7v138.9M527.5 1958.7v138.9M536.2 1958.7v138.9M544.9 1958.7v138.9M553.5 1958.7v138.9M562.2 1958.7v138.9M570.9 1958.7v138.9M579.5 1958.7v138.9M588.2 1958.7v138.9M596.9 1958.7v138.9M605.5 1958.7v138.9M614.2 1958.7v138.9M622.9 1958.7v138.9M631.5 1958.7v138.9M640.2 1958.7v138.9M648.9 1958.7v138.9M657.5 1958.7v138.9M666.2 1958.7v138.9M674.9 1958.7v138.9M683.5 1958.7v138.9M692.2 1958.7v138.9M700.9 1958.7v138.9M709.5 1958.7v138.9M718.2 1958.7v138.9M726.9 1958.7v138.9M735.5 1958.7v138.9M744.2 1958.7v138.9M752.9 1958.7v138.9M761.5 1958.7v138.9M770.2 1958.7v138.9M778.9 1958.7v138.9M787.5 1958.7v138.9M796.2 1958.7v138.9M804.9 1958.7v138.9M813.5 1958.7v138.9M822.2 1958.7v138.9M830.9 1958.7v138.9M839.5 1958.7v138.9M848.2 1958.7v138.9M856.9 1958.7v138.9M865.5 1958.7v138.9M874.2 1958.7v138.9M882.9 1958.7v138.9M891.5 1958.7v138.9M900.2 1958.7v138.9M908.9 1958.7v138.9M917.5 1958.7v138.9M926.2 1958.7v138.9M934.9 1958.7v138.9M943.5 1958.7v138.9M952.2 1958.7v138.9M960.9 1958.7v138.9M969.5 1958.7v138.9M978.2 1958.7v138.9M986.9 1958.7v138.9M995.5 1958.7v138.9M1004.2 1958.7v138.9M1012.8 1958.7v138.9M1021.5 1958.7v138.9M1030.2 1958.7v138.9M1038.8 1958.7v138.9M1047.5 1958.7v138.9M1056.2 1958.7v138.9M1064.8 1958.7v138.9M1073.5 1958.7v138.9M1082.2 1958.7v138.9M1090.8 1958.7v138.9M1099.5 1958.7v138.9M1108.2 1958.7v138.9M1116.8 1958.7v138.9M1125.5 1958.7v138.9M1134.2 1958.7v138.9M1142.8 1958.7v138.9M1151.5 1958.7v138.9M1160.2 1958.7v138.9M1168.8 1958.7v138.9M1177.5 1958.7v138.9M1186.2 1958.7v138.9M1194.8 1958.7v138.9M1203.5 1958.7v138.9M1212.2 1958.7v138.9M1220.8 1958.7v138.9M1229.5 1958.7v138.9M1238.2 1958.7v138.9M1246.8 1958.7v138.9M1255.5 1958.7v138.9M1264.2 1958.7v138.9M1272.8 1958.7v138.9M1281.5 1958.7v138.9M1290.2 1958.7v138.9M1298.8 1958.7v138.9M1307.5 1958.7v138.9M1316.2 1958.7v138.9M1324.8 1958.7v138.9M1333.5 1958.7v138.9M1342.2 1958.7v138.9M1350.8 1958.7v138.9M1359.5 1958.7v138.9M1368.2 1958.7v138.9M1376.8 1958.7v138.9M1385.5 1958.7v138.9M1394.2 1958.7v138.9M1402.8 1958.7v138.9M1411.5 1958.7v138.9M1420.2 1958.7v138.9M1428.8 1958.7v138.9M1437.5 1958.7v138.9M1446.2 1958.7v138.9M1454.8 1958.7v138.9M1463.5 1958.7v138.9M1472.2 1958.7v138.9M1480.8 1958.7v138.9M1489.5 1958.7v138.9M1498.2 1958.7v138.9M1506.8 1958.7v138.9M1515.5 1958.7v138.9M1524.2 1958.7v138.9M1532.8 1958.7v138.9M1541.5 1958.7v138.9M1550.2 1958.7v138.9M1558.8 1958.7v138.9M1567.5 1958.7v138.9M1576.2 1958.7v138.9M1584.8 1958.7v138.9M1593.5 1958.7v138.9M1602.2 1958.7v138.9M1610.8 1958.7v138.9M1619.5 1958.7v138.9M1628.2 1958.7v138.9M1636.8 1958.7v138.9M1645.5 1958.7v138.9M1654.2 1958.7v138.9M1662.8 1958.7v138.9M1671.5 1958.7v138.9M1680.2 1958.7v138.9M1688.8 1958.7v138.9M1697.5 1958.7v138.9M1706.2 1958.7v138.9M1714.8 1958.7v138.9M1723.5 1958.7v138.9M1732.2 1958.7v138.9M1740.8 1958.7v138.9M1749.5 1958.7v138.9M1758.2 1958.7v138.9M1766.8 1958.7v138.9M1775.5 1958.7v138.9M1784.2 1958.7v138.9M1792.8 1958.7v138.9M1801.5 1958.7v138.9M1810.2 1958.7v138.9M1818.8 1958.7v138.9M1827.5 1958.7v138.9M1836.2 1958.7v138.9M1844.8 1958.7v138.9M1853.5 1958.7v138.9M1862.2 1958.7v138.9M1870.8 1958.7v138.9M1879.5 1958.7v138.9M1888.2 1958.7v138.9M1896.8 1958.7v138.9M1905.5 1958.7v138.9M1914.2 1958.7v138.9M1922.8 1958.7v138.9M146.2 1958.7h1776.6M146.2 1976.1h1776.6M146.2 1993.4h1776.6M146.2 2010.8h1776.6M146.2 2028.1h1776.6M146.2 2045.5h1776.6M146.2 2062.9h1776.6M146.2 2080.2h1776.6M146.2 2097.6h1776.6" stroke="#9c9c9c" stroke-width="1" fill="none"/>
<g font-size="9.45" fill="#000" stroke="#000" stroke-width="0.3"><text transform="translate(153.8 1956.6) rotate(-90)">MAP2K6</text><text transform="translate(162.5 1956.6) rotate(-90)">NDC1</text><text transform="translate(171.2 1956.6) rotate(-90)">NUP160</text><text transform="translate(179.8 1956.6) rotate(-90)">SEH1L</text><text transform="translate(188.5 1956.6) rotate(-90)">NUP155</text><text transform="translate(197.2 1956.6) rotate(-90)">NUP43</text><text transform="translate(205.8 1956.6) rotate(-90)">NUP205</text><text transform="translate(214.5 1956.6) rotate(-90)">NUP35</text><text transform="translate(223.2 1956.6) rotate(-90)">NUP50</text><text transform="translate(231.8 1956.6) rotate(-90)">NPM1</text><text transform="translate(240.5 1956.6) rotate(-90)">FANCC</text><text transform="translate(249.2 1956.6) rotate(-90)">FANCM</text><text transform="translate(257.8 1956.6) rotate(-90)">NUP107</text><text transform="translate(266.5 1956.6) rotate(-90)">NUP37</text><text transform="translate(275.2 1956.6) rotate(-90)">FANCL</text><text transform="translate(283.8 1956.6) rotate(-90)">NUP54</text><text transform="translate(292.5 1956.6) rotate(-90)">TUBB2A</text><text transform="translate(301.2 1956.6) rotate(-90)">TUBA1A</text><text transform="translate(309.8 1956.6) rotate(-90)">TUBB3</text><text transform="translate(318.5 1956.6) rotate(-90)">PLCG1</text><text transform="translate(327.2 1956.6) rotate(-90)">TRIM45</text><text transform="translate(335.8 1956.6) rotate(-90)">PPM1B</text><text transform="translate(344.5 1956.6) rotate(-90)">NUP133</text><text transform="translate(353.2 1956.6) rotate(-90)">KPNB1</text><text transform="translate(361.8 1956.6) rotate(-90)">DHX9</text><text transform="translate(370.5 1956.6) rotate(-90)">CAMK2D</text><text transform="translate(379.2 1956.6) rotate(-90)">EIF4G2</text><text transform="translate(387.8 1956.6) rotate(-90)">PRKRA</text><text transform="translate(396.5 1956.6) rotate(-90)">EIF4A3</text><text transform="translate(405.2 1956.6) rotate(-90)">UBE2N</text><text transform="translate(413.8 1956.6) rotate(-90)">ILF3</text><text transform="translate(422.5 1956.6) rotate(-90)">NUP85</text><text transform="translate(431.2 1956.6) rotate(-90)">ILF2</text><text transform="translate(439.8 1956.6) rotate(-90)">FAAP24</text><text transform="translate(448.5 1956.6) rotate(-90)">NUP93</text><text transform="translate(457.2 1956.6) rotate(-90)">NUP62</text><text transform="translate(465.8 1956.6) rotate(-90)">RAE1</text><text transform="translate(474.5 1956.6) rotate(-90)">UBE2I</text><text transform="translate(483.2 1956.6) rotate(-90)">NUP214</text><text transform="translate(491.8 1956.6) rotate(-90)">RAF1</text><text transform="translate(500.5 1956.6) rotate(-90)">NUP188</text><text transform="translate(509.2 1956.6) rotate(-90)">NUP88</text><text transform="translate(517.8 1956.6) rotate(-90)">NUP153</text><text transform="translate(526.5 1956.6) rotate(-90)">TUBB2B</text><text transform="translate(535.2 1956.6) rotate(-90)">USP18</text><text transform="translate(543.8 1956.6) rotate(-90)">CDK1</text><text transform="translate(552.5 1956.6) rotate(-90)">TUBA1C</text><text transform="translate(561.2 1956.6) rotate(-90)">TUBB4B</text><text transform="translate(569.8 1956.6) rotate(-90)">FANCE</text><text transform="translate(578.5 1956.6) rotate(-90)">FANCA</text><text transform="translate(587.2 1956.6) rotate(-90)">FANCG</text><text transform="translate(595.8 1956.6) rotate(-90)">FANCB</text><text transform="translate(604.5 1956.6) rotate(-90)">TUBA1B</text><text transform="translate(613.2 1956.6) rotate(-90)">KPNA2</text><text transform="translate(621.8 1956.6) rotate(-90)">TPR</text><text transform="translate(630.5 1956.6) rotate(-90)">RANBP2</text><text transform="translate(639.2 1956.6) rotate(-90)">KPNA5</text><text transform="translate(647.8 1956.6) rotate(-90)">KPNA3</text><text transform="translate(656.5 1956.6) rotate(-90)">CHUK</text><text transform="translate(665.2 1956.6) rotate(-90)">SUMO1</text><text transform="translate(673.8 1956.6) rotate(-90)">PPP2CA</text><text transform="translate(682.5 1956.6) rotate(-90)">NUP58</text><text transform="translate(691.2 1956.6) rotate(-90)">PPP2R5A</text><text transform="translate(699.8 1956.6) rotate(-90)">SAMHD1</text><text transform="translate(708.5 1956.6) rotate(-90)">PTPN2</text><text transform="translate(717.2 1956.6) rotate(-90)">JAK2</text><text transform="translate(725.8 1956.6) rotate(-90)">MAPK1</text><text transform="translate(734.5 1956.6) rotate(-90)">EIF2S2</text><text transform="translate(743.2 1956.6) rotate(-90)">EIF2AK2</text><text transform="translate(751.8 1956.6) rotate(-90)">KPNA1</text><text transform="translate(760.5 1956.6) rotate(-90)">ABCE1</text><text transform="translate(769.2 1956.6) rotate(-90)">EIF2S1</text><text transform="translate(777.8 1956.6) rotate(-90)">KPNA4</text><text transform="translate(786.5 1956.6) rotate(-90)">YBX1</text><text transform="translate(795.2 1956.6) rotate(-90)">EIF4E</text><text transform="translate(803.8 1956.6) rotate(-90)">EIF4E3</text><text transform="translate(812.5 1956.6) rotate(-90)">JAK1</text><text transform="translate(821.2 1956.6) rotate(-90)">IRF2</text><text transform="translate(829.8 1956.6) rotate(-90)">IKBKB</text><text transform="translate(838.5 1956.6) rotate(-90)">CAMK2G</text><text transform="translate(847.2 1956.6) rotate(-90)">STAT3</text><text transform="translate(855.8 1956.6) rotate(-90)">PIAS1</text><text transform="translate(864.5 1956.6) rotate(-90)">IFNAR2</text><text transform="translate(873.2 1956.6) rotate(-90)">NCK1</text><text transform="translate(881.8 1956.6) rotate(-90)">UBE2E1</text><text transform="translate(890.5 1956.6) rotate(-90)">CD44</text><text transform="translate(899.2 1956.6) rotate(-90)">IFNGR1</text><text transform="translate(907.8 1956.6) rotate(-90)">EIF4G3</text><text transform="translate(916.5 1956.6) rotate(-90)">ARIH1</text><text transform="translate(925.2 1956.6) rotate(-90)">IFNGR2</text><text transform="translate(933.8 1956.6) rotate(-90)">STAT1</text><text transform="translate(942.5 1956.6) rotate(-90)">DNAJC3</text><text transform="translate(951.2 1956.6) rotate(-90)">IFNAR1</text><text transform="translate(959.8 1956.6) rotate(-90)">PTPN11</text><text transform="translate(968.5 1956.6) rotate(-90)">NEDD4</text><text transform="translate(977.2 1956.6) rotate(-90)">TRIM2</text><text transform="translate(985.8 1956.6) rotate(-90)">TRIM68</text><text transform="translate(994.5 1956.6) rotate(-90)">PDE12</text><text transform="translate(1003.2 1956.6) rotate(-90)">RPS27A</text><text transform="translate(1011.8 1956.6) rotate(-90)">MID1</text><text transform="translate(1020.5 1956.6) rotate(-90)">EIF4A2</text><text transform="translate(1029.1 1956.6) rotate(-90)">IFITM1</text><text transform="translate(1037.8 1956.6) rotate(-90)">ISG15</text><text transform="translate(1046.5 1956.6) rotate(-90)">HLA-DPB1</text><text transform="translate(1055.1 1956.6) rotate(-90)">TRIM14</text><text transform="translate(1063.8 1956.6) rotate(-90)">TRIM21</text><text transform="translate(1072.5 1956.6) rotate(-90)">CIITA</text><text transform="translate(1081.1 1956.6) rotate(-90)">IRF7</text><text transform="translate(1089.8 1956.6) rotate(-90)">EGR1</text><text transform="translate(1098.5 1956.6) rotate(-90)">MAPT</text><text transform="translate(1107.1 1956.6) rotate(-90)">TRIM62</text><text transform="translate(1115.8 1956.6) rotate(-90)">TRIM46</text><text transform="translate(1124.5 1956.6) rotate(-90)">SOCS3</text><text transform="translate(1133.1 1956.6) rotate(-90)">FAAP20</text><text transform="translate(1141.8 1956.6) rotate(-90)">FAAP100</text><text transform="translate(1150.5 1956.6) rotate(-90)">TUBB6</text><text transform="translate(1159.1 1956.6) rotate(-90)">PIN1</text><text transform="translate(1167.8 1956.6) rotate(-90)">TARBP2</text><text transform="translate(1176.5 1956.6) rotate(-90)">IFITM2</text><text transform="translate(1185.1 1956.6) rotate(-90)">TYK2</text><text transform="translate(1193.8 1956.6) rotate(-90)">IRF3</text><text transform="translate(1202.5 1956.6) rotate(-90)">SEC13</text><text transform="translate(1211.1 1956.6) rotate(-90)">AAAS</text><text transform="translate(1219.8 1956.6) rotate(-90)">FLNA</text><text transform="translate(1228.5 1956.6) rotate(-90)">HSPA8</text><text transform="translate(1237.1 1956.6) rotate(-90)">HSPA1L</text><text transform="translate(1245.8 1956.6) rotate(-90)">UBA52</text><text transform="translate(1254.5 1956.6) rotate(-90)">UBC</text><text transform="translate(1263.1 1956.6) rotate(-90)">IRF9</text><text transform="translate(1271.8 1956.6) rotate(-90)">TRIM25</text><text transform="translate(1280.5 1956.6) rotate(-90)">PPP2CB</text><text transform="translate(1289.1 1956.6) rotate(-90)">IFIT5</text><text transform="translate(1297.8 1956.6) rotate(-90)">POM121</text><text transform="translate(1306.5 1956.6) rotate(-90)">POM121C</text><text transform="translate(1315.1 1956.6) rotate(-90)">NUP98</text><text transform="translate(1323.8 1956.6) rotate(-90)">NUP42</text><text transform="translate(1332.5 1956.6) rotate(-90)">EIF2S3</text><text transform="translate(1341.1 1956.6) rotate(-90)">FANCF</text><text transform="translate(1349.8 1956.6) rotate(-90)">IP6K2</text><text transform="translate(1358.5 1956.6) rotate(-90)">EIF4E2</text><text transform="translate(1367.1 1956.6) rotate(-90)">BECN1</text><text transform="translate(1375.8 1956.6) rotate(-90)">ADAR</text><text transform="translate(1384.5 1956.6) rotate(-90)">MAVS</text><text transform="translate(1393.1 1956.6) rotate(-90)">TRIM5</text><text transform="translate(1401.8 1956.6) rotate(-90)">PPP2R1B</text><text transform="translate(1410.5 1956.6) rotate(-90)">EIF4A1</text><text transform="translate(1419.1 1956.6) rotate(-90)">DUS2</text><text transform="translate(1427.8 1956.6) rotate(-90)">HSPA1A</text><text transform="translate(1436.5 1956.6) rotate(-90)">TRIM35</text><text transform="translate(1445.1 1956.6) rotate(-90)">MAPK3</text><text transform="translate(1453.8 1956.6) rotate(-90)">TRIM3</text><text transform="translate(1462.5 1956.6) rotate(-90)">EIF4G1</text><text transform="translate(1471.1 1956.6) rotate(-90)">TRIM26</text><text transform="translate(1479.8 1956.6) rotate(-90)">IKBKG</text><text transform="translate(1488.5 1956.6) rotate(-90)">HSPA1B</text><text transform="translate(1497.1 1956.6) rotate(-90)">PPP2R1A</text><text transform="translate(1505.8 1956.6) rotate(-90)">TP53</text><text transform="translate(1514.5 1956.6) rotate(-90)">UBB</text><text transform="translate(1523.1 1956.6) rotate(-90)">OAS3</text><text transform="translate(1531.8 1956.6) rotate(-90)">MT2A</text><text transform="translate(1540.5 1956.6) rotate(-90)">SPHK1</text><text transform="translate(1549.1 1956.6) rotate(-90)">GBP2</text><text transform="translate(1557.8 1956.6) rotate(-90)">TRIM6</text><text transform="translate(1566.5 1956.6) rotate(-90)">RNASEL</text><text transform="translate(1575.1 1956.6) rotate(-90)">TRIM34</text><text transform="translate(1583.8 1956.6) rotate(-90)">HLA-F</text><text transform="translate(1592.5 1956.6) rotate(-90)">SNCA</text><text transform="translate(1601.1 1956.6) rotate(-90)">SOCS1</text><text transform="translate(1609.8 1956.6) rotate(-90)">TUBA4A</text><text transform="translate(1618.5 1956.6) rotate(-90)">UBA7</text><text transform="translate(1627.1 1956.6) rotate(-90)">IFI35</text><text transform="translate(1635.8 1956.6) rotate(-90)">PSMB8</text><text transform="translate(1644.5 1956.6) rotate(-90)">HLA-A</text><text transform="translate(1653.1 1956.6) rotate(-90)">HLA-C</text><text transform="translate(1661.8 1956.6) rotate(-90)">HLA-B</text><text transform="translate(1670.5 1956.6) rotate(-90)">TRIM38</text><text transform="translate(1679.1 1956.6) rotate(-90)">B2M</text><text transform="translate(1687.8 1956.6) rotate(-90)">UBE2L6</text><text transform="translate(1696.5 1956.6) rotate(-90)">HLA-E</text><text transform="translate(1705.1 1956.6) rotate(-90)">FLNB</text><text transform="translate(1713.8 1956.6) rotate(-90)">TRIM8</text><text transform="translate(1722.5 1956.6) rotate(-90)">STAT2</text><text transform="translate(1731.1 1956.6) rotate(-90)">PTPN1</text><text transform="translate(1739.8 1956.6) rotate(-90)">PML</text><text transform="translate(1748.5 1956.6) rotate(-90)">IFITM3</text><text transform="translate(1757.1 1956.6) rotate(-90)">PRKCD</text><text transform="translate(1765.8 1956.6) rotate(-90)">SP100</text><text transform="translate(1774.5 1956.6) rotate(-90)">RIGI</text><text transform="translate(1783.1 1956.6) rotate(-90)">GBP3</text><text transform="translate(1791.8 1956.6) rotate(-90)">IRF1</text><text transform="translate(1800.5 1956.6) rotate(-90)">HLA-DPA1</text><text transform="translate(1809.1 1956.6) rotate(-90)">GBP1</text><text transform="translate(1817.8 1956.6) rotate(-90)">SMAD7</text><text transform="translate(1826.5 1956.6) rotate(-90)">TRIM22</text><text transform="translate(1835.1 1956.6) rotate(-90)">ICAM1</text><text transform="translate(1843.8 1956.6) rotate(-90)">IFIT3</text><text transform="translate(1852.5 1956.6) rotate(-90)">IFIT2</text><text transform="translate(1861.1 1956.6) rotate(-90)">IFI6</text><text transform="translate(1869.8 1956.6) rotate(-90)">MX1</text><text transform="translate(1878.5 1956.6) rotate(-90)">IFIT1</text><text transform="translate(1887.1 1956.6) rotate(-90)">NUP210</text><text transform="translate(1895.8 1956.6) rotate(-90)">VCAM1</text><text transform="translate(1904.5 1956.6) rotate(-90)">NCAM1</text><text transform="translate(1913.1 1956.6) rotate(-90)">BST2</text><text transform="translate(1921.8 1956.6) rotate(-90)">IFI30</text></g>
<g font-size="10.7" fill="#111" stroke="#111" stroke-width="0.2"><text x="1926.2" y="1972.3">Lin <tspan font-style="italic">et al.</tspan> (F)</text><text x="1926.2" y="1989.4">TCW <tspan font-style="italic">et al.</tspan> ind4 (F)</text><text x="1926.2" y="2006.5">TCW <tspan font-style="italic">et al.</tspan> population</text><text x="1926.2" y="2023.6">TCW <tspan font-style="italic">et al.</tspan> ind3 (M)</text><text x="1926.2" y="2040.7">This manucript Kolf2.1J #1 (M)</text><text x="1926.2" y="2057.8">This manuscript BIONi037 (F)</text><text x="1926.2" y="2074.9">TCW <tspan font-style="italic">et al.</tspan> ind2 (M)</text><text x="1926.2" y="2092">TCW <tspan font-style="italic">et al.</tspan> ind1 (F)</text></g>
<path d="M146.2 1967.4H108.4V1984.7H146.2M146.2 2002.1H116V2019.5H146.2M116 2010.8H110.6V2036.8H146.2M108.4 1976.1H106.7V2023.8H110.6M106.7 1999.9H98.3V2054.2H146.2M146.2 2071.5H99.8V2088.9H146.2M98.3 2027.1H85.6V2080.2H99.8M613 2130.2V2158.2H1749.6V2132M281.8 2118.2V2130.2H944.3V2120.4M150.9 2097.6V2118.2H413.4V2116M285.7 2111.1V2115.9H541.6V2112.3M218.9 2103.4V2111.1H351.8V2106M192.5 2101V2103.4H254V2102M303.2 2102V2106H400.5V2103M527.3 2104.3V2112.3H555V2107.9M522.9 2097.6V2104.3H531.8V2097.6M540.4 2097.6V2107.9H569.3V2102.9M785.7 2110.2V2120.4H1102.3V2115M691.6 2104V2110.2H879.1V2107M813.6 2103V2107H945.5V2104M1041.6 2110.2V2115H1232.7V2111.1M1030 2104V2110.2H1053.2V2106M1147.9 2105.2V2111.1H1317.5V2107M1086.3 2097.6V2107H1101.4V2103M1093.8 2107V2115H1093.8V2107M1607.7 2124.8V2132H1891.6V2128.4M1525.9 2114.1V2124.8H1806.4V2122.1M1519.3 2097.6V2114.1H1532.3V2107.5M1527.7 2097.6V2107.5H1536.6V2097.6M1574.1 2114.1V2124.8H1574.1V2114.1M1552.7 2109.3V2114.1H1596.1V2112.3M1545.5 2097.6V2109.3H1560.4V2107M1553.2 2097.6V2107H1567.5V2101.6M1562.7 2097.6V2101.6H1571.6V2097.6M1580 2097.6V2112.3H1611.6V2107.9M1592.5 2102.5V2107.9H1630V2104M1761.6 2111.4V2122.1H1850.5V2112.3M1729.5 2105.2V2111.4H1793.4V2106.4M1837.7 2104.3V2112.3H1863.4V2106.4M1830.9 2097.6V2104.3H1844.3V2101.6M1857.1 2101.6V2106.4H1870.2V2101.6M1783.6 2097.6V2106.4H1804.1V2104.3M1883.2 2097.6V2128.4H1899.3V2118.6M1891.6 2097.6V2118.6H1907.1V2114.1M1901.1 2097.6V2114.1H1913.4V2107.5M1909.5 2097.6V2107.5H1917.5V2097.6M167.9 2097.6V2099.8H176.5V2097.6M159.2 2097.6V2100.3H172.2V2099.8M193.9 2097.6V2100.1H202.5V2097.6M185.2 2097.6V2100.6H198.2V2100.1M165.7 2100.3V2101.3H191.7V2100.6M178.7 2101.3V2103.8M211.2 2097.6V2099.6H219.9V2097.6M215.5 2099.6V2100.8H228.5V2097.6M222 2100.8V2101.4H237.2V2097.6M229.6 2101.4V2103.4M254.5 2097.6V2100.4H263.2V2097.6M258.9 2100.4V2101.6H271.9V2097.6M265.4 2101.6V2102.3H280.5V2097.6M245.9 2097.6V2103.9H272.9V2102.3M259.4 2103.9V2111.1M306.5 2097.6V2100.4H315.2V2097.6M297.9 2097.6V2101.6H310.9V2100.4M289.2 2097.6V2102.9H304.4V2101.6M296.8 2102.9V2103.4H323.9V2097.6M310.3 2103.4V2106M341.2 2097.6V2099.5H349.9V2097.6M332.5 2097.6V2101.2H345.5V2099.5M367.2 2097.6V2099.4H375.9V2097.6M358.5 2097.6V2100.8H371.5V2099.4M339 2101.2V2102H365V2100.8M352 2102V2106M401.9 2097.6V2100.3H410.5V2097.6M419.2 2097.6V2099.6H427.9V2097.6M406.2 2100.3V2101.7H423.5V2099.6M393.2 2097.6V2103.1H414.9V2101.7M404 2103.1V2104.7H436.5V2097.6M384.5 2097.6V2105.1H420.3V2104.7M402.4 2105.1V2107.6M453.9 2097.6V2099.9H462.5V2097.6M445.2 2097.6V2100.8H458.2V2099.9M488.5 2097.6V2100.5H497.2V2097.6M479.9 2097.6V2102.1H492.9V2100.5M471.2 2097.6V2102.5H486.4V2102.1M478.8 2102.5V2103.9H505.9V2097.6M451.7 2100.8V2104.7H492.3V2103.9M472 2104.7V2105.4H514.5V2097.6M493.3 2105.4V2107.9M557.9 2097.6V2099.8H566.5V2097.6M549.2 2097.6V2101.4H562.2V2099.8M555.7 2101.4V2102.6H575.2V2097.6M565.4 2102.6V2107.9M601.2 2097.6V2100.9H609.9V2097.6M592.5 2097.6V2101.7H605.5V2100.9M583.9 2097.6V2102.7H599V2101.7M591.4 2102.7V2105.2M618.5 2097.6V2100.3H627.2V2097.6M635.9 2097.6V2101H644.5V2097.6M640.2 2101V2101.5H653.2V2097.6M622.9 2100.3V2103H646.7V2101.5M634.8 2103V2105.5M661.9 2097.6V2100H670.5V2097.6M679.2 2097.6V2100.7H687.9V2097.6M696.5 2097.6V2100.6H705.2V2097.6M683.5 2100.7V2101.5H700.9V2100.6M692.2 2101.5V2102.5H713.9V2097.6M703 2102.5V2103.9H722.5V2097.6M666.2 2100V2105.2H712.8V2103.9M689.5 2105.2V2107.7M739.9 2097.6V2100.6H748.5V2097.6M744.2 2100.6V2101.5H757.2V2097.6M765.9 2097.6V2100H774.5V2097.6M750.7 2101.5V2103.1H770.2V2100M783.2 2097.6V2101H791.9V2097.6M760.4 2103.1V2103.7H787.5V2101M731.2 2097.6V2105.2H774V2103.7M752.6 2105.2V2110.2M800.5 2097.6V2100.9H809.2V2097.6M804.9 2100.9V2101.7H817.9V2097.6M826.5 2097.6V2100.6H835.2V2097.6M811.4 2101.7V2102.6H830.9V2100.6M821.1 2102.6V2107M843.9 2097.6V2099.7H852.5V2097.6M848.2 2099.7V2100.6H861.2V2097.6M869.9 2097.6V2099.8H878.5V2097.6M854.7 2100.6V2101.9H874.2V2099.8M887.2 2097.6V2099.5H895.9V2097.6M864.4 2101.9V2102.9H891.5V2099.5M878 2102.9V2107M921.9 2097.6V2100.5H930.5V2097.6M913.2 2097.6V2101.6H926.2V2100.5M919.7 2101.6V2102.4H939.2V2097.6M904.5 2097.6V2103.9H929.4V2102.4M917 2103.9V2104.3H947.9V2097.6M932.4 2104.3V2107M956.5 2097.6V2099.9H965.2V2097.6M960.9 2099.9V2100.7H973.9V2097.6M982.5 2097.6V2100.3H991.2V2097.6M986.9 2100.3V2101.4H999.9V2097.6M1008.5 2097.6V2100.1H1017.2V2097.6M993.4 2101.4V2102.4H1012.8V2100.1M967.4 2100.7V2103H1003.1V2102.4M985.2 2103V2105.5M1025.8 2097.6V2099.5H1034.5V2097.6M1030.2 2099.5V2102M1060.5 2097.6V2100.1H1069.2V2097.6M1064.8 2100.1V2101H1077.8V2097.6M1051.8 2097.6V2101.7H1071.3V2101M1043.2 2097.6V2102.5H1061.6V2101.7M1052.4 2102.5V2110.2M1086.5 2097.6V2099.7H1095.2V2097.6M1103.8 2097.6V2100.7H1112.5V2097.6M1090.8 2099.7V2101.5H1108.2V2100.7M1099.5 2101.5V2107M1129.8 2097.6V2100.5H1138.5V2097.6M1121.2 2097.6V2101.5H1134.2V2100.5M1147.2 2097.6V2100.8H1155.8V2097.6M1127.7 2101.5V2103H1151.5V2100.8M1139.6 2103V2103.4H1164.5V2097.6M1152.1 2103.4V2111.1M1173.2 2097.6V2100.3H1181.8V2097.6M1177.5 2100.3V2101.8H1190.5V2097.6M1184 2101.8V2103.4H1199.2V2097.6M1191.6 2103.4V2104.9H1207.8V2097.6M1199.7 2104.9V2105.4H1216.5V2097.6M1208.1 2105.4V2111.1M1225.2 2097.6V2100H1233.8V2097.6M1229.5 2100V2101.3H1242.5V2097.6M1236 2101.3V2102.8H1251.2V2097.6M1243.6 2102.8V2111.1M1268.5 2097.6V2099.4H1277.2V2097.6M1259.8 2097.6V2100.8H1272.8V2099.4M1266.3 2100.8V2101.8H1285.8V2097.6M1276.1 2101.8V2104.3M1303.2 2097.6V2100.9H1311.8V2097.6M1294.5 2097.6V2102.2H1307.5V2100.9M1301 2102.2V2103.2H1320.5V2097.6M1329.2 2097.6V2100.8H1337.8V2097.6M1310.8 2103.2V2104.7H1333.5V2100.8M1322.1 2104.7V2105.3H1346.5V2097.6M1334.3 2105.3V2107.8M1355.2 2097.6V2099.5H1363.8V2097.6M1372.5 2097.6V2100.6H1381.2V2097.6M1376.8 2100.6V2101H1389.8V2097.6M1359.5 2099.5V2102.3H1383.3V2101M1398.5 2097.6V2100.9H1407.2V2097.6M1402.8 2100.9V2101.6H1415.8V2097.6M1371.4 2102.3V2103.6H1409.3V2101.6M1390.4 2103.6V2106.1M1424.5 2097.6V2100.2H1433.2V2097.6M1441.8 2097.6V2099.5H1450.5V2097.6M1446.2 2099.5V2100.2H1459.2V2097.6M1428.8 2100.2V2101.3H1452.7V2100.2M1440.8 2101.3V2103.8M1485.2 2097.6V2100H1493.8V2097.6M1476.5 2097.6V2101.3H1489.5V2100M1483 2101.3V2102.9H1502.5V2097.6M1467.8 2097.6V2103.4H1492.8V2102.9M1480.3 2103.4V2104.2H1511.2V2097.6M1495.7 2104.2V2106.7M1580.5 2097.6V2100.5H1589.2V2097.6M1584.8 2100.5V2101.2H1597.8V2097.6M1591.3 2101.2V2103.7M1606.5 2097.6V2101.1H1615.2V2097.6M1623.8 2097.6V2100.9H1632.5V2097.6M1610.8 2101.1V2102.1H1628.2V2100.9M1619.5 2102.1V2107.9M1658.5 2097.6V2100.9H1667.2V2097.6M1649.8 2097.6V2102H1662.8V2100.9M1641.2 2097.6V2103H1656.3V2102M1648.8 2103V2105.5M1675.8 2097.6V2100.8H1684.5V2097.6M1693.2 2097.6V2100.7H1701.8V2097.6M1680.2 2100.8V2101.3H1697.5V2100.7M1688.8 2101.3V2103.8M1727.8 2097.6V2101H1736.5V2097.6M1719.2 2097.6V2102.1H1732.2V2101M1710.5 2097.6V2102.7H1725.7V2102.1M1718.1 2102.7V2105.2M1745.2 2097.6V2100H1753.8V2097.6M1762.5 2097.6V2100H1771.2V2097.6M1749.5 2100V2100.9H1766.8V2100M1758.2 2100.9V2103.4M1788.5 2097.6V2100.8H1797.2V2097.6M1779.8 2097.6V2101.8H1792.8V2100.8M1786.3 2101.8V2106.4M1814.5 2097.6V2100.7H1823.2V2097.6M1805.8 2097.6V2101.6H1818.8V2100.7M1812.3 2101.6V2104.1M1831.8 2097.6V2099.5H1840.5V2097.6M1836.2 2099.5V2101H1849.2V2097.6M1842.7 2101V2104.3M1857.8 2097.6V2101H1866.5V2097.6M1862.2 2101V2102.2H1875.2V2097.6M1868.7 2102.2V2106.4" stroke="#1a1a1a" stroke-width="1" fill="none"/>
</g>
<g id="pF">
<text x="59.2" y="2274.3" font-size="35" font-weight="bold" fill="#222">F</text>
<rect x="210.2" y="2491.7" width="54" height="136.2" fill="#b5b8b8" stroke="#000" stroke-width="1.9"/>
<rect x="297.7" y="2372.4" width="54.1" height="255.5" fill="#b5b8b8" stroke="#000" stroke-width="1.9"/>
<text x="160.9" y="2328.8" font-size="23.2" text-anchor="end" class="s">25</text>
<text x="160.9" y="2390.3" font-size="23.2" text-anchor="end" class="s">20</text>
<text x="160.9" y="2451.7" font-size="23.2" text-anchor="end" class="s">15</text>
<text x="160.9" y="2513.3" font-size="23.2" text-anchor="end" class="s">10</text>
<text x="160.9" y="2574.7" font-size="23.2" text-anchor="end" class="s">5</text>
<text x="160.9" y="2636.2" font-size="23.2" text-anchor="end" class="s">0</text>
<path d="M179.1 2319.7V2627.9M166.7 2627.9H382.9M179.1 2320.5h-12.4M179.1 2382h-12.4M179.1 2443.4h-12.4M179.1 2505h-12.4M179.1 2566.4h-12.4M179.1 2627.9h-12.4M237 2627.9v12.4M237 2482.4V2496.4M221.7 2482.4h30.6M221.7 2496.4h30.6M325 2627.9v12.4M325 2351.6V2389.5M309.7 2351.6h30.6M309.7 2389.5h30.6" stroke="#000" stroke-width="1.9" fill="none"/>
<path d="M227.8 2483.9h0M246.7 2487.4h0M237 2498.1h0M324.5 2348.3h0M315.3 2382h0M334 2381h0" stroke="#000" stroke-width="9.4" stroke-linecap="round" fill="none"/>
<text x="233.8" y="2671.9" font-size="35" text-anchor="middle" class="s">E3</text>
<text x="321.8" y="2671.9" font-size="35" text-anchor="middle" class="s">E4</text>
<text transform="translate(125 2484) rotate(-90)" font-size="25.7" text-anchor="middle">CPM (Plin2)</text>
<text x="273.8" y="2281.3" font-size="28" text-anchor="middle" font-weight="bold">BIONi037</text>
<rect x="526.6" y="2449.2" width="54.3" height="178.1" fill="#b5b8b8" stroke="#000" stroke-width="1.9"/>
<rect x="614.1" y="2369.8" width="54.5" height="257.5" fill="#b5b8b8" stroke="#000" stroke-width="1.9"/>
<text x="476.7" y="2328.1" font-size="23.2" text-anchor="end" class="s">30</text>
<text x="476.7" y="2430.5" font-size="23.2" text-anchor="end" class="s">20</text>
<text x="476.7" y="2533" font-size="23.2" text-anchor="end" class="s">10</text>
<text x="476.7" y="2635.6" font-size="23.2" text-anchor="end" class="s">0</text>
<path d="M495.5 2319V2627.3M483.1 2627.3H699.7M495.5 2319.8h-12.4M495.5 2422.2h-12.4M495.5 2524.7h-12.4M495.5 2627.3h-12.4M553.4 2627.3v12.4M553.4 2434.6V2459.7M538.1 2434.6h30.6M538.1 2459.7h30.6M641.4 2627.3v12.4M641.4 2353.7V2381M626.1 2353.7h30.6M626.1 2381h30.6" stroke="#000" stroke-width="1.9" fill="none"/>
<path d="M553.6 2433.5h0M544.2 2458.8h0M563.1 2449.8h0M631.7 2356.5h0M650.6 2363.8h0M641.4 2382.7h0" stroke="#000" stroke-width="9.4" stroke-linecap="round" fill="none"/>
<text x="554.4" y="2671.9" font-size="35" text-anchor="middle" class="s">E3</text>
<text x="642.4" y="2671.9" font-size="35" text-anchor="middle" class="s">E4</text>
<text transform="translate(441.8 2489.5) rotate(-90)" font-size="25.7" text-anchor="middle">CPM (Plin2)</text>
<text x="603.2" y="2281.3" font-size="28" text-anchor="middle" font-weight="bold">Kolf2.1J</text>
</g>
<g id="pG">
<text x="858.7" y="2274.5" font-size="35" font-weight="bold" fill="#222">G</text>
<text x="1240" y="2282.4" font-size="25" text-anchor="middle" font-weight="bold">ApoE4 vs ApoE3 mRNA expression</text>
<rect x="989.5" y="2486.4" width="33" height="111.5" fill="#d0d2d2"/>
<rect x="1038.8" y="2534.8" width="33" height="63.1" fill="#d0d2d2"/>
<rect x="1088.1" y="2559.8" width="33" height="38.1" fill="#d0d2d2"/>
<rect x="1137.3" y="2521" width="33" height="76.9" fill="#d0d2d2"/>
<rect x="1186.6" y="2458.6" width="33" height="139.3" fill="#d0d2d2"/>
<rect x="1235.9" y="2416.2" width="33" height="181.7" fill="#d0d2d2"/>
<rect x="1285.2" y="2410.2" width="33" height="187.7" fill="#d0d2d2"/>
<rect x="1334.5" y="2475" width="33" height="122.9" fill="#d0d2d2"/>
<rect x="1383.7" y="2486" width="33" height="111.9" fill="#d0d2d2"/>
<rect x="1433" y="2444" width="33" height="153.9" fill="#d0d2d2"/>
<path d="M973.3 2415H1482.6" stroke="#000" stroke-width="1.5" stroke-dasharray="1.55 1.55" fill="none"/>
<text x="962.8" y="2328.8" font-size="22.2" text-anchor="end" class="s">1.5</text>
<text x="962.8" y="2420.9" font-size="22.2" text-anchor="end" class="s">1.0</text>
<text x="962.8" y="2512.6" font-size="22.2" text-anchor="end" class="s">0.5</text>
<text x="962.8" y="2603.8" font-size="22.2" text-anchor="end" class="s">0.0</text>
<path d="M973.3 2322.1V2597.9M965.5 2597.9H1482.6M973.3 2322.9h-7.8M973.3 2415h-7.8M973.3 2506.7h-7.8M973.3 2597.9h-7.8M1006 2597.9v7.6M1006 2476.2V2497.1M997 2476.2h18M997 2497.1h18M1055.3 2597.9v7.6M1055.3 2526V2543.1M1046.3 2526h18M1046.3 2543.1h18M1104.6 2597.9v7.6M1104.6 2551V2568.6M1095.6 2551h18M1095.6 2568.6h18M1153.8 2597.9v7.6M1153.8 2501.7V2540.7M1144.8 2501.7h18M1144.8 2540.7h18M1203.1 2597.9v7.6M1203.1 2408.1V2509.3M1194.1 2408.1h18M1194.1 2509.3h18M1252.4 2597.9v7.6M1252.4 2406V2424.8M1243.4 2406h18M1243.4 2424.8h18M1301.7 2597.9v7.6M1301.7 2380V2440.5M1292.7 2380h18M1292.7 2440.5h18M1351 2597.9v7.6M1351 2463.8V2485.7M1342 2463.8h18M1342 2485.7h18M1400.2 2597.9v7.6M1400.2 2456.7V2515.7M1391.2 2456.7h18M1391.2 2515.7h18M1449.5 2597.9v7.6M1449.5 2424V2463.6M1440.5 2424h18M1440.5 2463.6h18M983.6 2687H1221.7M1231 2687H1469.8" stroke="#000" stroke-width="1.8" fill="none"/>
<path d="M1006 2465.2L1010.3 2473L1001.7 2473ZM1006 2483.7L1010.3 2491.5L1001.7 2491.5ZM1006 2500.4L1010.3 2508.2L1001.7 2508.2ZM1055.2 2513.5L1059.5 2521.3L1050.9 2521.3ZM1043.6 2540.2L1047.9 2548L1039.3 2548ZM1066.9 2538.3L1071.2 2546.1L1062.6 2546.1ZM1104.3 2538.5L1108.6 2546.3L1100 2546.3ZM1092.6 2566.4L1096.9 2574.2L1088.3 2574.2ZM1116.2 2564L1120.5 2571.8L1111.9 2571.8ZM1153.8 2478.7L1158.1 2486.5L1149.5 2486.5ZM1141.9 2540.2L1146.2 2548L1137.6 2548ZM1165.7 2533.3L1170 2541.1L1161.4 2541.1ZM1202.9 2356.8L1207.2 2364.6L1198.6 2364.6ZM1202.9 2483L1207.2 2490.8L1198.6 2490.8ZM1202.9 2525.9L1207.2 2533.7L1198.6 2533.7Z" stroke="#5f3c8f" stroke-width="1.9" fill="none" stroke-linejoin="miter"/>
<path d="M1252.4 2393L1256.7 2400.8L1248.1 2400.8ZM1240.5 2423.5L1244.8 2431.3L1236.2 2431.3ZM1264.3 2418.7L1268.6 2426.5L1260 2426.5ZM1301.7 2359.9L1306 2367.7L1297.4 2367.7ZM1301.7 2396.6L1306 2404.4L1297.4 2404.4ZM1301.7 2462.8L1306 2470.6L1297.4 2470.6ZM1351 2449L1355.3 2456.8L1346.7 2456.8ZM1339 2483L1343.3 2490.8L1334.7 2490.8ZM1362.6 2481.8L1366.9 2489.6L1358.3 2489.6ZM1400.2 2437.8L1404.5 2445.6L1395.9 2445.6ZM1400.2 2471.6L1404.5 2479.4L1395.9 2479.4ZM1400.2 2538.5L1404.5 2546.3L1395.9 2546.3ZM1449.5 2401.4L1453.8 2409.2L1445.2 2409.2ZM1449.5 2453.3L1453.8 2461.1L1445.2 2461.1ZM1449.5 2465.9L1453.8 2473.7L1445.2 2473.7Z" stroke="#a8184e" stroke-width="1.9" fill="none" stroke-linejoin="miter"/>
<text x="985.2" y="2338.3" font-size="13.9" fill="#222">P=0.06</text>
<text x="1126.4" y="2338.3" font-size="13.9" fill="#222">P=0.06</text>
<text x="1327.4" y="2338.3" font-size="13.9" fill="#222">P=0.06</text>
<text x="1054.8" y="2343" font-size="19" text-anchor="middle" fill="#222">*</text>
<text x="1097.6" y="2343" font-size="19" text-anchor="middle" fill="#222">*</text>
<text transform="translate(1012.7 2628.3) rotate(-39)" font-size="20.6" text-anchor="end">IRF1</text>
<text transform="translate(1071.3 2625.9) rotate(-39)" font-size="20.6" text-anchor="end">NLRC5</text>
<text transform="translate(1117.7 2628.8) rotate(-39)" font-size="20.6" text-anchor="end">HLA-B</text>
<text transform="translate(1170.6 2627.1) rotate(-39)" font-size="20.6" text-anchor="end">PSMB9</text>
<text transform="translate(1211 2626.4) rotate(-39)" font-size="20.6" text-anchor="end">B2M</text>
<text transform="translate(1259.1 2628.8) rotate(-39)" font-size="20.6" text-anchor="end">IRF1</text>
<text transform="translate(1317.5 2626.4) rotate(-39)" font-size="20.6" text-anchor="end">NLRC5</text>
<text transform="translate(1364.6 2628.8) rotate(-39)" font-size="20.6" text-anchor="end">HLA-B</text>
<text transform="translate(1417 2627.1) rotate(-39)" font-size="20.6" text-anchor="end">PSMB9</text>
<text transform="translate(1456.8 2626.4) rotate(-39)" font-size="20.6" text-anchor="end">B2M</text>
<text transform="translate(920.5 2459.3) rotate(-90)" font-size="21.3" text-anchor="middle" textLength="245.7" lengthAdjust="spacingAndGlyphs">Relative mRNA expression</text>
<text x="1114.2" y="2713.6" font-size="25" text-anchor="middle" class="s">BIONi037</text>
<text x="1349.8" y="2713.6" font-size="25" text-anchor="middle" class="s">Kolf2.1J</text>
</g>
</svg>
</body></html>
